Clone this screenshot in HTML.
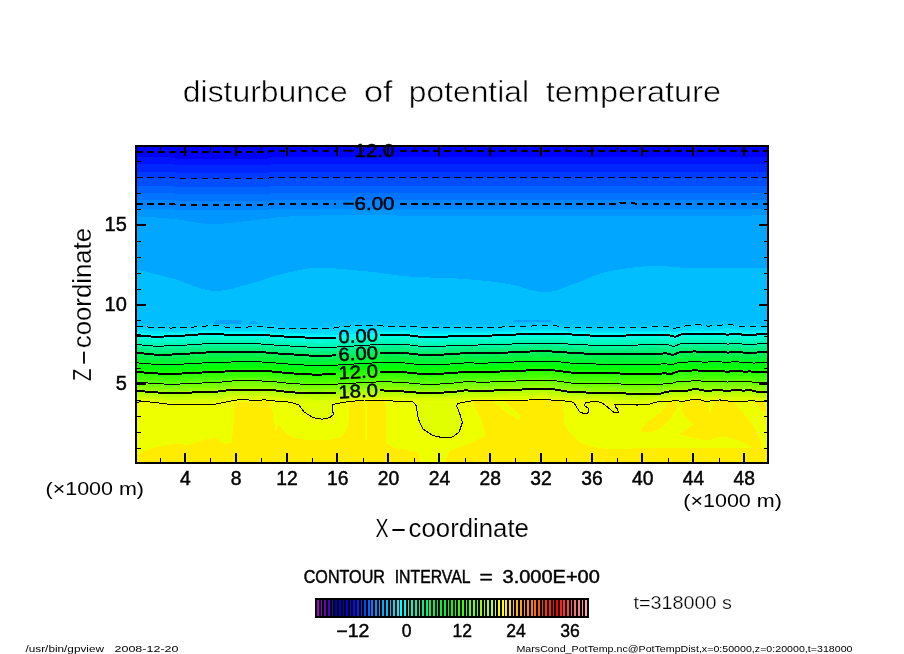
<!DOCTYPE html>
<html><head><meta charset="utf-8"><title>disturbunce of potential temperature</title>
<style>
html,body{margin:0;padding:0;background:#fff;}
body{width:904px;height:654px;overflow:hidden;}
svg{display:block;will-change:transform;}
svg text{font-family:"Liberation Sans",sans-serif;fill:#000;}
</style></head><body>
<svg width="904" height="654" viewBox="0 0 904 654">
<rect width="904" height="654" fill="#fff"/>
<defs><clipPath id="pc"><rect x="136" y="146" width="632" height="317"/></clipPath><clipPath id="b21"><path d="M136.0,402.3 L145.0,401.4 L168.0,404.1 L216.0,404.1 L233.0,400.5 L240.0,399.6 L260.0,400.5 L263.0,399.6 L278.0,401.4 L291.0,402.2 L298.8,405.0 L304.3,412.1 L313.2,417.7 L322.0,419.2 L329.8,417.7 L333.5,414.3 L332.0,408.8 L333.0,404.4 L344.2,402.2 L364.0,400.0 L386.2,400.6 L401.7,401.5 L412.7,401.5 L416.0,405.5 L418.3,418.8 L422.7,428.7 L432.7,435.4 L443.7,438.0 L452.6,436.9 L459.2,432.0 L462.5,422.1 L459.2,412.1 L456.5,405.9 L458.0,403.5 L463.6,402.2 L474.0,400.5 L509.0,400.5 L544.5,399.6 L560.0,400.6 L571.5,401.5 L574.2,403.3 L579.5,411.7 L585.2,414.1 L588.3,412.6 L588.3,408.1 L584.8,405.9 L585.2,402.8 L592.7,401.5 L598.0,401.5 L602.5,403.3 L607.8,407.3 L613.5,412.1 L618.4,412.1 L617.5,408.6 L615.3,407.3 L614.9,404.6 L622.0,404.2 L635.0,404.2 L637.0,405.2 L640.0,404.2 L648.0,404.5 L656.0,402.1 L674.6,400.8 L683.9,401.2 L694.5,399.2 L701.1,399.9 L705.1,401.6 L719.7,399.9 L733.0,401.6 L752.9,400.8 L762.2,401.9 L768.0,401.9 L768,464 L136,464 Z"/></clipPath></defs>
<g clip-path="url(#pc)" shape-rendering="crispEdges">
<path d="M136.0,146.0 L140.0,146.0 L144.0,146.0 L148.0,146.0 L152.0,146.0 L156.0,146.0 L160.0,146.0 L164.0,146.0 L168.0,146.0 L172.0,146.0 L176.0,146.0 L180.0,146.0 L184.0,146.0 L188.0,146.0 L192.0,146.0 L196.0,146.0 L200.0,146.0 L204.0,146.0 L208.0,146.0 L212.0,146.0 L216.0,146.0 L220.0,146.0 L224.0,146.0 L228.0,146.0 L232.0,146.0 L236.0,146.0 L240.0,146.0 L244.0,146.0 L248.0,146.0 L252.0,146.0 L256.0,146.0 L260.0,146.0 L264.0,146.0 L268.0,146.0 L272.0,146.0 L276.0,146.0 L280.0,146.0 L284.0,146.0 L288.0,146.0 L292.0,146.0 L296.0,146.0 L300.0,146.0 L304.0,146.0 L308.0,146.0 L312.0,146.0 L316.0,146.0 L320.0,146.0 L324.0,146.0 L328.0,146.0 L332.0,146.0 L336.0,146.0 L340.0,146.0 L344.0,146.0 L348.0,146.0 L352.0,146.0 L356.0,146.0 L360.0,146.0 L364.0,146.0 L368.0,146.0 L372.0,146.0 L376.0,146.0 L380.0,146.0 L384.0,146.0 L388.0,146.0 L392.0,146.0 L396.0,146.0 L400.0,146.0 L404.0,146.0 L408.0,146.0 L412.0,146.0 L416.0,146.0 L420.0,146.0 L424.0,146.0 L428.0,146.0 L432.0,146.0 L436.0,146.0 L440.0,146.0 L444.0,146.0 L448.0,146.0 L452.0,146.0 L456.0,146.0 L460.0,146.0 L464.0,146.0 L468.0,146.0 L472.0,146.0 L476.0,146.0 L480.0,146.0 L484.0,146.0 L488.0,146.0 L492.0,146.0 L496.0,146.0 L500.0,146.0 L504.0,146.0 L508.0,146.0 L512.0,146.0 L516.0,146.0 L520.0,146.0 L524.0,146.0 L528.0,146.0 L532.0,146.0 L536.0,146.0 L540.0,146.0 L544.0,146.0 L548.0,146.0 L552.0,146.0 L556.0,146.0 L560.0,146.0 L564.0,146.0 L568.0,146.0 L572.0,146.0 L576.0,146.0 L580.0,146.0 L584.0,146.0 L588.0,146.0 L592.0,146.0 L596.0,146.0 L600.0,146.0 L604.0,146.0 L608.0,146.0 L612.0,146.0 L616.0,146.0 L620.0,146.0 L624.0,146.0 L628.0,146.0 L632.0,146.0 L636.0,146.0 L640.0,146.0 L644.0,146.0 L648.0,146.0 L652.0,146.0 L656.0,146.0 L660.0,146.0 L664.0,146.0 L668.0,146.0 L672.0,146.0 L676.0,146.0 L680.0,146.0 L684.0,146.0 L688.0,146.0 L692.0,146.0 L696.0,146.0 L700.0,146.0 L704.0,146.0 L708.0,146.0 L712.0,146.0 L716.0,146.0 L720.0,146.0 L724.0,146.0 L728.0,146.0 L732.0,146.0 L736.0,146.0 L740.0,146.0 L744.0,146.0 L748.0,146.0 L752.0,146.0 L756.0,146.0 L760.0,146.0 L764.0,146.0 L768.0,146.0 L768.0,157.4 L764.0,157.4 L760.0,157.4 L756.0,157.4 L752.0,157.4 L748.0,157.4 L744.0,157.4 L740.0,157.4 L736.0,157.4 L732.0,157.4 L728.0,157.4 L724.0,157.4 L720.0,157.4 L716.0,157.4 L712.0,157.4 L708.0,157.4 L704.0,157.4 L700.0,157.4 L696.0,157.4 L692.0,157.4 L688.0,157.4 L684.0,157.4 L680.0,157.4 L676.0,157.4 L672.0,157.4 L668.0,157.4 L664.0,157.4 L660.0,157.4 L656.0,157.4 L652.0,157.4 L648.0,157.4 L644.0,157.4 L640.0,157.4 L636.0,157.4 L632.0,157.4 L628.0,157.4 L624.0,157.4 L620.0,157.4 L616.0,157.4 L612.0,157.4 L608.0,157.4 L604.0,157.4 L600.0,157.4 L596.0,157.4 L592.0,157.4 L588.0,157.4 L584.0,157.4 L580.0,157.4 L576.0,157.4 L572.0,157.4 L568.0,157.4 L564.0,157.4 L560.0,157.4 L556.0,157.4 L552.0,157.4 L548.0,157.4 L544.0,157.4 L540.0,157.4 L536.0,157.4 L532.0,157.4 L528.0,157.4 L524.0,157.4 L520.0,157.4 L516.0,157.4 L512.0,157.4 L508.0,157.4 L504.0,157.4 L500.0,157.4 L496.0,157.4 L492.0,157.4 L488.0,157.4 L484.0,157.4 L480.0,157.4 L476.0,157.4 L472.0,157.4 L468.0,157.4 L464.0,157.4 L460.0,157.4 L456.0,157.4 L452.0,157.4 L448.0,157.4 L444.0,157.4 L440.0,157.4 L436.0,157.4 L432.0,157.4 L428.0,157.4 L424.0,157.4 L420.0,157.4 L416.0,157.4 L412.0,157.4 L408.0,157.4 L404.0,157.4 L400.0,157.4 L396.0,157.4 L392.0,157.4 L388.0,157.4 L384.0,157.4 L380.0,157.4 L376.0,157.4 L372.0,157.4 L368.0,157.4 L364.0,157.4 L360.0,157.4 L356.0,157.4 L352.0,157.4 L348.0,157.4 L344.0,157.4 L340.0,157.4 L336.0,157.4 L332.0,157.4 L328.0,157.4 L324.0,157.4 L320.0,157.4 L316.0,157.4 L312.0,157.4 L308.0,157.4 L304.0,157.4 L300.0,157.4 L296.0,157.4 L292.0,157.4 L288.0,157.4 L284.0,157.4 L280.0,157.4 L276.0,157.4 L272.0,157.4 L268.0,158.5 L264.0,158.5 L260.0,158.5 L256.0,158.5 L252.0,158.5 L248.0,158.5 L244.0,158.5 L240.0,158.5 L236.0,158.5 L232.0,158.5 L228.0,158.5 L224.0,158.5 L220.0,158.5 L216.0,158.5 L212.0,158.5 L208.0,158.5 L204.0,158.5 L200.0,158.5 L196.0,158.5 L192.0,158.5 L188.0,158.5 L184.0,158.5 L180.0,158.5 L176.0,158.5 L172.0,157.4 L168.0,157.4 L164.0,157.4 L160.0,157.4 L156.0,157.4 L152.0,157.4 L148.0,157.4 L144.0,157.4 L140.0,157.4 L136.0,157.4Z" fill="#0000ff"/>
<path d="M136.0,157.4 L140.0,157.4 L144.0,157.4 L148.0,157.4 L152.0,157.4 L156.0,157.4 L160.0,157.4 L164.0,157.4 L168.0,157.4 L172.0,157.4 L176.0,158.5 L180.0,158.5 L184.0,158.5 L188.0,158.5 L192.0,158.5 L196.0,158.5 L200.0,158.5 L204.0,158.5 L208.0,158.5 L212.0,158.5 L216.0,158.5 L220.0,158.5 L224.0,158.5 L228.0,158.5 L232.0,158.5 L236.0,158.5 L240.0,158.5 L244.0,158.5 L248.0,158.5 L252.0,158.5 L256.0,158.5 L260.0,158.5 L264.0,158.5 L268.0,158.5 L272.0,157.4 L276.0,157.4 L280.0,157.4 L284.0,157.4 L288.0,157.4 L292.0,157.4 L296.0,157.4 L300.0,157.4 L304.0,157.4 L308.0,157.4 L312.0,157.4 L316.0,157.4 L320.0,157.4 L324.0,157.4 L328.0,157.4 L332.0,157.4 L336.0,157.4 L340.0,157.4 L344.0,157.4 L348.0,157.4 L352.0,157.4 L356.0,157.4 L360.0,157.4 L364.0,157.4 L368.0,157.4 L372.0,157.4 L376.0,157.4 L380.0,157.4 L384.0,157.4 L388.0,157.4 L392.0,157.4 L396.0,157.4 L400.0,157.4 L404.0,157.4 L408.0,157.4 L412.0,157.4 L416.0,157.4 L420.0,157.4 L424.0,157.4 L428.0,157.4 L432.0,157.4 L436.0,157.4 L440.0,157.4 L444.0,157.4 L448.0,157.4 L452.0,157.4 L456.0,157.4 L460.0,157.4 L464.0,157.4 L468.0,157.4 L472.0,157.4 L476.0,157.4 L480.0,157.4 L484.0,157.4 L488.0,157.4 L492.0,157.4 L496.0,157.4 L500.0,157.4 L504.0,157.4 L508.0,157.4 L512.0,157.4 L516.0,157.4 L520.0,157.4 L524.0,157.4 L528.0,157.4 L532.0,157.4 L536.0,157.4 L540.0,157.4 L544.0,157.4 L548.0,157.4 L552.0,157.4 L556.0,157.4 L560.0,157.4 L564.0,157.4 L568.0,157.4 L572.0,157.4 L576.0,157.4 L580.0,157.4 L584.0,157.4 L588.0,157.4 L592.0,157.4 L596.0,157.4 L600.0,157.4 L604.0,157.4 L608.0,157.4 L612.0,157.4 L616.0,157.4 L620.0,157.4 L624.0,157.4 L628.0,157.4 L632.0,157.4 L636.0,157.4 L640.0,157.4 L644.0,157.4 L648.0,157.4 L652.0,157.4 L656.0,157.4 L660.0,157.4 L664.0,157.4 L668.0,157.4 L672.0,157.4 L676.0,157.4 L680.0,157.4 L684.0,157.4 L688.0,157.4 L692.0,157.4 L696.0,157.4 L700.0,157.4 L704.0,157.4 L708.0,157.4 L712.0,157.4 L716.0,157.4 L720.0,157.4 L724.0,157.4 L728.0,157.4 L732.0,157.4 L736.0,157.4 L740.0,157.4 L744.0,157.4 L748.0,157.4 L752.0,157.4 L756.0,157.4 L760.0,157.4 L764.0,157.4 L768.0,157.4 L768.0,164.2 L764.0,164.2 L760.0,164.2 L756.0,164.2 L752.0,164.2 L748.0,164.2 L744.0,164.2 L740.0,164.2 L736.0,164.2 L732.0,164.2 L728.0,164.2 L724.0,164.2 L720.0,164.2 L716.0,164.2 L712.0,164.2 L708.0,164.2 L704.0,164.2 L700.0,164.2 L696.0,164.2 L692.0,164.2 L688.0,164.2 L684.0,164.2 L680.0,164.2 L676.0,164.2 L672.0,164.2 L668.0,164.2 L664.0,164.2 L660.0,164.2 L656.0,164.2 L652.0,164.2 L648.0,164.2 L644.0,164.2 L640.0,164.2 L636.0,164.2 L632.0,164.2 L628.0,164.2 L624.0,164.2 L620.0,164.2 L616.0,164.2 L612.0,164.2 L608.0,164.2 L604.0,164.2 L600.0,164.2 L596.0,164.2 L592.0,164.2 L588.0,164.2 L584.0,164.2 L580.0,164.2 L576.0,164.2 L572.0,164.2 L568.0,164.2 L564.0,164.2 L560.0,164.2 L556.0,164.2 L552.0,164.2 L548.0,164.2 L544.0,164.2 L540.0,164.2 L536.0,164.2 L532.0,164.2 L528.0,164.2 L524.0,164.2 L520.0,164.2 L516.0,164.2 L512.0,164.2 L508.0,164.2 L504.0,164.2 L500.0,164.2 L496.0,164.2 L492.0,164.2 L488.0,164.2 L484.0,164.2 L480.0,164.2 L476.0,164.2 L472.0,164.2 L468.0,164.2 L464.0,164.2 L460.0,164.2 L456.0,164.2 L452.0,164.2 L448.0,164.2 L444.0,164.2 L440.0,164.2 L436.0,164.2 L432.0,164.2 L428.0,164.2 L424.0,164.2 L420.0,164.2 L416.0,164.2 L412.0,164.2 L408.0,164.2 L404.0,164.2 L400.0,164.2 L396.0,164.2 L392.0,164.2 L388.0,164.2 L384.0,164.2 L380.0,164.2 L376.0,164.2 L372.0,164.2 L368.0,164.2 L364.0,164.2 L360.0,164.2 L356.0,164.2 L352.0,164.2 L348.0,164.2 L344.0,164.2 L340.0,164.2 L336.0,164.2 L332.0,164.2 L328.0,164.2 L324.0,164.2 L320.0,164.2 L316.0,164.2 L312.0,164.2 L308.0,164.2 L304.0,164.2 L300.0,164.2 L296.0,164.2 L292.0,164.2 L288.0,164.2 L284.0,164.2 L280.0,164.2 L276.0,164.2 L272.0,164.2 L268.0,165.3 L264.0,165.3 L260.0,165.3 L256.0,165.3 L252.0,165.3 L248.0,165.3 L244.0,165.3 L240.0,165.3 L236.0,165.3 L232.0,165.3 L228.0,165.3 L224.0,165.3 L220.0,165.3 L216.0,165.3 L212.0,165.3 L208.0,165.3 L204.0,165.3 L200.0,165.3 L196.0,165.3 L192.0,165.3 L188.0,165.3 L184.0,165.3 L180.0,165.3 L176.0,165.3 L172.0,164.2 L168.0,164.2 L164.0,164.2 L160.0,164.2 L156.0,164.2 L152.0,164.2 L148.0,164.2 L144.0,164.2 L140.0,164.2 L136.0,164.2Z" fill="#0012ff"/>
<path d="M136.0,164.2 L140.0,164.2 L144.0,164.2 L148.0,164.2 L152.0,164.2 L156.0,164.2 L160.0,164.2 L164.0,164.2 L168.0,164.2 L172.0,164.2 L176.0,165.3 L180.0,165.3 L184.0,165.3 L188.0,165.3 L192.0,165.3 L196.0,165.3 L200.0,165.3 L204.0,165.3 L208.0,165.3 L212.0,165.3 L216.0,165.3 L220.0,165.3 L224.0,165.3 L228.0,165.3 L232.0,165.3 L236.0,165.3 L240.0,165.3 L244.0,165.3 L248.0,165.3 L252.0,165.3 L256.0,165.3 L260.0,165.3 L264.0,165.3 L268.0,165.3 L272.0,164.2 L276.0,164.2 L280.0,164.2 L284.0,164.2 L288.0,164.2 L292.0,164.2 L296.0,164.2 L300.0,164.2 L304.0,164.2 L308.0,164.2 L312.0,164.2 L316.0,164.2 L320.0,164.2 L324.0,164.2 L328.0,164.2 L332.0,164.2 L336.0,164.2 L340.0,164.2 L344.0,164.2 L348.0,164.2 L352.0,164.2 L356.0,164.2 L360.0,164.2 L364.0,164.2 L368.0,164.2 L372.0,164.2 L376.0,164.2 L380.0,164.2 L384.0,164.2 L388.0,164.2 L392.0,164.2 L396.0,164.2 L400.0,164.2 L404.0,164.2 L408.0,164.2 L412.0,164.2 L416.0,164.2 L420.0,164.2 L424.0,164.2 L428.0,164.2 L432.0,164.2 L436.0,164.2 L440.0,164.2 L444.0,164.2 L448.0,164.2 L452.0,164.2 L456.0,164.2 L460.0,164.2 L464.0,164.2 L468.0,164.2 L472.0,164.2 L476.0,164.2 L480.0,164.2 L484.0,164.2 L488.0,164.2 L492.0,164.2 L496.0,164.2 L500.0,164.2 L504.0,164.2 L508.0,164.2 L512.0,164.2 L516.0,164.2 L520.0,164.2 L524.0,164.2 L528.0,164.2 L532.0,164.2 L536.0,164.2 L540.0,164.2 L544.0,164.2 L548.0,164.2 L552.0,164.2 L556.0,164.2 L560.0,164.2 L564.0,164.2 L568.0,164.2 L572.0,164.2 L576.0,164.2 L580.0,164.2 L584.0,164.2 L588.0,164.2 L592.0,164.2 L596.0,164.2 L600.0,164.2 L604.0,164.2 L608.0,164.2 L612.0,164.2 L616.0,164.2 L620.0,164.2 L624.0,164.2 L628.0,164.2 L632.0,164.2 L636.0,164.2 L640.0,164.2 L644.0,164.2 L648.0,164.2 L652.0,164.2 L656.0,164.2 L660.0,164.2 L664.0,164.2 L668.0,164.2 L672.0,164.2 L676.0,164.2 L680.0,164.2 L684.0,164.2 L688.0,164.2 L692.0,164.2 L696.0,164.2 L700.0,164.2 L704.0,164.2 L708.0,164.2 L712.0,164.2 L716.0,164.2 L720.0,164.2 L724.0,164.2 L728.0,164.2 L732.0,164.2 L736.0,164.2 L740.0,164.2 L744.0,164.2 L748.0,164.2 L752.0,164.2 L756.0,164.2 L760.0,164.2 L764.0,164.2 L768.0,164.2 L768.0,171.5 L764.0,171.5 L760.0,171.5 L756.0,171.5 L752.0,171.5 L748.0,171.5 L744.0,171.5 L740.0,171.5 L736.0,171.5 L732.0,171.5 L728.0,171.5 L724.0,171.5 L720.0,171.5 L716.0,171.5 L712.0,171.5 L708.0,171.5 L704.0,171.5 L700.0,171.5 L696.0,171.5 L692.0,171.5 L688.0,171.5 L684.0,171.5 L680.0,171.5 L676.0,171.5 L672.0,171.5 L668.0,171.5 L664.0,171.5 L660.0,171.5 L656.0,171.5 L652.0,171.5 L648.0,171.5 L644.0,171.5 L640.0,171.5 L636.0,171.5 L632.0,171.5 L628.0,171.5 L624.0,171.5 L620.0,171.5 L616.0,171.5 L612.0,171.5 L608.0,171.5 L604.0,171.5 L600.0,171.5 L596.0,171.5 L592.0,171.5 L588.0,171.5 L584.0,171.5 L580.0,171.5 L576.0,171.5 L572.0,171.5 L568.0,171.5 L564.0,171.5 L560.0,171.5 L556.0,171.5 L552.0,171.5 L548.0,171.5 L544.0,171.5 L540.0,171.5 L536.0,171.5 L532.0,171.5 L528.0,171.5 L524.0,171.5 L520.0,171.5 L516.0,171.5 L512.0,171.5 L508.0,171.5 L504.0,171.5 L500.0,171.5 L496.0,171.5 L492.0,171.5 L488.0,171.5 L484.0,171.5 L480.0,171.5 L476.0,171.5 L472.0,171.5 L468.0,171.5 L464.0,171.5 L460.0,171.5 L456.0,171.5 L452.0,171.5 L448.0,171.5 L444.0,171.5 L440.0,171.5 L436.0,171.5 L432.0,171.5 L428.0,171.5 L424.0,171.5 L420.0,171.5 L416.0,171.5 L412.0,171.5 L408.0,171.5 L404.0,171.5 L400.0,171.5 L396.0,171.5 L392.0,171.5 L388.0,171.5 L384.0,171.5 L380.0,171.5 L376.0,171.5 L372.0,171.5 L368.0,171.5 L364.0,171.5 L360.0,171.5 L356.0,171.5 L352.0,171.5 L348.0,171.5 L344.0,171.5 L340.0,171.5 L336.0,171.5 L332.0,171.5 L328.0,171.5 L324.0,171.5 L320.0,171.5 L316.0,171.5 L312.0,171.5 L308.0,171.5 L304.0,171.5 L300.0,171.5 L296.0,171.5 L292.0,171.5 L288.0,171.5 L284.0,171.5 L280.0,171.5 L276.0,171.5 L272.0,171.5 L268.0,172.6 L264.0,172.6 L260.0,172.6 L256.0,172.6 L252.0,172.6 L248.0,172.6 L244.0,172.6 L240.0,172.6 L236.0,172.6 L232.0,172.6 L228.0,172.6 L224.0,172.6 L220.0,172.6 L216.0,172.6 L212.0,172.6 L208.0,172.6 L204.0,172.6 L200.0,172.6 L196.0,172.6 L192.0,172.6 L188.0,172.6 L184.0,172.6 L180.0,172.6 L176.0,172.6 L172.0,171.5 L168.0,171.5 L164.0,171.5 L160.0,171.5 L156.0,171.5 L152.0,171.5 L148.0,171.5 L144.0,171.5 L140.0,171.5 L136.0,171.5Z" fill="#0026ff"/>
<path d="M136.0,171.5 L140.0,171.5 L144.0,171.5 L148.0,171.5 L152.0,171.5 L156.0,171.5 L160.0,171.5 L164.0,171.5 L168.0,171.5 L172.0,171.5 L176.0,172.6 L180.0,172.6 L184.0,172.6 L188.0,172.6 L192.0,172.6 L196.0,172.6 L200.0,172.6 L204.0,172.6 L208.0,172.6 L212.0,172.6 L216.0,172.6 L220.0,172.6 L224.0,172.6 L228.0,172.6 L232.0,172.6 L236.0,172.6 L240.0,172.6 L244.0,172.6 L248.0,172.6 L252.0,172.6 L256.0,172.6 L260.0,172.6 L264.0,172.6 L268.0,172.6 L272.0,171.5 L276.0,171.5 L280.0,171.5 L284.0,171.5 L288.0,171.5 L292.0,171.5 L296.0,171.5 L300.0,171.5 L304.0,171.5 L308.0,171.5 L312.0,171.5 L316.0,171.5 L320.0,171.5 L324.0,171.5 L328.0,171.5 L332.0,171.5 L336.0,171.5 L340.0,171.5 L344.0,171.5 L348.0,171.5 L352.0,171.5 L356.0,171.5 L360.0,171.5 L364.0,171.5 L368.0,171.5 L372.0,171.5 L376.0,171.5 L380.0,171.5 L384.0,171.5 L388.0,171.5 L392.0,171.5 L396.0,171.5 L400.0,171.5 L404.0,171.5 L408.0,171.5 L412.0,171.5 L416.0,171.5 L420.0,171.5 L424.0,171.5 L428.0,171.5 L432.0,171.5 L436.0,171.5 L440.0,171.5 L444.0,171.5 L448.0,171.5 L452.0,171.5 L456.0,171.5 L460.0,171.5 L464.0,171.5 L468.0,171.5 L472.0,171.5 L476.0,171.5 L480.0,171.5 L484.0,171.5 L488.0,171.5 L492.0,171.5 L496.0,171.5 L500.0,171.5 L504.0,171.5 L508.0,171.5 L512.0,171.5 L516.0,171.5 L520.0,171.5 L524.0,171.5 L528.0,171.5 L532.0,171.5 L536.0,171.5 L540.0,171.5 L544.0,171.5 L548.0,171.5 L552.0,171.5 L556.0,171.5 L560.0,171.5 L564.0,171.5 L568.0,171.5 L572.0,171.5 L576.0,171.5 L580.0,171.5 L584.0,171.5 L588.0,171.5 L592.0,171.5 L596.0,171.5 L600.0,171.5 L604.0,171.5 L608.0,171.5 L612.0,171.5 L616.0,171.5 L620.0,171.5 L624.0,171.5 L628.0,171.5 L632.0,171.5 L636.0,171.5 L640.0,171.5 L644.0,171.5 L648.0,171.5 L652.0,171.5 L656.0,171.5 L660.0,171.5 L664.0,171.5 L668.0,171.5 L672.0,171.5 L676.0,171.5 L680.0,171.5 L684.0,171.5 L688.0,171.5 L692.0,171.5 L696.0,171.5 L700.0,171.5 L704.0,171.5 L708.0,171.5 L712.0,171.5 L716.0,171.5 L720.0,171.5 L724.0,171.5 L728.0,171.5 L732.0,171.5 L736.0,171.5 L740.0,171.5 L744.0,171.5 L748.0,171.5 L752.0,171.5 L756.0,171.5 L760.0,171.5 L764.0,171.5 L768.0,171.5 L768.0,178.2 L764.0,178.2 L760.0,178.2 L756.0,178.2 L752.0,178.2 L748.0,178.2 L744.0,178.2 L740.0,178.2 L736.0,178.2 L732.0,178.2 L728.0,178.2 L724.0,178.2 L720.0,178.2 L716.0,178.2 L712.0,178.2 L708.0,178.2 L704.0,178.2 L700.0,178.2 L696.0,178.2 L692.0,178.2 L688.0,178.2 L684.0,178.2 L680.0,178.2 L676.0,178.2 L672.0,178.2 L668.0,178.2 L664.0,178.2 L660.0,178.2 L656.0,178.2 L652.0,178.2 L648.0,178.2 L644.0,178.2 L640.0,178.2 L636.0,178.2 L632.0,178.2 L628.0,178.2 L624.0,178.2 L620.0,178.2 L616.0,178.2 L612.0,178.2 L608.0,178.2 L604.0,178.2 L600.0,178.2 L596.0,178.2 L592.0,178.2 L588.0,178.2 L584.0,178.2 L580.0,178.2 L576.0,178.2 L572.0,178.2 L568.0,178.2 L564.0,178.2 L560.0,178.2 L556.0,178.2 L552.0,178.2 L548.0,178.2 L544.0,178.2 L540.0,178.2 L536.0,178.2 L532.0,178.2 L528.0,178.2 L524.0,178.2 L520.0,178.2 L516.0,178.2 L512.0,178.2 L508.0,178.2 L504.0,178.2 L500.0,178.2 L496.0,178.2 L492.0,178.2 L488.0,178.2 L484.0,178.2 L480.0,178.2 L476.0,178.2 L472.0,178.2 L468.0,178.2 L464.0,178.2 L460.0,178.2 L456.0,178.2 L452.0,178.2 L448.0,178.2 L444.0,178.2 L440.0,178.2 L436.0,178.2 L432.0,178.2 L428.0,178.2 L424.0,178.2 L420.0,178.2 L416.0,178.2 L412.0,178.2 L408.0,178.2 L404.0,178.2 L400.0,178.2 L396.0,178.2 L392.0,178.2 L388.0,178.2 L384.0,178.2 L380.0,178.2 L376.0,178.2 L372.0,178.2 L368.0,178.2 L364.0,178.2 L360.0,178.2 L356.0,178.2 L352.0,178.2 L348.0,178.2 L344.0,178.2 L340.0,178.2 L336.0,178.2 L332.0,178.2 L328.0,178.2 L324.0,178.2 L320.0,178.2 L316.0,178.2 L312.0,178.2 L308.0,178.2 L304.0,178.2 L300.0,178.2 L296.0,178.2 L292.0,178.2 L288.0,178.2 L284.0,178.2 L280.0,178.2 L276.0,178.2 L272.0,178.2 L268.0,179.3 L264.0,179.3 L260.0,179.3 L256.0,179.3 L252.0,179.3 L248.0,179.3 L244.0,179.3 L240.0,179.3 L236.0,179.3 L232.0,179.3 L228.0,179.3 L224.0,179.3 L220.0,179.3 L216.0,179.3 L212.0,179.3 L208.0,179.3 L204.0,179.3 L200.0,179.3 L196.0,179.3 L192.0,179.3 L188.0,179.3 L184.0,179.3 L180.0,179.3 L176.0,179.3 L172.0,178.2 L168.0,178.2 L164.0,178.2 L160.0,178.2 L156.0,178.2 L152.0,178.2 L148.0,178.2 L144.0,178.2 L140.0,178.2 L136.0,178.2Z" fill="#003aff"/>
<path d="M136.0,178.2 L140.0,178.2 L144.0,178.2 L148.0,178.2 L152.0,178.2 L156.0,178.2 L160.0,178.2 L164.0,178.2 L168.0,178.2 L172.0,178.2 L176.0,179.3 L180.0,179.3 L184.0,179.3 L188.0,179.3 L192.0,179.3 L196.0,179.3 L200.0,179.3 L204.0,179.3 L208.0,179.3 L212.0,179.3 L216.0,179.3 L220.0,179.3 L224.0,179.3 L228.0,179.3 L232.0,179.3 L236.0,179.3 L240.0,179.3 L244.0,179.3 L248.0,179.3 L252.0,179.3 L256.0,179.3 L260.0,179.3 L264.0,179.3 L268.0,179.3 L272.0,178.2 L276.0,178.2 L280.0,178.2 L284.0,178.2 L288.0,178.2 L292.0,178.2 L296.0,178.2 L300.0,178.2 L304.0,178.2 L308.0,178.2 L312.0,178.2 L316.0,178.2 L320.0,178.2 L324.0,178.2 L328.0,178.2 L332.0,178.2 L336.0,178.2 L340.0,178.2 L344.0,178.2 L348.0,178.2 L352.0,178.2 L356.0,178.2 L360.0,178.2 L364.0,178.2 L368.0,178.2 L372.0,178.2 L376.0,178.2 L380.0,178.2 L384.0,178.2 L388.0,178.2 L392.0,178.2 L396.0,178.2 L400.0,178.2 L404.0,178.2 L408.0,178.2 L412.0,178.2 L416.0,178.2 L420.0,178.2 L424.0,178.2 L428.0,178.2 L432.0,178.2 L436.0,178.2 L440.0,178.2 L444.0,178.2 L448.0,178.2 L452.0,178.2 L456.0,178.2 L460.0,178.2 L464.0,178.2 L468.0,178.2 L472.0,178.2 L476.0,178.2 L480.0,178.2 L484.0,178.2 L488.0,178.2 L492.0,178.2 L496.0,178.2 L500.0,178.2 L504.0,178.2 L508.0,178.2 L512.0,178.2 L516.0,178.2 L520.0,178.2 L524.0,178.2 L528.0,178.2 L532.0,178.2 L536.0,178.2 L540.0,178.2 L544.0,178.2 L548.0,178.2 L552.0,178.2 L556.0,178.2 L560.0,178.2 L564.0,178.2 L568.0,178.2 L572.0,178.2 L576.0,178.2 L580.0,178.2 L584.0,178.2 L588.0,178.2 L592.0,178.2 L596.0,178.2 L600.0,178.2 L604.0,178.2 L608.0,178.2 L612.0,178.2 L616.0,178.2 L620.0,178.2 L624.0,178.2 L628.0,178.2 L632.0,178.2 L636.0,178.2 L640.0,178.2 L644.0,178.2 L648.0,178.2 L652.0,178.2 L656.0,178.2 L660.0,178.2 L664.0,178.2 L668.0,178.2 L672.0,178.2 L676.0,178.2 L680.0,178.2 L684.0,178.2 L688.0,178.2 L692.0,178.2 L696.0,178.2 L700.0,178.2 L704.0,178.2 L708.0,178.2 L712.0,178.2 L716.0,178.2 L720.0,178.2 L724.0,178.2 L728.0,178.2 L732.0,178.2 L736.0,178.2 L740.0,178.2 L744.0,178.2 L748.0,178.2 L752.0,178.2 L756.0,178.2 L760.0,178.2 L764.0,178.2 L768.0,178.2 L768.0,185.6 L764.0,185.6 L760.0,185.6 L756.0,185.6 L752.0,185.6 L748.0,185.6 L744.0,185.6 L740.0,185.6 L736.0,185.6 L732.0,185.6 L728.0,185.6 L724.0,185.6 L720.0,185.6 L716.0,185.6 L712.0,185.6 L708.0,185.6 L704.0,185.6 L700.0,185.6 L696.0,185.6 L692.0,185.6 L688.0,185.6 L684.0,185.6 L680.0,185.6 L676.0,185.6 L672.0,185.6 L668.0,185.6 L664.0,185.6 L660.0,185.6 L656.0,185.6 L652.0,185.6 L648.0,185.6 L644.0,185.6 L640.0,185.6 L636.0,185.6 L632.0,185.6 L628.0,185.6 L624.0,185.6 L620.0,185.6 L616.0,185.6 L612.0,185.6 L608.0,185.6 L604.0,185.6 L600.0,185.6 L596.0,185.6 L592.0,185.6 L588.0,185.6 L584.0,185.6 L580.0,185.6 L576.0,185.6 L572.0,185.6 L568.0,185.6 L564.0,185.6 L560.0,185.6 L556.0,185.6 L552.0,185.6 L548.0,185.6 L544.0,185.6 L540.0,185.6 L536.0,185.6 L532.0,185.6 L528.0,185.6 L524.0,185.6 L520.0,185.6 L516.0,185.6 L512.0,185.6 L508.0,185.6 L504.0,185.6 L500.0,185.6 L496.0,185.6 L492.0,185.6 L488.0,185.6 L484.0,185.6 L480.0,185.6 L476.0,185.6 L472.0,185.6 L468.0,185.6 L464.0,185.6 L460.0,185.6 L456.0,185.6 L452.0,185.6 L448.0,185.6 L444.0,185.6 L440.0,185.6 L436.0,185.6 L432.0,185.6 L428.0,185.6 L424.0,185.6 L420.0,185.6 L416.0,185.6 L412.0,185.6 L408.0,185.6 L404.0,185.6 L400.0,185.6 L396.0,185.6 L392.0,185.6 L388.0,185.6 L384.0,185.6 L380.0,185.6 L376.0,185.6 L372.0,185.6 L368.0,185.6 L364.0,185.6 L360.0,185.6 L356.0,185.6 L352.0,185.6 L348.0,185.6 L344.0,185.6 L340.0,185.6 L336.0,185.6 L332.0,185.6 L328.0,185.6 L324.0,185.6 L320.0,185.6 L316.0,185.6 L312.0,185.6 L308.0,185.6 L304.0,185.6 L300.0,185.6 L296.0,185.6 L292.0,185.6 L288.0,185.6 L284.0,185.6 L280.0,185.6 L276.0,185.6 L272.0,185.6 L268.0,186.7 L264.0,186.7 L260.0,186.7 L256.0,186.7 L252.0,186.7 L248.0,186.7 L244.0,186.7 L240.0,186.7 L236.0,186.7 L232.0,186.7 L228.0,186.7 L224.0,186.7 L220.0,186.7 L216.0,186.7 L212.0,186.7 L208.0,186.7 L204.0,186.7 L200.0,186.7 L196.0,186.7 L192.0,186.7 L188.0,186.7 L184.0,186.7 L180.0,186.7 L176.0,186.7 L172.0,185.6 L168.0,185.6 L164.0,185.6 L160.0,185.6 L156.0,185.6 L152.0,185.6 L148.0,185.6 L144.0,185.6 L140.0,185.6 L136.0,185.6Z" fill="#004eff"/>
<path d="M136.0,185.6 L140.0,185.6 L144.0,185.6 L148.0,185.6 L152.0,185.6 L156.0,185.6 L160.0,185.6 L164.0,185.6 L168.0,185.6 L172.0,185.6 L176.0,186.7 L180.0,186.7 L184.0,186.7 L188.0,186.7 L192.0,186.7 L196.0,186.7 L200.0,186.7 L204.0,186.7 L208.0,186.7 L212.0,186.7 L216.0,186.7 L220.0,186.7 L224.0,186.7 L228.0,186.7 L232.0,186.7 L236.0,186.7 L240.0,186.7 L244.0,186.7 L248.0,186.7 L252.0,186.7 L256.0,186.7 L260.0,186.7 L264.0,186.7 L268.0,186.7 L272.0,185.6 L276.0,185.6 L280.0,185.6 L284.0,185.6 L288.0,185.6 L292.0,185.6 L296.0,185.6 L300.0,185.6 L304.0,185.6 L308.0,185.6 L312.0,185.6 L316.0,185.6 L320.0,185.6 L324.0,185.6 L328.0,185.6 L332.0,185.6 L336.0,185.6 L340.0,185.6 L344.0,185.6 L348.0,185.6 L352.0,185.6 L356.0,185.6 L360.0,185.6 L364.0,185.6 L368.0,185.6 L372.0,185.6 L376.0,185.6 L380.0,185.6 L384.0,185.6 L388.0,185.6 L392.0,185.6 L396.0,185.6 L400.0,185.6 L404.0,185.6 L408.0,185.6 L412.0,185.6 L416.0,185.6 L420.0,185.6 L424.0,185.6 L428.0,185.6 L432.0,185.6 L436.0,185.6 L440.0,185.6 L444.0,185.6 L448.0,185.6 L452.0,185.6 L456.0,185.6 L460.0,185.6 L464.0,185.6 L468.0,185.6 L472.0,185.6 L476.0,185.6 L480.0,185.6 L484.0,185.6 L488.0,185.6 L492.0,185.6 L496.0,185.6 L500.0,185.6 L504.0,185.6 L508.0,185.6 L512.0,185.6 L516.0,185.6 L520.0,185.6 L524.0,185.6 L528.0,185.6 L532.0,185.6 L536.0,185.6 L540.0,185.6 L544.0,185.6 L548.0,185.6 L552.0,185.6 L556.0,185.6 L560.0,185.6 L564.0,185.6 L568.0,185.6 L572.0,185.6 L576.0,185.6 L580.0,185.6 L584.0,185.6 L588.0,185.6 L592.0,185.6 L596.0,185.6 L600.0,185.6 L604.0,185.6 L608.0,185.6 L612.0,185.6 L616.0,185.6 L620.0,185.6 L624.0,185.6 L628.0,185.6 L632.0,185.6 L636.0,185.6 L640.0,185.6 L644.0,185.6 L648.0,185.6 L652.0,185.6 L656.0,185.6 L660.0,185.6 L664.0,185.6 L668.0,185.6 L672.0,185.6 L676.0,185.6 L680.0,185.6 L684.0,185.6 L688.0,185.6 L692.0,185.6 L696.0,185.6 L700.0,185.6 L704.0,185.6 L708.0,185.6 L712.0,185.6 L716.0,185.6 L720.0,185.6 L724.0,185.6 L728.0,185.6 L732.0,185.6 L736.0,185.6 L740.0,185.6 L744.0,185.6 L748.0,185.6 L752.0,185.6 L756.0,185.6 L760.0,185.6 L764.0,185.6 L768.0,185.6 L768.0,192.9 L764.0,192.9 L760.0,192.9 L756.0,192.9 L752.0,192.9 L748.0,192.9 L744.0,192.9 L740.0,192.9 L736.0,192.9 L732.0,192.9 L728.0,192.9 L724.0,192.9 L720.0,192.9 L716.0,192.9 L712.0,192.9 L708.0,192.9 L704.0,192.9 L700.0,192.9 L696.0,192.9 L692.0,192.9 L688.0,192.9 L684.0,192.9 L680.0,192.9 L676.0,192.9 L672.0,192.9 L668.0,192.9 L664.0,192.9 L660.0,192.9 L656.0,192.9 L652.0,192.9 L648.0,192.9 L644.0,192.9 L640.0,192.9 L636.0,192.9 L632.0,192.9 L628.0,192.9 L624.0,192.9 L620.0,192.9 L616.0,192.9 L612.0,192.9 L608.0,192.9 L604.0,192.9 L600.0,192.9 L596.0,192.9 L592.0,192.9 L588.0,192.9 L584.0,192.9 L580.0,192.9 L576.0,192.9 L572.0,192.9 L568.0,192.9 L564.0,192.9 L560.0,192.9 L556.0,192.9 L552.0,192.9 L548.0,192.9 L544.0,192.9 L540.0,192.9 L536.0,192.9 L532.0,192.9 L528.0,192.9 L524.0,192.9 L520.0,192.9 L516.0,192.9 L512.0,192.9 L508.0,192.9 L504.0,192.9 L500.0,192.9 L496.0,192.9 L492.0,192.9 L488.0,192.9 L484.0,192.9 L480.0,192.9 L476.0,192.9 L472.0,192.9 L468.0,192.9 L464.0,192.9 L460.0,192.9 L456.0,192.9 L452.0,192.9 L448.0,192.9 L444.0,192.9 L440.0,192.9 L436.0,192.9 L432.0,192.9 L428.0,192.9 L424.0,192.9 L420.0,192.9 L416.0,192.9 L412.0,192.9 L408.0,192.9 L404.0,192.9 L400.0,192.9 L396.0,192.9 L392.0,192.9 L388.0,192.9 L384.0,192.9 L380.0,192.9 L376.0,192.9 L372.0,192.9 L368.0,192.9 L364.0,192.9 L360.0,192.9 L356.0,192.9 L352.0,192.9 L348.0,192.9 L344.0,192.9 L340.0,192.9 L336.0,192.9 L332.0,192.9 L328.0,192.9 L324.0,192.9 L320.0,192.9 L316.0,192.9 L312.0,192.9 L308.0,192.9 L304.0,192.9 L300.0,192.9 L296.0,192.9 L292.0,192.9 L288.0,192.9 L284.0,192.9 L280.0,192.9 L276.0,192.9 L272.0,192.9 L268.0,194.0 L264.0,194.0 L260.0,194.0 L256.0,194.0 L252.0,194.0 L248.0,194.0 L244.0,194.0 L240.0,194.0 L236.0,194.0 L232.0,194.0 L228.0,194.0 L224.0,194.0 L220.0,194.0 L216.0,194.0 L212.0,194.0 L208.0,194.0 L204.0,194.0 L200.0,194.0 L196.0,194.0 L192.0,194.0 L188.0,194.0 L184.0,194.0 L180.0,194.0 L176.0,194.0 L172.0,192.9 L168.0,192.9 L164.0,192.9 L160.0,192.9 L156.0,192.9 L152.0,192.9 L148.0,192.9 L144.0,192.9 L140.0,192.9 L136.0,192.9Z" fill="#0062ff"/>
<path d="M136.0,192.9 L140.0,192.9 L144.0,192.9 L148.0,192.9 L152.0,192.9 L156.0,192.9 L160.0,192.9 L164.0,192.9 L168.0,192.9 L172.0,192.9 L176.0,194.0 L180.0,194.0 L184.0,194.0 L188.0,194.0 L192.0,194.0 L196.0,194.0 L200.0,194.0 L204.0,194.0 L208.0,194.0 L212.0,194.0 L216.0,194.0 L220.0,194.0 L224.0,194.0 L228.0,194.0 L232.0,194.0 L236.0,194.0 L240.0,194.0 L244.0,194.0 L248.0,194.0 L252.0,194.0 L256.0,194.0 L260.0,194.0 L264.0,194.0 L268.0,194.0 L272.0,192.9 L276.0,192.9 L280.0,192.9 L284.0,192.9 L288.0,192.9 L292.0,192.9 L296.0,192.9 L300.0,192.9 L304.0,192.9 L308.0,192.9 L312.0,192.9 L316.0,192.9 L320.0,192.9 L324.0,192.9 L328.0,192.9 L332.0,192.9 L336.0,192.9 L340.0,192.9 L344.0,192.9 L348.0,192.9 L352.0,192.9 L356.0,192.9 L360.0,192.9 L364.0,192.9 L368.0,192.9 L372.0,192.9 L376.0,192.9 L380.0,192.9 L384.0,192.9 L388.0,192.9 L392.0,192.9 L396.0,192.9 L400.0,192.9 L404.0,192.9 L408.0,192.9 L412.0,192.9 L416.0,192.9 L420.0,192.9 L424.0,192.9 L428.0,192.9 L432.0,192.9 L436.0,192.9 L440.0,192.9 L444.0,192.9 L448.0,192.9 L452.0,192.9 L456.0,192.9 L460.0,192.9 L464.0,192.9 L468.0,192.9 L472.0,192.9 L476.0,192.9 L480.0,192.9 L484.0,192.9 L488.0,192.9 L492.0,192.9 L496.0,192.9 L500.0,192.9 L504.0,192.9 L508.0,192.9 L512.0,192.9 L516.0,192.9 L520.0,192.9 L524.0,192.9 L528.0,192.9 L532.0,192.9 L536.0,192.9 L540.0,192.9 L544.0,192.9 L548.0,192.9 L552.0,192.9 L556.0,192.9 L560.0,192.9 L564.0,192.9 L568.0,192.9 L572.0,192.9 L576.0,192.9 L580.0,192.9 L584.0,192.9 L588.0,192.9 L592.0,192.9 L596.0,192.9 L600.0,192.9 L604.0,192.9 L608.0,192.9 L612.0,192.9 L616.0,192.9 L620.0,192.9 L624.0,192.9 L628.0,192.9 L632.0,192.9 L636.0,192.9 L640.0,192.9 L644.0,192.9 L648.0,192.9 L652.0,192.9 L656.0,192.9 L660.0,192.9 L664.0,192.9 L668.0,192.9 L672.0,192.9 L676.0,192.9 L680.0,192.9 L684.0,192.9 L688.0,192.9 L692.0,192.9 L696.0,192.9 L700.0,192.9 L704.0,192.9 L708.0,192.9 L712.0,192.9 L716.0,192.9 L720.0,192.9 L724.0,192.9 L728.0,192.9 L732.0,192.9 L736.0,192.9 L740.0,192.9 L744.0,192.9 L748.0,192.9 L752.0,192.9 L756.0,192.9 L760.0,192.9 L764.0,192.9 L768.0,192.9 L768.0,200.2 L764.0,200.2 L760.0,200.2 L756.0,200.2 L752.0,200.2 L748.0,200.2 L744.0,200.2 L740.0,200.2 L736.0,200.2 L732.0,200.2 L728.0,200.2 L724.0,200.2 L720.0,200.2 L716.0,200.2 L712.0,200.2 L708.0,200.2 L704.0,200.2 L700.0,200.2 L696.0,200.2 L692.0,200.2 L688.0,200.2 L684.0,200.2 L680.0,200.2 L676.0,200.2 L672.0,200.2 L668.0,200.2 L664.0,200.2 L660.0,200.2 L656.0,200.2 L652.0,200.2 L648.0,200.2 L644.0,200.2 L640.0,200.2 L636.0,200.2 L632.0,200.2 L628.0,200.2 L624.0,200.2 L620.0,200.2 L616.0,200.2 L612.0,200.2 L608.0,200.2 L604.0,200.2 L600.0,200.2 L596.0,200.2 L592.0,200.2 L588.0,200.2 L584.0,200.2 L580.0,200.2 L576.0,200.2 L572.0,200.2 L568.0,200.2 L564.0,200.2 L560.0,200.2 L556.0,200.2 L552.0,200.2 L548.0,200.2 L544.0,200.2 L540.0,200.2 L536.0,200.2 L532.0,200.2 L528.0,200.2 L524.0,200.2 L520.0,200.2 L516.0,200.2 L512.0,200.2 L508.0,200.2 L504.0,200.2 L500.0,200.2 L496.0,200.2 L492.0,200.2 L488.0,200.2 L484.0,200.2 L480.0,200.2 L476.0,200.2 L472.0,200.2 L468.0,200.2 L464.0,200.2 L460.0,200.2 L456.0,200.2 L452.0,200.2 L448.0,200.2 L444.0,200.2 L440.0,200.2 L436.0,200.2 L432.0,200.2 L428.0,200.2 L424.0,200.2 L420.0,200.2 L416.0,200.2 L412.0,200.2 L408.0,200.2 L404.0,200.2 L400.0,200.2 L396.0,200.2 L392.0,200.2 L388.0,200.2 L384.0,200.2 L380.0,200.2 L376.0,200.2 L372.0,200.2 L368.0,200.2 L364.0,200.2 L360.0,200.2 L356.0,200.2 L352.0,200.2 L348.0,200.2 L344.0,200.2 L340.0,200.2 L336.0,200.2 L332.0,200.2 L328.0,200.2 L324.0,200.2 L320.0,200.2 L316.0,200.2 L312.0,200.2 L308.0,200.2 L304.0,200.2 L300.0,200.2 L296.0,200.2 L292.0,200.2 L288.0,200.2 L284.0,200.2 L280.0,200.2 L276.0,200.2 L272.0,200.2 L268.0,201.3 L264.0,201.3 L260.0,201.3 L256.0,201.3 L252.0,201.3 L248.0,201.3 L244.0,201.3 L240.0,201.3 L236.0,201.3 L232.0,201.3 L228.0,201.3 L224.0,201.3 L220.0,201.3 L216.0,201.3 L212.0,201.3 L208.0,201.3 L204.0,201.3 L200.0,201.3 L196.0,201.3 L192.0,201.3 L188.0,201.3 L184.0,201.3 L180.0,201.3 L176.0,201.3 L172.0,200.2 L168.0,200.2 L164.0,200.2 L160.0,200.2 L156.0,200.2 L152.0,200.2 L148.0,200.2 L144.0,200.2 L140.0,200.2 L136.0,200.2Z" fill="#0074ff"/>
<path d="M136.0,200.2 L140.0,200.2 L144.0,200.2 L148.0,200.2 L152.0,200.2 L156.0,200.2 L160.0,200.2 L164.0,200.2 L168.0,200.2 L172.0,200.2 L176.0,201.3 L180.0,201.3 L184.0,201.3 L188.0,201.3 L192.0,201.3 L196.0,201.3 L200.0,201.3 L204.0,201.3 L208.0,201.3 L212.0,201.3 L216.0,201.3 L220.0,201.3 L224.0,201.3 L228.0,201.3 L232.0,201.3 L236.0,201.3 L240.0,201.3 L244.0,201.3 L248.0,201.3 L252.0,201.3 L256.0,201.3 L260.0,201.3 L264.0,201.3 L268.0,201.3 L272.0,200.2 L276.0,200.2 L280.0,200.2 L284.0,200.2 L288.0,200.2 L292.0,200.2 L296.0,200.2 L300.0,200.2 L304.0,200.2 L308.0,200.2 L312.0,200.2 L316.0,200.2 L320.0,200.2 L324.0,200.2 L328.0,200.2 L332.0,200.2 L336.0,200.2 L340.0,200.2 L344.0,200.2 L348.0,200.2 L352.0,200.2 L356.0,200.2 L360.0,200.2 L364.0,200.2 L368.0,200.2 L372.0,200.2 L376.0,200.2 L380.0,200.2 L384.0,200.2 L388.0,200.2 L392.0,200.2 L396.0,200.2 L400.0,200.2 L404.0,200.2 L408.0,200.2 L412.0,200.2 L416.0,200.2 L420.0,200.2 L424.0,200.2 L428.0,200.2 L432.0,200.2 L436.0,200.2 L440.0,200.2 L444.0,200.2 L448.0,200.2 L452.0,200.2 L456.0,200.2 L460.0,200.2 L464.0,200.2 L468.0,200.2 L472.0,200.2 L476.0,200.2 L480.0,200.2 L484.0,200.2 L488.0,200.2 L492.0,200.2 L496.0,200.2 L500.0,200.2 L504.0,200.2 L508.0,200.2 L512.0,200.2 L516.0,200.2 L520.0,200.2 L524.0,200.2 L528.0,200.2 L532.0,200.2 L536.0,200.2 L540.0,200.2 L544.0,200.2 L548.0,200.2 L552.0,200.2 L556.0,200.2 L560.0,200.2 L564.0,200.2 L568.0,200.2 L572.0,200.2 L576.0,200.2 L580.0,200.2 L584.0,200.2 L588.0,200.2 L592.0,200.2 L596.0,200.2 L600.0,200.2 L604.0,200.2 L608.0,200.2 L612.0,200.2 L616.0,200.2 L620.0,200.2 L624.0,200.2 L628.0,200.2 L632.0,200.2 L636.0,200.2 L640.0,200.2 L644.0,200.2 L648.0,200.2 L652.0,200.2 L656.0,200.2 L660.0,200.2 L664.0,200.2 L668.0,200.2 L672.0,200.2 L676.0,200.2 L680.0,200.2 L684.0,200.2 L688.0,200.2 L692.0,200.2 L696.0,200.2 L700.0,200.2 L704.0,200.2 L708.0,200.2 L712.0,200.2 L716.0,200.2 L720.0,200.2 L724.0,200.2 L728.0,200.2 L732.0,200.2 L736.0,200.2 L740.0,200.2 L744.0,200.2 L748.0,200.2 L752.0,200.2 L756.0,200.2 L760.0,200.2 L764.0,200.2 L768.0,200.2 L768.0,208.8 L764.0,208.8 L760.0,208.8 L756.0,208.8 L752.0,208.8 L748.0,208.8 L744.0,208.8 L740.0,208.8 L736.0,208.8 L732.0,208.8 L728.0,208.8 L724.0,208.8 L720.0,208.8 L716.0,208.8 L712.0,208.8 L708.0,208.8 L704.0,208.8 L700.0,208.8 L696.0,208.8 L692.0,208.8 L688.0,208.8 L684.0,208.8 L680.0,208.8 L676.0,208.8 L672.0,208.8 L668.0,208.8 L664.0,208.8 L660.0,208.8 L656.0,208.8 L652.0,208.8 L648.0,208.8 L644.0,208.8 L640.0,208.8 L636.0,208.8 L632.0,208.8 L628.0,208.8 L624.0,208.8 L620.0,208.8 L616.0,208.8 L612.0,208.8 L608.0,208.8 L604.0,208.8 L600.0,208.8 L596.0,208.8 L592.0,208.8 L588.0,208.8 L584.0,208.8 L580.0,208.8 L576.0,208.8 L572.0,208.8 L568.0,208.8 L564.0,208.8 L560.0,208.8 L556.0,208.8 L552.0,208.8 L548.0,208.8 L544.0,208.8 L540.0,208.8 L536.0,208.8 L532.0,208.8 L528.0,208.8 L524.0,208.8 L520.0,208.8 L516.0,208.8 L512.0,208.8 L508.0,208.8 L504.0,208.8 L500.0,208.8 L496.0,208.8 L492.0,208.8 L488.0,208.8 L484.0,208.8 L480.0,208.8 L476.0,208.8 L472.0,208.8 L468.0,208.8 L464.0,208.8 L460.0,208.8 L456.0,208.8 L452.0,208.8 L448.0,208.8 L444.0,208.8 L440.0,208.8 L436.0,208.8 L432.0,208.8 L428.0,208.8 L424.0,208.8 L420.0,208.8 L416.0,208.8 L412.0,208.8 L408.0,208.8 L404.0,208.8 L400.0,208.8 L396.0,208.8 L392.0,208.8 L388.0,208.8 L384.0,208.8 L380.0,208.8 L376.0,208.8 L372.0,208.8 L368.0,208.8 L364.0,208.8 L360.0,208.8 L356.0,208.8 L352.0,208.8 L348.0,208.8 L344.0,208.8 L340.0,208.8 L336.0,208.8 L332.0,208.8 L328.0,208.8 L324.0,208.8 L320.0,208.8 L316.0,208.8 L312.0,208.8 L308.0,208.8 L304.0,208.8 L300.0,208.8 L296.0,208.8 L292.0,208.8 L288.0,208.8 L284.0,208.8 L280.0,208.8 L276.0,208.8 L272.0,208.8 L268.0,209.9 L264.0,209.9 L260.0,209.9 L256.0,209.9 L252.0,209.9 L248.0,209.9 L244.0,209.9 L240.0,209.9 L236.0,209.9 L232.0,209.9 L228.0,209.9 L224.0,209.9 L220.0,209.9 L216.0,209.9 L212.0,209.9 L208.0,209.9 L204.0,209.9 L200.0,209.9 L196.0,209.9 L192.0,209.9 L188.0,209.9 L184.0,209.9 L180.0,209.9 L176.0,209.9 L172.0,208.8 L168.0,208.8 L164.0,208.8 L160.0,208.8 L156.0,208.8 L152.0,208.8 L148.0,208.8 L144.0,208.8 L140.0,208.8 L136.0,208.8Z" fill="#0084ff"/>
<path d="M136.0,208.8 L140.0,208.8 L144.0,208.8 L148.0,208.8 L152.0,208.8 L156.0,208.8 L160.0,208.8 L164.0,208.8 L168.0,208.8 L172.0,208.8 L176.0,209.9 L180.0,209.9 L184.0,209.9 L188.0,209.9 L192.0,209.9 L196.0,209.9 L200.0,209.9 L204.0,209.9 L208.0,209.9 L212.0,209.9 L216.0,209.9 L220.0,209.9 L224.0,209.9 L228.0,209.9 L232.0,209.9 L236.0,209.9 L240.0,209.9 L244.0,209.9 L248.0,209.9 L252.0,209.9 L256.0,209.9 L260.0,209.9 L264.0,209.9 L268.0,209.9 L272.0,208.8 L276.0,208.8 L280.0,208.8 L284.0,208.8 L288.0,208.8 L292.0,208.8 L296.0,208.8 L300.0,208.8 L304.0,208.8 L308.0,208.8 L312.0,208.8 L316.0,208.8 L320.0,208.8 L324.0,208.8 L328.0,208.8 L332.0,208.8 L336.0,208.8 L340.0,208.8 L344.0,208.8 L348.0,208.8 L352.0,208.8 L356.0,208.8 L360.0,208.8 L364.0,208.8 L368.0,208.8 L372.0,208.8 L376.0,208.8 L380.0,208.8 L384.0,208.8 L388.0,208.8 L392.0,208.8 L396.0,208.8 L400.0,208.8 L404.0,208.8 L408.0,208.8 L412.0,208.8 L416.0,208.8 L420.0,208.8 L424.0,208.8 L428.0,208.8 L432.0,208.8 L436.0,208.8 L440.0,208.8 L444.0,208.8 L448.0,208.8 L452.0,208.8 L456.0,208.8 L460.0,208.8 L464.0,208.8 L468.0,208.8 L472.0,208.8 L476.0,208.8 L480.0,208.8 L484.0,208.8 L488.0,208.8 L492.0,208.8 L496.0,208.8 L500.0,208.8 L504.0,208.8 L508.0,208.8 L512.0,208.8 L516.0,208.8 L520.0,208.8 L524.0,208.8 L528.0,208.8 L532.0,208.8 L536.0,208.8 L540.0,208.8 L544.0,208.8 L548.0,208.8 L552.0,208.8 L556.0,208.8 L560.0,208.8 L564.0,208.8 L568.0,208.8 L572.0,208.8 L576.0,208.8 L580.0,208.8 L584.0,208.8 L588.0,208.8 L592.0,208.8 L596.0,208.8 L600.0,208.8 L604.0,208.8 L608.0,208.8 L612.0,208.8 L616.0,208.8 L620.0,208.8 L624.0,208.8 L628.0,208.8 L632.0,208.8 L636.0,208.8 L640.0,208.8 L644.0,208.8 L648.0,208.8 L652.0,208.8 L656.0,208.8 L660.0,208.8 L664.0,208.8 L668.0,208.8 L672.0,208.8 L676.0,208.8 L680.0,208.8 L684.0,208.8 L688.0,208.8 L692.0,208.8 L696.0,208.8 L700.0,208.8 L704.0,208.8 L708.0,208.8 L712.0,208.8 L716.0,208.8 L720.0,208.8 L724.0,208.8 L728.0,208.8 L732.0,208.8 L736.0,208.8 L740.0,208.8 L744.0,208.8 L748.0,208.8 L752.0,208.8 L756.0,208.8 L760.0,208.8 L764.0,208.8 L768.0,208.8 L768.0,215.4 L764.0,215.4 L760.0,215.4 L756.0,215.4 L752.0,215.5 L748.0,215.5 L744.0,215.5 L740.0,215.5 L736.0,215.5 L732.0,215.5 L728.0,215.5 L724.0,215.5 L720.0,215.6 L716.0,215.6 L712.0,215.6 L708.0,215.6 L704.0,215.6 L700.0,215.6 L696.0,215.6 L692.0,215.6 L688.0,215.6 L684.0,215.6 L680.0,215.6 L676.0,215.7 L672.0,215.7 L668.0,215.7 L664.0,215.7 L660.0,215.7 L656.0,215.7 L652.0,215.7 L648.0,215.7 L644.0,215.7 L640.0,215.7 L636.0,215.7 L632.0,215.7 L628.0,215.7 L624.0,215.7 L620.0,215.7 L616.0,215.7 L612.0,215.7 L608.0,215.8 L604.0,215.8 L600.0,215.8 L596.0,215.8 L592.0,215.8 L588.0,215.8 L584.0,215.8 L580.0,215.8 L576.0,215.8 L572.0,215.8 L568.0,215.8 L564.0,215.8 L560.0,215.8 L556.0,215.8 L552.0,215.8 L548.0,215.8 L544.0,215.8 L540.0,215.8 L536.0,215.8 L532.0,215.8 L528.0,215.8 L524.0,215.8 L520.0,215.8 L516.0,215.8 L512.0,215.8 L508.0,215.8 L504.0,215.8 L500.0,215.8 L496.0,215.8 L492.0,215.8 L488.0,215.8 L484.0,215.8 L480.0,215.8 L476.0,215.8 L472.0,215.8 L468.0,215.8 L464.0,215.8 L460.0,215.8 L456.0,215.8 L452.0,215.8 L448.0,215.8 L444.0,215.8 L440.0,215.8 L436.0,215.8 L432.0,215.7 L428.0,215.7 L424.0,215.7 L420.0,215.7 L416.0,215.6 L412.0,215.6 L408.0,215.6 L404.0,215.5 L400.0,215.5 L396.0,215.5 L392.0,215.4 L388.0,215.4 L384.0,215.4 L380.0,215.3 L376.0,215.3 L372.0,215.3 L368.0,215.3 L364.0,215.2 L360.0,215.2 L356.0,215.2 L352.0,215.2 L348.0,215.2 L344.0,215.2 L340.0,215.2 L336.0,215.2 L332.0,215.3 L328.0,215.4 L324.0,215.4 L320.0,215.5 L316.0,215.6 L312.0,215.7 L308.0,215.8 L304.0,215.9 L300.0,216.1 L296.0,216.2 L292.0,216.3 L288.0,216.6 L284.0,216.8 L280.0,217.2 L276.0,217.6 L272.0,218.1 L268.0,218.6 L264.0,219.0 L260.0,219.5 L256.0,220.0 L252.0,220.4 L248.0,220.8 L244.0,221.3 L240.0,221.7 L236.0,222.2 L232.0,222.7 L228.0,223.1 L224.0,223.5 L220.0,223.8 L216.0,224.0 L212.0,224.0 L208.0,223.8 L204.0,223.5 L200.0,223.0 L196.0,222.5 L192.0,221.8 L188.0,221.1 L184.0,220.5 L180.0,219.8 L176.0,219.2 L172.0,218.8 L168.0,218.4 L164.0,218.1 L160.0,217.8 L156.0,217.5 L152.0,217.2 L148.0,216.9 L144.0,216.7 L140.0,216.5 L136.0,216.3Z" fill="#0096ff"/>
<path d="M136.0,216.3 L140.0,216.5 L144.0,216.7 L148.0,216.9 L152.0,217.2 L156.0,217.5 L160.0,217.8 L164.0,218.1 L168.0,218.4 L172.0,218.8 L176.0,219.2 L180.0,219.8 L184.0,220.5 L188.0,221.1 L192.0,221.8 L196.0,222.5 L200.0,223.0 L204.0,223.5 L208.0,223.8 L212.0,224.0 L216.0,224.0 L220.0,223.8 L224.0,223.5 L228.0,223.1 L232.0,222.7 L236.0,222.2 L240.0,221.7 L244.0,221.3 L248.0,220.8 L252.0,220.4 L256.0,220.0 L260.0,219.5 L264.0,219.0 L268.0,218.6 L272.0,218.1 L276.0,217.6 L280.0,217.2 L284.0,216.8 L288.0,216.6 L292.0,216.3 L296.0,216.2 L300.0,216.1 L304.0,215.9 L308.0,215.8 L312.0,215.7 L316.0,215.6 L320.0,215.5 L324.0,215.4 L328.0,215.4 L332.0,215.3 L336.0,215.2 L340.0,215.2 L344.0,215.2 L348.0,215.2 L352.0,215.2 L356.0,215.2 L360.0,215.2 L364.0,215.2 L368.0,215.3 L372.0,215.3 L376.0,215.3 L380.0,215.3 L384.0,215.4 L388.0,215.4 L392.0,215.4 L396.0,215.5 L400.0,215.5 L404.0,215.5 L408.0,215.6 L412.0,215.6 L416.0,215.6 L420.0,215.7 L424.0,215.7 L428.0,215.7 L432.0,215.7 L436.0,215.8 L440.0,215.8 L444.0,215.8 L448.0,215.8 L452.0,215.8 L456.0,215.8 L460.0,215.8 L464.0,215.8 L468.0,215.8 L472.0,215.8 L476.0,215.8 L480.0,215.8 L484.0,215.8 L488.0,215.8 L492.0,215.8 L496.0,215.8 L500.0,215.8 L504.0,215.8 L508.0,215.8 L512.0,215.8 L516.0,215.8 L520.0,215.8 L524.0,215.8 L528.0,215.8 L532.0,215.8 L536.0,215.8 L540.0,215.8 L544.0,215.8 L548.0,215.8 L552.0,215.8 L556.0,215.8 L560.0,215.8 L564.0,215.8 L568.0,215.8 L572.0,215.8 L576.0,215.8 L580.0,215.8 L584.0,215.8 L588.0,215.8 L592.0,215.8 L596.0,215.8 L600.0,215.8 L604.0,215.8 L608.0,215.8 L612.0,215.7 L616.0,215.7 L620.0,215.7 L624.0,215.7 L628.0,215.7 L632.0,215.7 L636.0,215.7 L640.0,215.7 L644.0,215.7 L648.0,215.7 L652.0,215.7 L656.0,215.7 L660.0,215.7 L664.0,215.7 L668.0,215.7 L672.0,215.7 L676.0,215.7 L680.0,215.6 L684.0,215.6 L688.0,215.6 L692.0,215.6 L696.0,215.6 L700.0,215.6 L704.0,215.6 L708.0,215.6 L712.0,215.6 L716.0,215.6 L720.0,215.6 L724.0,215.5 L728.0,215.5 L732.0,215.5 L736.0,215.5 L740.0,215.5 L744.0,215.5 L748.0,215.5 L752.0,215.5 L756.0,215.4 L760.0,215.4 L764.0,215.4 L768.0,215.4 L768.0,267.7 L764.0,267.8 L760.0,267.9 L756.0,268.0 L752.0,268.1 L748.0,268.1 L744.0,268.2 L740.0,268.2 L736.0,268.3 L732.0,268.3 L728.0,268.3 L724.0,268.4 L720.0,268.4 L716.0,268.4 L712.0,268.4 L708.0,268.4 L704.0,268.4 L700.0,268.4 L696.0,268.4 L692.0,268.3 L688.0,268.1 L684.0,267.9 L680.0,267.5 L676.0,267.2 L672.0,266.9 L668.0,266.5 L664.0,266.3 L660.0,266.1 L656.0,266.0 L652.0,266.0 L648.0,266.2 L644.0,266.4 L640.0,266.7 L636.0,267.1 L632.0,267.6 L628.0,268.1 L624.0,268.7 L620.0,269.3 L616.0,270.0 L612.0,270.7 L608.0,271.4 L604.0,272.4 L600.0,273.6 L596.0,275.1 L592.0,276.7 L588.0,278.3 L584.0,280.0 L580.0,281.6 L576.0,283.1 L572.0,284.5 L568.0,286.0 L564.0,287.6 L560.0,289.2 L556.0,290.5 L552.0,291.5 L548.0,292.1 L544.0,292.2 L540.0,291.8 L536.0,291.1 L532.0,290.3 L528.0,289.2 L524.0,288.1 L520.0,286.9 L516.0,285.8 L512.0,284.7 L508.0,283.9 L504.0,283.3 L500.0,282.7 L496.0,282.2 L492.0,281.7 L488.0,281.2 L484.0,280.8 L480.0,280.4 L476.0,280.0 L472.0,279.6 L468.0,279.3 L464.0,278.9 L460.0,278.7 L456.0,278.4 L452.0,278.2 L448.0,278.0 L444.0,277.9 L440.0,277.8 L436.0,277.7 L432.0,277.6 L428.0,277.4 L424.0,277.3 L420.0,277.2 L416.0,277.0 L412.0,276.8 L408.0,276.4 L404.0,276.0 L400.0,275.6 L396.0,275.1 L392.0,274.6 L388.0,274.1 L384.0,273.5 L380.0,273.0 L376.0,272.4 L372.0,271.9 L368.0,271.5 L364.0,271.1 L360.0,270.7 L356.0,270.3 L352.0,269.9 L348.0,269.6 L344.0,269.2 L340.0,268.8 L336.0,268.5 L332.0,268.2 L328.0,268.0 L324.0,267.8 L320.0,267.7 L316.0,267.7 L312.0,268.0 L308.0,268.5 L304.0,269.1 L300.0,269.9 L296.0,270.8 L292.0,271.7 L288.0,272.6 L284.0,273.4 L280.0,274.5 L276.0,275.6 L272.0,276.9 L268.0,278.2 L264.0,279.5 L260.0,280.8 L256.0,282.0 L252.0,283.1 L248.0,284.2 L244.0,285.3 L240.0,286.5 L236.0,287.6 L232.0,288.7 L228.0,289.6 L224.0,290.3 L220.0,290.8 L216.0,291.0 L212.0,290.8 L208.0,290.2 L204.0,289.3 L200.0,288.2 L196.0,286.9 L192.0,285.4 L188.0,283.9 L184.0,282.4 L180.0,280.9 L176.0,279.5 L172.0,278.3 L168.0,277.2 L164.0,276.2 L160.0,275.2 L156.0,274.2 L152.0,273.2 L148.0,272.2 L144.0,271.2 L140.0,270.3 L136.0,269.4Z" fill="#00a6ff"/>
<path d="M136.0,269.4 L140.0,270.3 L144.0,271.2 L148.0,272.2 L152.0,273.2 L156.0,274.2 L160.0,275.2 L164.0,276.2 L168.0,277.2 L172.0,278.3 L176.0,279.5 L180.0,280.9 L184.0,282.4 L188.0,283.9 L192.0,285.4 L196.0,286.9 L200.0,288.2 L204.0,289.3 L208.0,290.2 L212.0,290.8 L216.0,291.0 L220.0,290.8 L224.0,290.3 L228.0,289.6 L232.0,288.7 L236.0,287.6 L240.0,286.5 L244.0,285.3 L248.0,284.2 L252.0,283.1 L256.0,282.0 L260.0,280.8 L264.0,279.5 L268.0,278.2 L272.0,276.9 L276.0,275.6 L280.0,274.5 L284.0,273.4 L288.0,272.6 L292.0,271.7 L296.0,270.8 L300.0,269.9 L304.0,269.1 L308.0,268.5 L312.0,268.0 L316.0,267.7 L320.0,267.7 L324.0,267.8 L328.0,268.0 L332.0,268.2 L336.0,268.5 L340.0,268.8 L344.0,269.2 L348.0,269.6 L352.0,269.9 L356.0,270.3 L360.0,270.7 L364.0,271.1 L368.0,271.5 L372.0,271.9 L376.0,272.4 L380.0,273.0 L384.0,273.5 L388.0,274.1 L392.0,274.6 L396.0,275.1 L400.0,275.6 L404.0,276.0 L408.0,276.4 L412.0,276.8 L416.0,277.0 L420.0,277.2 L424.0,277.3 L428.0,277.4 L432.0,277.6 L436.0,277.7 L440.0,277.8 L444.0,277.9 L448.0,278.0 L452.0,278.2 L456.0,278.4 L460.0,278.7 L464.0,278.9 L468.0,279.3 L472.0,279.6 L476.0,280.0 L480.0,280.4 L484.0,280.8 L488.0,281.2 L492.0,281.7 L496.0,282.2 L500.0,282.7 L504.0,283.3 L508.0,283.9 L512.0,284.7 L516.0,285.8 L520.0,286.9 L524.0,288.1 L528.0,289.2 L532.0,290.3 L536.0,291.1 L540.0,291.8 L544.0,292.2 L548.0,292.1 L552.0,291.5 L556.0,290.5 L560.0,289.2 L564.0,287.6 L568.0,286.0 L572.0,284.5 L576.0,283.1 L580.0,281.6 L584.0,280.0 L588.0,278.3 L592.0,276.7 L596.0,275.1 L600.0,273.6 L604.0,272.4 L608.0,271.4 L612.0,270.7 L616.0,270.0 L620.0,269.3 L624.0,268.7 L628.0,268.1 L632.0,267.6 L636.0,267.1 L640.0,266.7 L644.0,266.4 L648.0,266.2 L652.0,266.0 L656.0,266.0 L660.0,266.1 L664.0,266.3 L668.0,266.5 L672.0,266.9 L676.0,267.2 L680.0,267.5 L684.0,267.9 L688.0,268.1 L692.0,268.3 L696.0,268.4 L700.0,268.4 L704.0,268.4 L708.0,268.4 L712.0,268.4 L716.0,268.4 L720.0,268.4 L724.0,268.4 L728.0,268.3 L732.0,268.3 L736.0,268.3 L740.0,268.2 L744.0,268.2 L748.0,268.1 L752.0,268.1 L756.0,268.0 L760.0,267.9 L764.0,267.8 L768.0,267.7 L768.0,323.7 L764.0,323.7 L760.0,323.7 L756.0,323.7 L752.0,323.7 L748.0,323.7 L744.0,323.7 L740.0,323.7 L736.0,323.0 L732.0,322.4 L728.0,322.0 L724.0,322.3 L720.0,322.7 L716.0,323.0 L712.0,323.4 L708.0,323.7 L704.0,323.0 L700.0,322.4 L696.0,322.0 L692.0,322.5 L688.0,323.1 L684.0,323.8 L680.0,324.7 L676.0,325.6 L672.0,325.3 L668.0,324.2 L664.0,324.3 L660.0,324.3 L656.0,324.4 L652.0,324.4 L648.0,324.5 L644.0,324.5 L640.0,324.6 L636.0,324.6 L632.0,324.7 L628.0,324.7 L624.0,324.8 L620.0,324.8 L616.0,324.9 L612.0,324.9 L608.0,324.9 L604.0,324.8 L600.0,324.8 L596.0,324.8 L592.0,324.8 L588.0,324.7 L584.0,324.7 L580.0,324.7 L576.0,324.7 L572.0,324.7 L568.0,324.6 L564.0,324.6 L560.0,324.2 L556.0,323.4 L552.0,323.0 L548.0,322.8 L544.0,323.0 L540.0,323.1 L536.0,323.3 L532.0,323.5 L528.0,323.6 L524.0,323.8 L520.0,324.0 L516.0,324.1 L512.0,324.1 L508.0,323.8 L504.0,324.1 L500.0,324.9 L496.0,324.9 L492.0,324.9 L488.0,324.9 L484.0,324.9 L480.0,324.9 L476.0,324.9 L472.0,324.9 L468.0,324.9 L464.0,324.9 L460.0,324.9 L456.0,324.9 L452.0,324.9 L448.0,324.8 L444.0,324.8 L440.0,324.8 L436.0,324.7 L432.0,324.7 L428.0,324.7 L424.0,324.6 L420.0,324.6 L416.0,324.3 L412.0,324.1 L408.0,323.8 L404.0,323.7 L400.0,323.7 L396.0,323.7 L392.0,323.7 L388.0,323.7 L384.0,323.7 L380.0,323.1 L376.0,322.5 L372.0,322.5 L368.0,322.5 L364.0,322.5 L360.0,322.7 L356.0,323.0 L352.0,323.3 L348.0,323.6 L344.0,323.9 L340.0,324.2 L336.0,325.1 L332.0,326.1 L328.0,326.3 L324.0,326.3 L320.0,326.3 L316.0,326.3 L312.0,326.3 L308.0,326.3 L304.0,326.3 L300.0,326.3 L296.0,326.3 L292.0,326.1 L288.0,325.9 L284.0,325.8 L280.0,325.6 L276.0,325.4 L272.0,325.1 L268.0,324.8 L264.0,324.5 L260.0,324.2 L256.0,324.3 L252.0,324.4 L248.0,324.5 L244.0,324.6 L240.0,324.6 L236.0,324.7 L232.0,324.8 L228.0,324.9 L224.0,324.3 L220.0,323.1 L216.0,322.9 L212.0,323.1 L208.0,323.4 L204.0,323.7 L200.0,324.0 L196.0,324.3 L192.0,324.7 L188.0,324.9 L184.0,325.1 L180.0,325.2 L176.0,325.3 L172.0,325.5 L168.0,325.4 L164.0,325.3 L160.0,325.1 L156.0,325.0 L152.0,324.8 L148.0,324.5 L144.0,324.2 L140.0,324.0 L136.0,323.7Z" fill="#00beff"/>
<path d="M136.0,323.7 L140.0,324.0 L144.0,324.2 L148.0,324.5 L152.0,324.8 L156.0,325.0 L160.0,325.1 L164.0,325.3 L168.0,325.4 L172.0,325.5 L176.0,325.3 L180.0,325.2 L184.0,325.1 L188.0,324.9 L192.0,324.7 L196.0,324.3 L200.0,324.0 L204.0,323.7 L208.0,323.4 L212.0,323.1 L216.0,322.9 L220.0,323.1 L224.0,324.3 L228.0,324.9 L232.0,324.8 L236.0,324.7 L240.0,324.6 L244.0,324.6 L248.0,324.5 L252.0,324.4 L256.0,324.3 L260.0,324.2 L264.0,324.5 L268.0,324.8 L272.0,325.1 L276.0,325.4 L280.0,325.6 L284.0,325.8 L288.0,325.9 L292.0,326.1 L296.0,326.3 L300.0,326.3 L304.0,326.3 L308.0,326.3 L312.0,326.3 L316.0,326.3 L320.0,326.3 L324.0,326.3 L328.0,326.3 L332.0,326.1 L336.0,325.1 L340.0,324.2 L344.0,323.9 L348.0,323.6 L352.0,323.3 L356.0,323.0 L360.0,322.7 L364.0,322.5 L368.0,322.5 L372.0,322.5 L376.0,322.5 L380.0,323.1 L384.0,323.7 L388.0,323.7 L392.0,323.7 L396.0,323.7 L400.0,323.7 L404.0,323.7 L408.0,323.8 L412.0,324.1 L416.0,324.3 L420.0,324.6 L424.0,324.6 L428.0,324.7 L432.0,324.7 L436.0,324.7 L440.0,324.8 L444.0,324.8 L448.0,324.8 L452.0,324.9 L456.0,324.9 L460.0,324.9 L464.0,324.9 L468.0,324.9 L472.0,324.9 L476.0,324.9 L480.0,324.9 L484.0,324.9 L488.0,324.9 L492.0,324.9 L496.0,324.9 L500.0,324.9 L504.0,324.1 L508.0,323.8 L512.0,324.1 L516.0,324.1 L520.0,324.0 L524.0,323.8 L528.0,323.6 L532.0,323.5 L536.0,323.3 L540.0,323.1 L544.0,323.0 L548.0,322.8 L552.0,323.0 L556.0,323.4 L560.0,324.2 L564.0,324.6 L568.0,324.6 L572.0,324.7 L576.0,324.7 L580.0,324.7 L584.0,324.7 L588.0,324.7 L592.0,324.8 L596.0,324.8 L600.0,324.8 L604.0,324.8 L608.0,324.9 L612.0,324.9 L616.0,324.9 L620.0,324.8 L624.0,324.8 L628.0,324.7 L632.0,324.7 L636.0,324.6 L640.0,324.6 L644.0,324.5 L648.0,324.5 L652.0,324.4 L656.0,324.4 L660.0,324.3 L664.0,324.3 L668.0,324.2 L672.0,325.3 L676.0,325.6 L680.0,324.7 L684.0,323.8 L688.0,323.1 L692.0,322.5 L696.0,322.0 L700.0,322.4 L704.0,323.0 L708.0,323.7 L712.0,323.4 L716.0,323.0 L720.0,322.7 L724.0,322.3 L728.0,322.0 L732.0,322.4 L736.0,323.0 L740.0,323.7 L744.0,323.7 L748.0,323.7 L752.0,323.7 L756.0,323.7 L760.0,323.7 L764.0,323.7 L768.0,323.7 L768.0,326.7 L764.0,326.7 L760.0,326.7 L756.0,326.7 L752.0,326.7 L748.0,326.7 L744.0,326.7 L740.0,326.7 L736.0,326.0 L732.0,325.4 L728.0,325.0 L724.0,325.3 L720.0,325.7 L716.0,326.0 L712.0,326.4 L708.0,326.7 L704.0,326.0 L700.0,325.4 L696.0,325.0 L692.0,325.5 L688.0,326.1 L684.0,326.8 L680.0,327.7 L676.0,328.6 L672.0,328.3 L668.0,327.2 L664.0,327.3 L660.0,327.3 L656.0,327.4 L652.0,327.4 L648.0,327.5 L644.0,327.5 L640.0,327.6 L636.0,327.6 L632.0,327.7 L628.0,327.7 L624.0,327.8 L620.0,327.8 L616.0,327.9 L612.0,327.9 L608.0,327.9 L604.0,327.8 L600.0,327.8 L596.0,327.8 L592.0,327.8 L588.0,327.7 L584.0,327.7 L580.0,327.7 L576.0,327.7 L572.0,327.7 L568.0,327.6 L564.0,327.6 L560.0,327.2 L556.0,326.4 L552.0,326.0 L548.0,325.8 L544.0,326.0 L540.0,326.1 L536.0,326.3 L532.0,326.5 L528.0,326.6 L524.0,326.8 L520.0,327.0 L516.0,327.1 L512.0,327.1 L508.0,326.8 L504.0,327.1 L500.0,327.9 L496.0,327.9 L492.0,327.9 L488.0,327.9 L484.0,327.9 L480.0,327.9 L476.0,327.9 L472.0,327.9 L468.0,327.9 L464.0,327.9 L460.0,327.9 L456.0,327.9 L452.0,327.9 L448.0,327.8 L444.0,327.8 L440.0,327.8 L436.0,327.7 L432.0,327.7 L428.0,327.7 L424.0,327.6 L420.0,327.6 L416.0,327.3 L412.0,327.1 L408.0,326.8 L404.0,326.7 L400.0,326.7 L396.0,326.7 L392.0,326.7 L388.0,326.7 L384.0,326.7 L380.0,326.1 L376.0,325.5 L372.0,325.5 L368.0,325.5 L364.0,325.5 L360.0,325.7 L356.0,326.0 L352.0,326.3 L348.0,326.6 L344.0,326.9 L340.0,327.2 L336.0,328.1 L332.0,329.1 L328.0,329.3 L324.0,329.3 L320.0,329.3 L316.0,329.3 L312.0,329.3 L308.0,329.3 L304.0,329.3 L300.0,329.3 L296.0,329.3 L292.0,329.1 L288.0,328.9 L284.0,328.8 L280.0,328.6 L276.0,328.4 L272.0,328.1 L268.0,327.8 L264.0,327.5 L260.0,327.2 L256.0,327.3 L252.0,327.4 L248.0,327.5 L244.0,327.6 L240.0,327.6 L236.0,327.7 L232.0,327.8 L228.0,327.9 L224.0,327.3 L220.0,326.1 L216.0,325.9 L212.0,326.1 L208.0,326.4 L204.0,326.7 L200.0,327.0 L196.0,327.3 L192.0,327.7 L188.0,327.9 L184.0,328.1 L180.0,328.2 L176.0,328.3 L172.0,328.5 L168.0,328.4 L164.0,328.3 L160.0,328.1 L156.0,328.0 L152.0,327.8 L148.0,327.5 L144.0,327.2 L140.0,327.0 L136.0,326.7Z" fill="#00c8ff"/>
<path d="M136.0,326.7 L140.0,327.0 L144.0,327.2 L148.0,327.5 L152.0,327.8 L156.0,328.0 L160.0,328.1 L164.0,328.3 L168.0,328.4 L172.0,328.5 L176.0,328.3 L180.0,328.2 L184.0,328.1 L188.0,327.9 L192.0,327.7 L196.0,327.3 L200.0,327.0 L204.0,326.7 L208.0,326.4 L212.0,326.1 L216.0,325.9 L220.0,326.1 L224.0,327.3 L228.0,327.9 L232.0,327.8 L236.0,327.7 L240.0,327.6 L244.0,327.6 L248.0,327.5 L252.0,327.4 L256.0,327.3 L260.0,327.2 L264.0,327.5 L268.0,327.8 L272.0,328.1 L276.0,328.4 L280.0,328.6 L284.0,328.8 L288.0,328.9 L292.0,329.1 L296.0,329.3 L300.0,329.3 L304.0,329.3 L308.0,329.3 L312.0,329.3 L316.0,329.3 L320.0,329.3 L324.0,329.3 L328.0,329.3 L332.0,329.1 L336.0,328.1 L340.0,327.2 L344.0,326.9 L348.0,326.6 L352.0,326.3 L356.0,326.0 L360.0,325.7 L364.0,325.5 L368.0,325.5 L372.0,325.5 L376.0,325.5 L380.0,326.1 L384.0,326.7 L388.0,326.7 L392.0,326.7 L396.0,326.7 L400.0,326.7 L404.0,326.7 L408.0,326.8 L412.0,327.1 L416.0,327.3 L420.0,327.6 L424.0,327.6 L428.0,327.7 L432.0,327.7 L436.0,327.7 L440.0,327.8 L444.0,327.8 L448.0,327.8 L452.0,327.9 L456.0,327.9 L460.0,327.9 L464.0,327.9 L468.0,327.9 L472.0,327.9 L476.0,327.9 L480.0,327.9 L484.0,327.9 L488.0,327.9 L492.0,327.9 L496.0,327.9 L500.0,327.9 L504.0,327.1 L508.0,326.8 L512.0,327.1 L516.0,327.1 L520.0,327.0 L524.0,326.8 L528.0,326.6 L532.0,326.5 L536.0,326.3 L540.0,326.1 L544.0,326.0 L548.0,325.8 L552.0,326.0 L556.0,326.4 L560.0,327.2 L564.0,327.6 L568.0,327.6 L572.0,327.7 L576.0,327.7 L580.0,327.7 L584.0,327.7 L588.0,327.7 L592.0,327.8 L596.0,327.8 L600.0,327.8 L604.0,327.8 L608.0,327.9 L612.0,327.9 L616.0,327.9 L620.0,327.8 L624.0,327.8 L628.0,327.7 L632.0,327.7 L636.0,327.6 L640.0,327.6 L644.0,327.5 L648.0,327.5 L652.0,327.4 L656.0,327.4 L660.0,327.3 L664.0,327.3 L668.0,327.2 L672.0,328.3 L676.0,328.6 L680.0,327.7 L684.0,326.8 L688.0,326.1 L692.0,325.5 L696.0,325.0 L700.0,325.4 L704.0,326.0 L708.0,326.7 L712.0,326.4 L716.0,326.0 L720.0,325.7 L724.0,325.3 L728.0,325.0 L732.0,325.4 L736.0,326.0 L740.0,326.7 L744.0,326.7 L748.0,326.7 L752.0,326.7 L756.0,326.7 L760.0,326.7 L764.0,326.7 L768.0,326.7 L768.0,330.0 L764.0,330.0 L760.0,330.0 L756.0,330.0 L752.0,330.0 L748.0,330.0 L744.0,330.0 L740.0,330.0 L736.0,329.3 L732.0,328.7 L728.0,328.3 L724.0,328.6 L720.0,329.0 L716.0,329.3 L712.0,329.7 L708.0,330.0 L704.0,329.3 L700.0,328.7 L696.0,328.3 L692.0,328.8 L688.0,329.4 L684.0,330.1 L680.0,331.0 L676.0,331.9 L672.0,331.6 L668.0,330.5 L664.0,330.6 L660.0,330.6 L656.0,330.7 L652.0,330.7 L648.0,330.8 L644.0,330.8 L640.0,330.9 L636.0,330.9 L632.0,331.0 L628.0,331.0 L624.0,331.1 L620.0,331.1 L616.0,331.2 L612.0,331.2 L608.0,331.2 L604.0,331.1 L600.0,331.1 L596.0,331.1 L592.0,331.1 L588.0,331.0 L584.0,331.0 L580.0,331.0 L576.0,331.0 L572.0,331.0 L568.0,330.9 L564.0,330.9 L560.0,330.5 L556.0,329.7 L552.0,329.3 L548.0,329.1 L544.0,329.3 L540.0,329.4 L536.0,329.6 L532.0,329.8 L528.0,329.9 L524.0,330.1 L520.0,330.3 L516.0,330.4 L512.0,330.4 L508.0,330.1 L504.0,330.4 L500.0,331.2 L496.0,331.2 L492.0,331.2 L488.0,331.2 L484.0,331.2 L480.0,331.2 L476.0,331.2 L472.0,331.2 L468.0,331.2 L464.0,331.2 L460.0,331.2 L456.0,331.2 L452.0,331.2 L448.0,331.1 L444.0,331.1 L440.0,331.1 L436.0,331.0 L432.0,331.0 L428.0,331.0 L424.0,330.9 L420.0,330.9 L416.0,330.6 L412.0,330.4 L408.0,330.1 L404.0,330.0 L400.0,330.0 L396.0,330.0 L392.0,330.0 L388.0,330.0 L384.0,330.0 L380.0,329.4 L376.0,328.8 L372.0,328.8 L368.0,328.8 L364.0,328.8 L360.0,329.0 L356.0,329.3 L352.0,329.6 L348.0,329.9 L344.0,330.2 L340.0,330.5 L336.0,331.4 L332.0,332.4 L328.0,332.6 L324.0,332.6 L320.0,332.6 L316.0,332.6 L312.0,332.6 L308.0,332.6 L304.0,332.6 L300.0,332.6 L296.0,332.6 L292.0,332.4 L288.0,332.2 L284.0,332.1 L280.0,331.9 L276.0,331.7 L272.0,331.4 L268.0,331.1 L264.0,330.8 L260.0,330.5 L256.0,330.6 L252.0,330.7 L248.0,330.8 L244.0,330.9 L240.0,330.9 L236.0,331.0 L232.0,331.1 L228.0,331.2 L224.0,330.6 L220.0,329.4 L216.0,329.2 L212.0,329.4 L208.0,329.7 L204.0,330.0 L200.0,330.3 L196.0,330.6 L192.0,331.0 L188.0,331.2 L184.0,331.4 L180.0,331.5 L176.0,331.6 L172.0,331.8 L168.0,331.7 L164.0,331.6 L160.0,331.4 L156.0,331.3 L152.0,331.1 L148.0,330.8 L144.0,330.5 L140.0,330.3 L136.0,330.0Z" fill="#00d6ff"/>
<path d="M136.0,330.0 L140.0,330.3 L144.0,330.5 L148.0,330.8 L152.0,331.1 L156.0,331.3 L160.0,331.4 L164.0,331.6 L168.0,331.7 L172.0,331.8 L176.0,331.6 L180.0,331.5 L184.0,331.4 L188.0,331.2 L192.0,331.0 L196.0,330.6 L200.0,330.3 L204.0,330.0 L208.0,329.7 L212.0,329.4 L216.0,329.2 L220.0,329.4 L224.0,330.6 L228.0,331.2 L232.0,331.1 L236.0,331.0 L240.0,330.9 L244.0,330.9 L248.0,330.8 L252.0,330.7 L256.0,330.6 L260.0,330.5 L264.0,330.8 L268.0,331.1 L272.0,331.4 L276.0,331.7 L280.0,331.9 L284.0,332.1 L288.0,332.2 L292.0,332.4 L296.0,332.6 L300.0,332.6 L304.0,332.6 L308.0,332.6 L312.0,332.6 L316.0,332.6 L320.0,332.6 L324.0,332.6 L328.0,332.6 L332.0,332.4 L336.0,331.4 L340.0,330.5 L344.0,330.2 L348.0,329.9 L352.0,329.6 L356.0,329.3 L360.0,329.0 L364.0,328.8 L368.0,328.8 L372.0,328.8 L376.0,328.8 L380.0,329.4 L384.0,330.0 L388.0,330.0 L392.0,330.0 L396.0,330.0 L400.0,330.0 L404.0,330.0 L408.0,330.1 L412.0,330.4 L416.0,330.6 L420.0,330.9 L424.0,330.9 L428.0,331.0 L432.0,331.0 L436.0,331.0 L440.0,331.1 L444.0,331.1 L448.0,331.1 L452.0,331.2 L456.0,331.2 L460.0,331.2 L464.0,331.2 L468.0,331.2 L472.0,331.2 L476.0,331.2 L480.0,331.2 L484.0,331.2 L488.0,331.2 L492.0,331.2 L496.0,331.2 L500.0,331.2 L504.0,330.4 L508.0,330.1 L512.0,330.4 L516.0,330.4 L520.0,330.3 L524.0,330.1 L528.0,329.9 L532.0,329.8 L536.0,329.6 L540.0,329.4 L544.0,329.3 L548.0,329.1 L552.0,329.3 L556.0,329.7 L560.0,330.5 L564.0,330.9 L568.0,330.9 L572.0,331.0 L576.0,331.0 L580.0,331.0 L584.0,331.0 L588.0,331.0 L592.0,331.1 L596.0,331.1 L600.0,331.1 L604.0,331.1 L608.0,331.2 L612.0,331.2 L616.0,331.2 L620.0,331.1 L624.0,331.1 L628.0,331.0 L632.0,331.0 L636.0,330.9 L640.0,330.9 L644.0,330.8 L648.0,330.8 L652.0,330.7 L656.0,330.7 L660.0,330.6 L664.0,330.6 L668.0,330.5 L672.0,331.6 L676.0,331.9 L680.0,331.0 L684.0,330.1 L688.0,329.4 L692.0,328.8 L696.0,328.3 L700.0,328.7 L704.0,329.3 L708.0,330.0 L712.0,329.7 L716.0,329.3 L720.0,329.0 L724.0,328.6 L728.0,328.3 L732.0,328.7 L736.0,329.3 L740.0,330.0 L744.0,330.0 L748.0,330.0 L752.0,330.0 L756.0,330.0 L760.0,330.0 L764.0,330.0 L768.0,330.0 L768.0,331.1 L764.0,331.1 L760.0,331.1 L756.0,331.9 L752.0,332.5 L748.0,332.5 L744.0,332.1 L740.0,331.4 L736.0,330.8 L732.0,331.2 L728.0,331.8 L724.0,331.5 L720.0,331.1 L716.0,331.0 L712.0,330.8 L708.0,330.7 L704.0,331.7 L700.0,331.3 L696.0,331.1 L692.0,331.1 L688.0,331.1 L684.0,331.2 L680.0,331.4 L676.0,331.6 L672.0,331.8 L668.0,332.0 L664.0,332.2 L660.0,332.1 L656.0,332.0 L652.0,331.9 L648.0,331.8 L644.0,332.0 L640.0,332.1 L636.0,332.3 L632.0,332.4 L628.0,332.6 L624.0,332.8 L620.0,332.9 L616.0,333.1 L612.0,333.1 L608.0,333.1 L604.0,333.1 L600.0,333.1 L596.0,333.0 L592.0,332.8 L588.0,332.6 L584.0,332.4 L580.0,332.2 L576.0,332.0 L572.0,331.7 L568.0,331.5 L564.0,331.3 L560.0,331.1 L556.0,331.0 L552.0,331.0 L548.0,331.0 L544.0,331.0 L540.0,331.0 L536.0,331.0 L532.0,331.0 L528.0,331.2 L524.0,331.4 L520.0,331.6 L516.0,331.7 L512.0,331.9 L508.0,332.1 L504.0,332.3 L500.0,332.4 L496.0,332.5 L492.0,332.7 L488.0,332.8 L484.0,332.8 L480.0,332.9 L476.0,332.9 L472.0,332.9 L468.0,333.0 L464.0,333.0 L460.0,333.1 L456.0,333.1 L452.0,333.4 L448.0,333.7 L444.0,334.0 L440.0,334.3 L436.0,334.4 L432.0,334.3 L428.0,334.2 L424.0,334.1 L420.0,334.0 L416.0,333.5 L412.0,333.0 L408.0,332.5 L404.0,332.0 L400.0,331.7 L396.0,331.8 L392.0,331.9 L388.0,332.0 L384.0,332.1 L380.0,332.3 L376.0,332.5 L372.0,332.8 L368.0,333.0 L364.0,333.3 L360.0,333.6 L356.0,333.8 L352.0,334.1 L348.0,334.3 L344.0,334.5 L340.0,334.8 L336.0,335.0 L332.0,335.2 L328.0,335.3 L324.0,335.3 L320.0,335.4 L316.0,335.4 L312.0,335.2 L308.0,334.9 L304.0,334.6 L300.0,334.3 L296.0,334.0 L292.0,333.9 L288.0,333.8 L284.0,333.7 L280.0,333.5 L276.0,333.2 L272.0,332.8 L268.0,332.5 L264.0,332.2 L260.0,331.9 L256.0,331.9 L252.0,331.9 L248.0,331.8 L244.0,331.8 L240.0,331.8 L236.0,331.8 L232.0,331.7 L228.0,331.7 L224.0,331.7 L220.0,331.3 L216.0,330.9 L212.0,330.8 L208.0,331.1 L204.0,331.3 L200.0,331.6 L196.0,331.9 L192.0,332.2 L188.0,332.5 L184.0,332.8 L180.0,333.1 L176.0,333.2 L172.0,333.4 L168.0,333.5 L164.0,333.7 L160.0,333.8 L156.0,333.9 L152.0,333.8 L148.0,333.4 L144.0,333.0 L140.0,332.6 L136.0,332.2Z" fill="#00e4ff"/>
<path d="M136.0,332.2 L140.0,332.6 L144.0,333.0 L148.0,333.4 L152.0,333.8 L156.0,333.9 L160.0,333.8 L164.0,333.7 L168.0,333.5 L172.0,333.4 L176.0,333.2 L180.0,333.1 L184.0,332.8 L188.0,332.5 L192.0,332.2 L196.0,331.9 L200.0,331.6 L204.0,331.3 L208.0,331.1 L212.0,330.8 L216.0,330.9 L220.0,331.3 L224.0,331.7 L228.0,331.7 L232.0,331.7 L236.0,331.8 L240.0,331.8 L244.0,331.8 L248.0,331.8 L252.0,331.9 L256.0,331.9 L260.0,331.9 L264.0,332.2 L268.0,332.5 L272.0,332.8 L276.0,333.2 L280.0,333.5 L284.0,333.7 L288.0,333.8 L292.0,333.9 L296.0,334.0 L300.0,334.3 L304.0,334.6 L308.0,334.9 L312.0,335.2 L316.0,335.4 L320.0,335.4 L324.0,335.3 L328.0,335.3 L332.0,335.2 L336.0,335.0 L340.0,334.8 L344.0,334.5 L348.0,334.3 L352.0,334.1 L356.0,333.8 L360.0,333.6 L364.0,333.3 L368.0,333.0 L372.0,332.8 L376.0,332.5 L380.0,332.3 L384.0,332.1 L388.0,332.0 L392.0,331.9 L396.0,331.8 L400.0,331.7 L404.0,332.0 L408.0,332.5 L412.0,333.0 L416.0,333.5 L420.0,334.0 L424.0,334.1 L428.0,334.2 L432.0,334.3 L436.0,334.4 L440.0,334.3 L444.0,334.0 L448.0,333.7 L452.0,333.4 L456.0,333.1 L460.0,333.1 L464.0,333.0 L468.0,333.0 L472.0,332.9 L476.0,332.9 L480.0,332.9 L484.0,332.8 L488.0,332.8 L492.0,332.7 L496.0,332.5 L500.0,332.4 L504.0,332.3 L508.0,332.1 L512.0,331.9 L516.0,331.7 L520.0,331.6 L524.0,331.4 L528.0,331.2 L532.0,331.0 L536.0,331.0 L540.0,331.0 L544.0,331.0 L548.0,331.0 L552.0,331.0 L556.0,331.0 L560.0,331.1 L564.0,331.3 L568.0,331.5 L572.0,331.7 L576.0,332.0 L580.0,332.2 L584.0,332.4 L588.0,332.6 L592.0,332.8 L596.0,333.0 L600.0,333.1 L604.0,333.1 L608.0,333.1 L612.0,333.1 L616.0,333.1 L620.0,332.9 L624.0,332.8 L628.0,332.6 L632.0,332.4 L636.0,332.3 L640.0,332.1 L644.0,332.0 L648.0,331.8 L652.0,331.9 L656.0,332.0 L660.0,332.1 L664.0,332.2 L668.0,332.0 L672.0,331.8 L676.0,331.6 L680.0,331.4 L684.0,331.2 L688.0,331.1 L692.0,331.1 L696.0,331.1 L700.0,331.3 L704.0,331.7 L708.0,330.7 L712.0,330.8 L716.0,331.0 L720.0,331.1 L724.0,331.5 L728.0,331.8 L732.0,331.2 L736.0,330.8 L740.0,331.4 L744.0,332.1 L748.0,332.5 L752.0,332.5 L756.0,331.9 L760.0,331.1 L764.0,331.1 L768.0,331.1 L768.0,333.6 L764.0,333.6 L760.0,333.6 L756.0,334.4 L752.0,335.0 L748.0,335.0 L744.0,334.6 L740.0,333.9 L736.0,333.3 L732.0,333.7 L728.0,334.3 L724.0,334.0 L720.0,333.6 L716.0,333.5 L712.0,333.3 L708.0,333.2 L704.0,334.2 L700.0,333.8 L696.0,333.6 L692.0,333.6 L688.0,333.6 L684.0,333.7 L680.0,333.9 L676.0,334.1 L672.0,334.3 L668.0,334.5 L664.0,334.7 L660.0,334.6 L656.0,334.5 L652.0,334.4 L648.0,334.3 L644.0,334.5 L640.0,334.6 L636.0,334.8 L632.0,334.9 L628.0,335.1 L624.0,335.3 L620.0,335.4 L616.0,335.6 L612.0,335.6 L608.0,335.6 L604.0,335.6 L600.0,335.6 L596.0,335.5 L592.0,335.3 L588.0,335.1 L584.0,334.9 L580.0,334.7 L576.0,334.5 L572.0,334.2 L568.0,334.0 L564.0,333.8 L560.0,333.6 L556.0,333.5 L552.0,333.5 L548.0,333.5 L544.0,333.5 L540.0,333.5 L536.0,333.5 L532.0,333.5 L528.0,333.7 L524.0,333.9 L520.0,334.1 L516.0,334.2 L512.0,334.4 L508.0,334.6 L504.0,334.8 L500.0,334.9 L496.0,335.0 L492.0,335.2 L488.0,335.3 L484.0,335.3 L480.0,335.4 L476.0,335.4 L472.0,335.4 L468.0,335.5 L464.0,335.5 L460.0,335.6 L456.0,335.6 L452.0,335.9 L448.0,336.2 L444.0,336.5 L440.0,336.8 L436.0,336.9 L432.0,336.8 L428.0,336.7 L424.0,336.6 L420.0,336.5 L416.0,336.0 L412.0,335.5 L408.0,335.0 L404.0,334.5 L400.0,334.2 L396.0,334.3 L392.0,334.4 L388.0,334.5 L384.0,334.6 L380.0,334.8 L376.0,335.0 L372.0,335.3 L368.0,335.5 L364.0,335.8 L360.0,336.1 L356.0,336.3 L352.0,336.6 L348.0,336.8 L344.0,337.0 L340.0,337.3 L336.0,337.5 L332.0,337.7 L328.0,337.8 L324.0,337.8 L320.0,337.9 L316.0,337.9 L312.0,337.7 L308.0,337.4 L304.0,337.1 L300.0,336.8 L296.0,336.5 L292.0,336.4 L288.0,336.3 L284.0,336.2 L280.0,336.0 L276.0,335.7 L272.0,335.3 L268.0,335.0 L264.0,334.7 L260.0,334.4 L256.0,334.4 L252.0,334.4 L248.0,334.3 L244.0,334.3 L240.0,334.3 L236.0,334.3 L232.0,334.2 L228.0,334.2 L224.0,334.2 L220.0,333.8 L216.0,333.4 L212.0,333.3 L208.0,333.6 L204.0,333.8 L200.0,334.1 L196.0,334.4 L192.0,334.7 L188.0,335.0 L184.0,335.3 L180.0,335.6 L176.0,335.7 L172.0,335.9 L168.0,336.0 L164.0,336.2 L160.0,336.3 L156.0,336.4 L152.0,336.3 L148.0,335.9 L144.0,335.5 L140.0,335.1 L136.0,334.7Z" fill="#00faff"/>
<path d="M136.0,334.7 L140.0,335.1 L144.0,335.5 L148.0,335.9 L152.0,336.3 L156.0,336.4 L160.0,336.3 L164.0,336.2 L168.0,336.0 L172.0,335.9 L176.0,335.7 L180.0,335.6 L184.0,335.3 L188.0,335.0 L192.0,334.7 L196.0,334.4 L200.0,334.1 L204.0,333.8 L208.0,333.6 L212.0,333.3 L216.0,333.4 L220.0,333.8 L224.0,334.2 L228.0,334.2 L232.0,334.2 L236.0,334.3 L240.0,334.3 L244.0,334.3 L248.0,334.3 L252.0,334.4 L256.0,334.4 L260.0,334.4 L264.0,334.7 L268.0,335.0 L272.0,335.3 L276.0,335.7 L280.0,336.0 L284.0,336.2 L288.0,336.3 L292.0,336.4 L296.0,336.5 L300.0,336.8 L304.0,337.1 L308.0,337.4 L312.0,337.7 L316.0,337.9 L320.0,337.9 L324.0,337.8 L328.0,337.8 L332.0,337.7 L336.0,337.5 L340.0,337.3 L344.0,337.0 L348.0,336.8 L352.0,336.6 L356.0,336.3 L360.0,336.1 L364.0,335.8 L368.0,335.5 L372.0,335.3 L376.0,335.0 L380.0,334.8 L384.0,334.6 L388.0,334.5 L392.0,334.4 L396.0,334.3 L400.0,334.2 L404.0,334.5 L408.0,335.0 L412.0,335.5 L416.0,336.0 L420.0,336.5 L424.0,336.6 L428.0,336.7 L432.0,336.8 L436.0,336.9 L440.0,336.8 L444.0,336.5 L448.0,336.2 L452.0,335.9 L456.0,335.6 L460.0,335.6 L464.0,335.5 L468.0,335.5 L472.0,335.4 L476.0,335.4 L480.0,335.4 L484.0,335.3 L488.0,335.3 L492.0,335.2 L496.0,335.0 L500.0,334.9 L504.0,334.8 L508.0,334.6 L512.0,334.4 L516.0,334.2 L520.0,334.1 L524.0,333.9 L528.0,333.7 L532.0,333.5 L536.0,333.5 L540.0,333.5 L544.0,333.5 L548.0,333.5 L552.0,333.5 L556.0,333.5 L560.0,333.6 L564.0,333.8 L568.0,334.0 L572.0,334.2 L576.0,334.5 L580.0,334.7 L584.0,334.9 L588.0,335.1 L592.0,335.3 L596.0,335.5 L600.0,335.6 L604.0,335.6 L608.0,335.6 L612.0,335.6 L616.0,335.6 L620.0,335.4 L624.0,335.3 L628.0,335.1 L632.0,334.9 L636.0,334.8 L640.0,334.6 L644.0,334.5 L648.0,334.3 L652.0,334.4 L656.0,334.5 L660.0,334.6 L664.0,334.7 L668.0,334.5 L672.0,334.3 L676.0,334.1 L680.0,333.9 L684.0,333.7 L688.0,333.6 L692.0,333.6 L696.0,333.6 L700.0,333.8 L704.0,334.2 L708.0,333.2 L712.0,333.3 L716.0,333.5 L720.0,333.6 L724.0,334.0 L728.0,334.3 L732.0,333.7 L736.0,333.3 L740.0,333.9 L744.0,334.6 L748.0,335.0 L752.0,335.0 L756.0,334.4 L760.0,333.6 L764.0,333.6 L768.0,333.6 L768.0,335.8 L764.0,335.8 L760.0,335.8 L756.0,336.6 L752.0,337.2 L748.0,337.1 L744.0,336.8 L740.0,336.1 L736.0,335.5 L732.0,335.9 L728.0,336.5 L724.0,336.2 L720.0,335.8 L716.0,335.7 L712.0,335.6 L708.0,335.4 L704.0,336.4 L700.0,336.0 L696.0,335.8 L692.0,335.8 L688.0,335.8 L684.0,335.9 L680.0,336.7 L676.0,338.3 L672.0,338.0 L668.0,336.8 L664.0,336.9 L660.0,336.9 L656.0,336.8 L652.0,336.7 L648.0,336.6 L644.0,336.8 L640.0,336.9 L636.0,337.1 L632.0,337.2 L628.0,337.4 L624.0,337.5 L620.0,337.7 L616.0,337.8 L612.0,337.8 L608.0,337.8 L604.0,337.8 L600.0,337.8 L596.0,337.7 L592.0,337.5 L588.0,337.3 L584.0,337.1 L580.0,336.9 L576.0,336.7 L572.0,336.5 L568.0,336.2 L564.0,336.0 L560.0,335.8 L556.0,335.7 L552.0,335.7 L548.0,335.7 L544.0,335.7 L540.0,335.7 L536.0,335.7 L532.0,335.7 L528.0,335.8 L524.0,336.0 L520.0,336.2 L516.0,336.4 L512.0,336.6 L508.0,336.8 L504.0,336.9 L500.0,337.1 L496.0,337.2 L492.0,337.3 L488.0,337.5 L484.0,337.5 L480.0,337.5 L476.0,337.6 L472.0,337.6 L468.0,337.6 L464.0,337.7 L460.0,337.7 L456.0,337.8 L452.0,338.1 L448.0,338.4 L444.0,338.6 L440.0,338.9 L436.0,339.0 L432.0,338.9 L428.0,338.9 L424.0,338.8 L420.0,338.7 L416.0,338.2 L412.0,337.7 L408.0,337.2 L404.0,336.7 L400.0,336.5 L396.0,336.5 L392.0,336.6 L388.0,336.7 L384.0,336.8 L380.0,336.9 L376.0,337.2 L372.0,337.4 L368.0,337.7 L364.0,338.0 L360.0,338.2 L356.0,338.5 L352.0,338.7 L348.0,338.9 L344.0,339.2 L340.0,339.4 L336.0,339.7 L332.0,339.9 L328.0,340.0 L324.0,340.0 L320.0,340.0 L316.0,340.0 L312.0,339.9 L308.0,339.6 L304.0,339.3 L300.0,339.0 L296.0,338.7 L292.0,338.6 L288.0,338.5 L284.0,338.4 L280.0,338.1 L276.0,337.8 L272.0,337.5 L268.0,337.2 L264.0,336.9 L260.0,336.5 L256.0,336.5 L252.0,336.5 L248.0,336.5 L244.0,336.5 L240.0,336.4 L236.0,336.4 L232.0,336.4 L228.0,336.4 L224.0,336.4 L220.0,336.0 L216.0,335.7 L212.0,335.6 L208.0,335.8 L204.0,336.1 L200.0,336.3 L196.0,336.6 L192.0,336.9 L188.0,337.2 L184.0,337.5 L180.0,337.8 L176.0,338.0 L172.0,338.1 L168.0,338.2 L164.0,338.4 L160.0,338.5 L156.0,338.6 L152.0,338.5 L148.0,338.1 L144.0,337.7 L140.0,337.3 L136.0,336.9Z" fill="#00ffeb"/>
<path d="M136.0,336.9 L140.0,337.3 L144.0,337.7 L148.0,338.1 L152.0,338.5 L156.0,338.6 L160.0,338.5 L164.0,338.4 L168.0,338.2 L172.0,338.1 L176.0,338.0 L180.0,337.8 L184.0,337.5 L188.0,337.2 L192.0,336.9 L196.0,336.6 L200.0,336.3 L204.0,336.1 L208.0,335.8 L212.0,335.6 L216.0,335.7 L220.0,336.0 L224.0,336.4 L228.0,336.4 L232.0,336.4 L236.0,336.4 L240.0,336.4 L244.0,336.5 L248.0,336.5 L252.0,336.5 L256.0,336.5 L260.0,336.5 L264.0,336.9 L268.0,337.2 L272.0,337.5 L276.0,337.8 L280.0,338.1 L284.0,338.4 L288.0,338.5 L292.0,338.6 L296.0,338.7 L300.0,339.0 L304.0,339.3 L308.0,339.6 L312.0,339.9 L316.0,340.0 L320.0,340.0 L324.0,340.0 L328.0,340.0 L332.0,339.9 L336.0,339.7 L340.0,339.4 L344.0,339.2 L348.0,338.9 L352.0,338.7 L356.0,338.5 L360.0,338.2 L364.0,338.0 L368.0,337.7 L372.0,337.4 L376.0,337.2 L380.0,336.9 L384.0,336.8 L388.0,336.7 L392.0,336.6 L396.0,336.5 L400.0,336.5 L404.0,336.7 L408.0,337.2 L412.0,337.7 L416.0,338.2 L420.0,338.7 L424.0,338.8 L428.0,338.9 L432.0,338.9 L436.0,339.0 L440.0,338.9 L444.0,338.6 L448.0,338.4 L452.0,338.1 L456.0,337.8 L460.0,337.7 L464.0,337.7 L468.0,337.6 L472.0,337.6 L476.0,337.6 L480.0,337.5 L484.0,337.5 L488.0,337.5 L492.0,337.3 L496.0,337.2 L500.0,337.1 L504.0,336.9 L508.0,336.8 L512.0,336.6 L516.0,336.4 L520.0,336.2 L524.0,336.0 L528.0,335.8 L532.0,335.7 L536.0,335.7 L540.0,335.7 L544.0,335.7 L548.0,335.7 L552.0,335.7 L556.0,335.7 L560.0,335.8 L564.0,336.0 L568.0,336.2 L572.0,336.5 L576.0,336.7 L580.0,336.9 L584.0,337.1 L588.0,337.3 L592.0,337.5 L596.0,337.7 L600.0,337.8 L604.0,337.8 L608.0,337.8 L612.0,337.8 L616.0,337.8 L620.0,337.7 L624.0,337.5 L628.0,337.4 L632.0,337.2 L636.0,337.1 L640.0,336.9 L644.0,336.8 L648.0,336.6 L652.0,336.7 L656.0,336.8 L660.0,336.9 L664.0,336.9 L668.0,336.8 L672.0,338.0 L676.0,338.3 L680.0,336.7 L684.0,335.9 L688.0,335.8 L692.0,335.8 L696.0,335.8 L700.0,336.0 L704.0,336.4 L708.0,335.4 L712.0,335.6 L716.0,335.7 L720.0,335.8 L724.0,336.2 L728.0,336.5 L732.0,335.9 L736.0,335.5 L740.0,336.1 L744.0,336.8 L748.0,337.1 L752.0,337.2 L756.0,336.6 L760.0,335.8 L764.0,335.8 L768.0,335.8 L768.0,338.4 L764.0,338.4 L760.0,338.4 L756.0,339.1 L752.0,339.6 L748.0,339.6 L744.0,339.3 L740.0,338.6 L736.0,338.0 L732.0,338.4 L728.0,339.0 L724.0,338.7 L720.0,338.3 L716.0,338.2 L712.0,338.1 L708.0,338.0 L704.0,338.9 L700.0,338.5 L696.0,338.2 L692.0,338.3 L688.0,338.4 L684.0,338.5 L680.0,339.1 L676.0,340.7 L672.0,340.6 L668.0,339.5 L664.0,339.5 L660.0,339.5 L656.0,339.4 L652.0,339.3 L648.0,339.3 L644.0,339.4 L640.0,339.6 L636.0,339.7 L632.0,339.9 L628.0,340.0 L624.0,340.1 L620.0,340.2 L616.0,340.4 L612.0,340.4 L608.0,340.4 L604.0,340.4 L600.0,340.4 L596.0,340.3 L592.0,340.1 L588.0,339.9 L584.0,339.7 L580.0,339.5 L576.0,339.3 L572.0,339.1 L568.0,338.8 L564.0,338.6 L560.0,338.3 L556.0,338.2 L552.0,338.2 L548.0,338.1 L544.0,338.1 L540.0,338.1 L536.0,338.1 L532.0,338.1 L528.0,338.3 L524.0,338.5 L520.0,338.7 L516.0,338.9 L512.0,339.1 L508.0,339.2 L504.0,339.4 L500.0,339.5 L496.0,339.7 L492.0,339.8 L488.0,339.9 L484.0,340.0 L480.0,340.0 L476.0,340.0 L472.0,340.1 L468.0,340.1 L464.0,340.1 L460.0,340.2 L456.0,340.3 L452.0,340.6 L448.0,340.9 L444.0,341.1 L440.0,341.4 L436.0,341.5 L432.0,341.5 L428.0,341.4 L424.0,341.3 L420.0,341.2 L416.0,340.7 L412.0,340.2 L408.0,339.7 L404.0,339.2 L400.0,339.0 L396.0,339.1 L392.0,339.1 L388.0,339.2 L384.0,339.3 L380.0,339.4 L376.0,339.7 L372.0,339.9 L368.0,340.2 L364.0,340.4 L360.0,340.7 L356.0,340.9 L352.0,341.2 L348.0,341.4 L344.0,341.7 L340.0,341.9 L336.0,342.1 L332.0,342.4 L328.0,342.4 L324.0,342.5 L320.0,342.5 L316.0,342.5 L312.0,342.4 L308.0,342.1 L304.0,341.8 L300.0,341.5 L296.0,341.2 L292.0,341.1 L288.0,341.0 L284.0,340.8 L280.0,340.6 L276.0,340.2 L272.0,339.9 L268.0,339.6 L264.0,339.3 L260.0,339.0 L256.0,339.0 L252.0,339.0 L248.0,339.0 L244.0,338.9 L240.0,338.9 L236.0,338.9 L232.0,338.9 L228.0,338.9 L224.0,338.9 L220.0,338.6 L216.0,338.3 L212.0,338.2 L208.0,338.4 L204.0,338.7 L200.0,338.9 L196.0,339.2 L192.0,339.5 L188.0,339.8 L184.0,340.1 L180.0,340.4 L176.0,340.5 L172.0,340.7 L168.0,340.8 L164.0,340.9 L160.0,341.0 L156.0,341.1 L152.0,341.0 L148.0,340.6 L144.0,340.2 L140.0,339.8 L136.0,339.4Z" fill="#00ffd7"/>
<path d="M136.0,339.4 L140.0,339.8 L144.0,340.2 L148.0,340.6 L152.0,341.0 L156.0,341.1 L160.0,341.0 L164.0,340.9 L168.0,340.8 L172.0,340.7 L176.0,340.5 L180.0,340.4 L184.0,340.1 L188.0,339.8 L192.0,339.5 L196.0,339.2 L200.0,338.9 L204.0,338.7 L208.0,338.4 L212.0,338.2 L216.0,338.3 L220.0,338.6 L224.0,338.9 L228.0,338.9 L232.0,338.9 L236.0,338.9 L240.0,338.9 L244.0,338.9 L248.0,339.0 L252.0,339.0 L256.0,339.0 L260.0,339.0 L264.0,339.3 L268.0,339.6 L272.0,339.9 L276.0,340.2 L280.0,340.6 L284.0,340.8 L288.0,341.0 L292.0,341.1 L296.0,341.2 L300.0,341.5 L304.0,341.8 L308.0,342.1 L312.0,342.4 L316.0,342.5 L320.0,342.5 L324.0,342.5 L328.0,342.4 L332.0,342.4 L336.0,342.1 L340.0,341.9 L344.0,341.7 L348.0,341.4 L352.0,341.2 L356.0,340.9 L360.0,340.7 L364.0,340.4 L368.0,340.2 L372.0,339.9 L376.0,339.7 L380.0,339.4 L384.0,339.3 L388.0,339.2 L392.0,339.1 L396.0,339.1 L400.0,339.0 L404.0,339.2 L408.0,339.7 L412.0,340.2 L416.0,340.7 L420.0,341.2 L424.0,341.3 L428.0,341.4 L432.0,341.5 L436.0,341.5 L440.0,341.4 L444.0,341.1 L448.0,340.9 L452.0,340.6 L456.0,340.3 L460.0,340.2 L464.0,340.1 L468.0,340.1 L472.0,340.1 L476.0,340.0 L480.0,340.0 L484.0,340.0 L488.0,339.9 L492.0,339.8 L496.0,339.7 L500.0,339.5 L504.0,339.4 L508.0,339.2 L512.0,339.1 L516.0,338.9 L520.0,338.7 L524.0,338.5 L528.0,338.3 L532.0,338.1 L536.0,338.1 L540.0,338.1 L544.0,338.1 L548.0,338.1 L552.0,338.2 L556.0,338.2 L560.0,338.3 L564.0,338.6 L568.0,338.8 L572.0,339.1 L576.0,339.3 L580.0,339.5 L584.0,339.7 L588.0,339.9 L592.0,340.1 L596.0,340.3 L600.0,340.4 L604.0,340.4 L608.0,340.4 L612.0,340.4 L616.0,340.4 L620.0,340.2 L624.0,340.1 L628.0,340.0 L632.0,339.9 L636.0,339.7 L640.0,339.6 L644.0,339.4 L648.0,339.3 L652.0,339.3 L656.0,339.4 L660.0,339.5 L664.0,339.5 L668.0,339.5 L672.0,340.6 L676.0,340.7 L680.0,339.1 L684.0,338.5 L688.0,338.4 L692.0,338.3 L696.0,338.2 L700.0,338.5 L704.0,338.9 L708.0,338.0 L712.0,338.1 L716.0,338.2 L720.0,338.3 L724.0,338.7 L728.0,339.0 L732.0,338.4 L736.0,338.0 L740.0,338.6 L744.0,339.3 L748.0,339.6 L752.0,339.6 L756.0,339.1 L760.0,338.4 L764.0,338.4 L768.0,338.4 L768.0,341.0 L764.0,341.0 L760.0,341.0 L756.0,341.7 L752.0,342.1 L748.0,342.1 L744.0,341.8 L740.0,341.2 L736.0,340.5 L732.0,341.0 L728.0,341.5 L724.0,341.2 L720.0,340.9 L716.0,340.7 L712.0,340.7 L708.0,340.6 L704.0,341.5 L700.0,341.0 L696.0,340.7 L692.0,340.8 L688.0,340.9 L684.0,341.0 L680.0,341.6 L676.0,343.1 L672.0,343.3 L668.0,342.1 L664.0,342.1 L660.0,342.2 L656.0,342.1 L652.0,342.0 L648.0,341.9 L644.0,342.1 L640.0,342.2 L636.0,342.4 L632.0,342.5 L628.0,342.6 L624.0,342.7 L620.0,342.8 L616.0,342.9 L612.0,342.9 L608.0,342.9 L604.0,342.9 L600.0,342.9 L596.0,342.8 L592.0,342.6 L588.0,342.5 L584.0,342.3 L580.0,342.1 L576.0,341.9 L572.0,341.7 L568.0,341.4 L564.0,341.1 L560.0,340.8 L556.0,340.7 L552.0,340.6 L548.0,340.6 L544.0,340.6 L540.0,340.6 L536.0,340.6 L532.0,340.6 L528.0,340.8 L524.0,341.0 L520.0,341.2 L516.0,341.3 L512.0,341.5 L508.0,341.7 L504.0,341.9 L500.0,342.0 L496.0,342.1 L492.0,342.3 L488.0,342.4 L484.0,342.4 L480.0,342.5 L476.0,342.5 L472.0,342.5 L468.0,342.5 L464.0,342.6 L460.0,342.7 L456.0,342.8 L452.0,343.1 L448.0,343.4 L444.0,343.7 L440.0,343.9 L436.0,344.0 L432.0,344.0 L428.0,343.9 L424.0,343.8 L420.0,343.7 L416.0,343.2 L412.0,342.7 L408.0,342.3 L404.0,341.8 L400.0,341.5 L396.0,341.6 L392.0,341.7 L388.0,341.7 L384.0,341.8 L380.0,341.9 L376.0,342.2 L372.0,342.4 L368.0,342.7 L364.0,342.9 L360.0,343.2 L356.0,343.4 L352.0,343.7 L348.0,343.9 L344.0,344.1 L340.0,344.4 L336.0,344.6 L332.0,344.8 L328.0,344.9 L324.0,344.9 L320.0,345.0 L316.0,345.0 L312.0,344.9 L308.0,344.6 L304.0,344.3 L300.0,344.0 L296.0,343.7 L292.0,343.6 L288.0,343.4 L284.0,343.3 L280.0,343.0 L276.0,342.7 L272.0,342.4 L268.0,342.0 L264.0,341.8 L260.0,341.5 L256.0,341.5 L252.0,341.4 L248.0,341.4 L244.0,341.4 L240.0,341.4 L236.0,341.4 L232.0,341.4 L228.0,341.4 L224.0,341.4 L220.0,341.2 L216.0,340.9 L212.0,340.8 L208.0,341.0 L204.0,341.3 L200.0,341.5 L196.0,341.8 L192.0,342.1 L188.0,342.4 L184.0,342.7 L180.0,343.0 L176.0,343.1 L172.0,343.3 L168.0,343.3 L164.0,343.4 L160.0,343.5 L156.0,343.6 L152.0,343.4 L148.0,343.1 L144.0,342.7 L140.0,342.3 L136.0,341.9Z" fill="#00fac3"/>
<path d="M136.0,341.9 L140.0,342.3 L144.0,342.7 L148.0,343.1 L152.0,343.4 L156.0,343.6 L160.0,343.5 L164.0,343.4 L168.0,343.3 L172.0,343.3 L176.0,343.1 L180.0,343.0 L184.0,342.7 L188.0,342.4 L192.0,342.1 L196.0,341.8 L200.0,341.5 L204.0,341.3 L208.0,341.0 L212.0,340.8 L216.0,340.9 L220.0,341.2 L224.0,341.4 L228.0,341.4 L232.0,341.4 L236.0,341.4 L240.0,341.4 L244.0,341.4 L248.0,341.4 L252.0,341.4 L256.0,341.5 L260.0,341.5 L264.0,341.8 L268.0,342.0 L272.0,342.4 L276.0,342.7 L280.0,343.0 L284.0,343.3 L288.0,343.4 L292.0,343.6 L296.0,343.7 L300.0,344.0 L304.0,344.3 L308.0,344.6 L312.0,344.9 L316.0,345.0 L320.0,345.0 L324.0,344.9 L328.0,344.9 L332.0,344.8 L336.0,344.6 L340.0,344.4 L344.0,344.1 L348.0,343.9 L352.0,343.7 L356.0,343.4 L360.0,343.2 L364.0,342.9 L368.0,342.7 L372.0,342.4 L376.0,342.2 L380.0,341.9 L384.0,341.8 L388.0,341.7 L392.0,341.7 L396.0,341.6 L400.0,341.5 L404.0,341.8 L408.0,342.3 L412.0,342.7 L416.0,343.2 L420.0,343.7 L424.0,343.8 L428.0,343.9 L432.0,344.0 L436.0,344.0 L440.0,343.9 L444.0,343.7 L448.0,343.4 L452.0,343.1 L456.0,342.8 L460.0,342.7 L464.0,342.6 L468.0,342.5 L472.0,342.5 L476.0,342.5 L480.0,342.5 L484.0,342.4 L488.0,342.4 L492.0,342.3 L496.0,342.1 L500.0,342.0 L504.0,341.9 L508.0,341.7 L512.0,341.5 L516.0,341.3 L520.0,341.2 L524.0,341.0 L528.0,340.8 L532.0,340.6 L536.0,340.6 L540.0,340.6 L544.0,340.6 L548.0,340.6 L552.0,340.6 L556.0,340.7 L560.0,340.8 L564.0,341.1 L568.0,341.4 L572.0,341.7 L576.0,341.9 L580.0,342.1 L584.0,342.3 L588.0,342.5 L592.0,342.6 L596.0,342.8 L600.0,342.9 L604.0,342.9 L608.0,342.9 L612.0,342.9 L616.0,342.9 L620.0,342.8 L624.0,342.7 L628.0,342.6 L632.0,342.5 L636.0,342.4 L640.0,342.2 L644.0,342.1 L648.0,341.9 L652.0,342.0 L656.0,342.1 L660.0,342.2 L664.0,342.1 L668.0,342.1 L672.0,343.3 L676.0,343.1 L680.0,341.6 L684.0,341.0 L688.0,340.9 L692.0,340.8 L696.0,340.7 L700.0,341.0 L704.0,341.5 L708.0,340.6 L712.0,340.7 L716.0,340.7 L720.0,340.9 L724.0,341.2 L728.0,341.5 L732.0,341.0 L736.0,340.5 L740.0,341.2 L744.0,341.8 L748.0,342.1 L752.0,342.1 L756.0,341.7 L760.0,341.0 L764.0,341.0 L768.0,341.0 L768.0,343.6 L764.0,343.6 L760.0,343.6 L756.0,344.2 L752.0,344.6 L748.0,344.5 L744.0,344.3 L740.0,343.7 L736.0,343.1 L732.0,343.5 L728.0,344.1 L724.0,343.8 L720.0,343.4 L716.0,343.3 L712.0,343.2 L708.0,343.2 L704.0,344.0 L700.0,343.5 L696.0,343.2 L692.0,343.3 L688.0,343.4 L684.0,343.6 L680.0,344.0 L676.0,345.6 L672.0,345.9 L668.0,344.8 L664.0,344.7 L660.0,344.8 L656.0,344.7 L652.0,344.7 L648.0,344.6 L644.0,344.7 L640.0,344.9 L636.0,345.0 L632.0,345.2 L628.0,345.2 L624.0,345.3 L620.0,345.4 L616.0,345.4 L612.0,345.4 L608.0,345.4 L604.0,345.4 L600.0,345.4 L596.0,345.4 L592.0,345.2 L588.0,345.0 L584.0,344.8 L580.0,344.7 L576.0,344.5 L572.0,344.3 L568.0,344.0 L564.0,343.7 L560.0,343.4 L556.0,343.2 L552.0,343.1 L548.0,343.1 L544.0,343.0 L540.0,343.1 L536.0,343.1 L532.0,343.1 L528.0,343.3 L524.0,343.5 L520.0,343.6 L516.0,343.8 L512.0,344.0 L508.0,344.2 L504.0,344.3 L500.0,344.5 L496.0,344.6 L492.0,344.7 L488.0,344.9 L484.0,344.9 L480.0,344.9 L476.0,345.0 L472.0,345.0 L468.0,345.0 L464.0,345.0 L460.0,345.2 L456.0,345.3 L452.0,345.6 L448.0,345.9 L444.0,346.2 L440.0,346.4 L436.0,346.5 L432.0,346.5 L428.0,346.4 L424.0,346.3 L420.0,346.2 L416.0,345.8 L412.0,345.3 L408.0,344.8 L404.0,344.3 L400.0,344.1 L396.0,344.1 L392.0,344.2 L388.0,344.2 L384.0,344.3 L380.0,344.4 L376.0,344.7 L372.0,344.9 L368.0,345.1 L364.0,345.4 L360.0,345.6 L356.0,345.9 L352.0,346.1 L348.0,346.4 L344.0,346.6 L340.0,346.8 L336.0,347.1 L332.0,347.3 L328.0,347.4 L324.0,347.4 L320.0,347.5 L316.0,347.5 L312.0,347.4 L308.0,347.1 L304.0,346.8 L300.0,346.5 L296.0,346.2 L292.0,346.1 L288.0,345.9 L284.0,345.8 L280.0,345.5 L276.0,345.1 L272.0,344.8 L268.0,344.5 L264.0,344.2 L260.0,343.9 L256.0,343.9 L252.0,343.9 L248.0,343.9 L244.0,343.9 L240.0,343.9 L236.0,343.8 L232.0,343.8 L228.0,343.9 L224.0,344.0 L220.0,343.7 L216.0,343.5 L212.0,343.4 L208.0,343.7 L204.0,343.9 L200.0,344.1 L196.0,344.4 L192.0,344.7 L188.0,344.9 L184.0,345.2 L180.0,345.5 L176.0,345.7 L172.0,345.8 L168.0,345.9 L164.0,346.0 L160.0,346.0 L156.0,346.1 L152.0,345.9 L148.0,345.6 L144.0,345.2 L140.0,344.8 L136.0,344.4Z" fill="#00f5b2"/>
<path d="M136.0,344.4 L140.0,344.8 L144.0,345.2 L148.0,345.6 L152.0,345.9 L156.0,346.1 L160.0,346.0 L164.0,346.0 L168.0,345.9 L172.0,345.8 L176.0,345.7 L180.0,345.5 L184.0,345.2 L188.0,344.9 L192.0,344.7 L196.0,344.4 L200.0,344.1 L204.0,343.9 L208.0,343.7 L212.0,343.4 L216.0,343.5 L220.0,343.7 L224.0,344.0 L228.0,343.9 L232.0,343.8 L236.0,343.8 L240.0,343.9 L244.0,343.9 L248.0,343.9 L252.0,343.9 L256.0,343.9 L260.0,343.9 L264.0,344.2 L268.0,344.5 L272.0,344.8 L276.0,345.1 L280.0,345.5 L284.0,345.8 L288.0,345.9 L292.0,346.1 L296.0,346.2 L300.0,346.5 L304.0,346.8 L308.0,347.1 L312.0,347.4 L316.0,347.5 L320.0,347.5 L324.0,347.4 L328.0,347.4 L332.0,347.3 L336.0,347.1 L340.0,346.8 L344.0,346.6 L348.0,346.4 L352.0,346.1 L356.0,345.9 L360.0,345.6 L364.0,345.4 L368.0,345.1 L372.0,344.9 L376.0,344.7 L380.0,344.4 L384.0,344.3 L388.0,344.2 L392.0,344.2 L396.0,344.1 L400.0,344.1 L404.0,344.3 L408.0,344.8 L412.0,345.3 L416.0,345.8 L420.0,346.2 L424.0,346.3 L428.0,346.4 L432.0,346.5 L436.0,346.5 L440.0,346.4 L444.0,346.2 L448.0,345.9 L452.0,345.6 L456.0,345.3 L460.0,345.2 L464.0,345.0 L468.0,345.0 L472.0,345.0 L476.0,345.0 L480.0,344.9 L484.0,344.9 L488.0,344.9 L492.0,344.7 L496.0,344.6 L500.0,344.5 L504.0,344.3 L508.0,344.2 L512.0,344.0 L516.0,343.8 L520.0,343.6 L524.0,343.5 L528.0,343.3 L532.0,343.1 L536.0,343.1 L540.0,343.1 L544.0,343.0 L548.0,343.1 L552.0,343.1 L556.0,343.2 L560.0,343.4 L564.0,343.7 L568.0,344.0 L572.0,344.3 L576.0,344.5 L580.0,344.7 L584.0,344.8 L588.0,345.0 L592.0,345.2 L596.0,345.4 L600.0,345.4 L604.0,345.4 L608.0,345.4 L612.0,345.4 L616.0,345.4 L620.0,345.4 L624.0,345.3 L628.0,345.2 L632.0,345.2 L636.0,345.0 L640.0,344.9 L644.0,344.7 L648.0,344.6 L652.0,344.7 L656.0,344.7 L660.0,344.8 L664.0,344.7 L668.0,344.8 L672.0,345.9 L676.0,345.6 L680.0,344.0 L684.0,343.6 L688.0,343.4 L692.0,343.3 L696.0,343.2 L700.0,343.5 L704.0,344.0 L708.0,343.2 L712.0,343.2 L716.0,343.3 L720.0,343.4 L724.0,343.8 L728.0,344.1 L732.0,343.5 L736.0,343.1 L740.0,343.7 L744.0,344.3 L748.0,344.5 L752.0,344.6 L756.0,344.2 L760.0,343.6 L764.0,343.6 L768.0,343.6 L768.0,345.9 L764.0,345.9 L760.0,345.9 L756.0,346.5 L752.0,346.8 L748.0,346.7 L744.0,346.5 L740.0,345.9 L736.0,345.3 L732.0,345.7 L728.0,346.3 L724.0,346.0 L720.0,345.6 L716.0,345.5 L712.0,345.5 L708.0,345.5 L704.0,346.2 L700.0,345.7 L696.0,345.4 L692.0,345.5 L688.0,345.7 L684.0,345.8 L680.0,346.1 L676.0,347.7 L672.0,348.3 L668.0,347.2 L664.0,347.0 L660.0,347.2 L656.0,347.1 L652.0,347.0 L648.0,347.0 L644.0,347.1 L640.0,347.3 L636.0,347.4 L632.0,347.5 L628.0,347.6 L624.0,347.6 L620.0,347.7 L616.0,347.7 L612.0,347.7 L608.0,347.7 L604.0,347.7 L600.0,347.7 L596.0,347.7 L592.0,347.5 L588.0,347.3 L584.0,347.1 L580.0,347.0 L576.0,346.8 L572.0,346.6 L568.0,346.3 L564.0,346.0 L560.0,345.6 L556.0,345.4 L552.0,345.4 L548.0,345.3 L544.0,345.2 L540.0,345.3 L536.0,345.3 L532.0,345.3 L528.0,345.5 L524.0,345.7 L520.0,345.9 L516.0,346.0 L512.0,346.2 L508.0,346.4 L504.0,346.5 L500.0,346.7 L496.0,346.8 L492.0,347.0 L488.0,347.1 L484.0,347.1 L480.0,347.1 L476.0,347.2 L472.0,347.2 L468.0,347.2 L464.0,347.2 L460.0,347.4 L456.0,347.5 L452.0,347.8 L448.0,348.1 L444.0,348.4 L440.0,348.7 L436.0,348.8 L432.0,348.7 L428.0,348.6 L424.0,348.6 L420.0,348.5 L416.0,348.0 L412.0,347.5 L408.0,347.1 L404.0,346.6 L400.0,346.4 L396.0,346.4 L392.0,346.4 L388.0,346.5 L384.0,346.5 L380.0,346.6 L376.0,346.9 L372.0,347.1 L368.0,347.4 L364.0,347.6 L360.0,347.8 L356.0,348.1 L352.0,348.3 L348.0,348.6 L344.0,348.8 L340.0,349.0 L336.0,349.3 L332.0,349.5 L328.0,349.6 L324.0,349.6 L320.0,349.7 L316.0,349.7 L312.0,349.6 L308.0,349.3 L304.0,349.0 L300.0,348.7 L296.0,348.4 L292.0,348.3 L288.0,348.1 L284.0,348.0 L280.0,347.7 L276.0,347.3 L272.0,347.0 L268.0,346.6 L264.0,346.4 L260.0,346.1 L256.0,346.1 L252.0,346.1 L248.0,346.1 L244.0,346.1 L240.0,346.1 L236.0,346.0 L232.0,346.1 L228.0,346.1 L224.0,346.2 L220.0,346.0 L216.0,345.8 L212.0,345.8 L208.0,346.0 L204.0,346.2 L200.0,346.4 L196.0,346.7 L192.0,347.0 L188.0,347.2 L184.0,347.5 L180.0,347.8 L176.0,348.0 L172.0,348.1 L168.0,348.2 L164.0,348.2 L160.0,348.3 L156.0,348.3 L152.0,348.2 L148.0,347.8 L144.0,347.4 L140.0,347.0 L136.0,346.6Z" fill="#00f5a0"/>
<path d="M136.0,346.6 L140.0,347.0 L144.0,347.4 L148.0,347.8 L152.0,348.2 L156.0,348.3 L160.0,348.3 L164.0,348.2 L168.0,348.2 L172.0,348.1 L176.0,348.0 L180.0,347.8 L184.0,347.5 L188.0,347.2 L192.0,347.0 L196.0,346.7 L200.0,346.4 L204.0,346.2 L208.0,346.0 L212.0,345.8 L216.0,345.8 L220.0,346.0 L224.0,346.2 L228.0,346.1 L232.0,346.1 L236.0,346.0 L240.0,346.1 L244.0,346.1 L248.0,346.1 L252.0,346.1 L256.0,346.1 L260.0,346.1 L264.0,346.4 L268.0,346.6 L272.0,347.0 L276.0,347.3 L280.0,347.7 L284.0,348.0 L288.0,348.1 L292.0,348.3 L296.0,348.4 L300.0,348.7 L304.0,349.0 L308.0,349.3 L312.0,349.6 L316.0,349.7 L320.0,349.7 L324.0,349.6 L328.0,349.6 L332.0,349.5 L336.0,349.3 L340.0,349.0 L344.0,348.8 L348.0,348.6 L352.0,348.3 L356.0,348.1 L360.0,347.8 L364.0,347.6 L368.0,347.4 L372.0,347.1 L376.0,346.9 L380.0,346.6 L384.0,346.5 L388.0,346.5 L392.0,346.4 L396.0,346.4 L400.0,346.4 L404.0,346.6 L408.0,347.1 L412.0,347.5 L416.0,348.0 L420.0,348.5 L424.0,348.6 L428.0,348.6 L432.0,348.7 L436.0,348.8 L440.0,348.7 L444.0,348.4 L448.0,348.1 L452.0,347.8 L456.0,347.5 L460.0,347.4 L464.0,347.2 L468.0,347.2 L472.0,347.2 L476.0,347.2 L480.0,347.1 L484.0,347.1 L488.0,347.1 L492.0,347.0 L496.0,346.8 L500.0,346.7 L504.0,346.5 L508.0,346.4 L512.0,346.2 L516.0,346.0 L520.0,345.9 L524.0,345.7 L528.0,345.5 L532.0,345.3 L536.0,345.3 L540.0,345.3 L544.0,345.2 L548.0,345.3 L552.0,345.4 L556.0,345.4 L560.0,345.6 L564.0,346.0 L568.0,346.3 L572.0,346.6 L576.0,346.8 L580.0,347.0 L584.0,347.1 L588.0,347.3 L592.0,347.5 L596.0,347.7 L600.0,347.7 L604.0,347.7 L608.0,347.7 L612.0,347.7 L616.0,347.7 L620.0,347.7 L624.0,347.6 L628.0,347.6 L632.0,347.5 L636.0,347.4 L640.0,347.3 L644.0,347.1 L648.0,347.0 L652.0,347.0 L656.0,347.1 L660.0,347.2 L664.0,347.0 L668.0,347.2 L672.0,348.3 L676.0,347.7 L680.0,346.1 L684.0,345.8 L688.0,345.7 L692.0,345.5 L696.0,345.4 L700.0,345.7 L704.0,346.2 L708.0,345.5 L712.0,345.5 L716.0,345.5 L720.0,345.6 L724.0,346.0 L728.0,346.3 L732.0,345.7 L736.0,345.3 L740.0,345.9 L744.0,346.5 L748.0,346.7 L752.0,346.8 L756.0,346.5 L760.0,345.9 L764.0,345.9 L768.0,345.9 L768.0,348.2 L764.0,348.2 L760.0,348.2 L756.0,348.8 L752.0,349.1 L748.0,348.9 L744.0,348.8 L740.0,348.2 L736.0,347.6 L732.0,348.0 L728.0,348.6 L724.0,348.3 L720.0,347.9 L716.0,347.8 L712.0,347.8 L708.0,347.8 L704.0,348.5 L700.0,347.9 L696.0,347.6 L692.0,347.7 L688.0,348.0 L684.0,348.1 L680.0,348.3 L676.0,349.9 L672.0,350.7 L668.0,349.6 L664.0,349.3 L660.0,349.5 L656.0,349.5 L652.0,349.4 L648.0,349.4 L644.0,349.5 L640.0,349.7 L636.0,349.8 L632.0,349.9 L628.0,349.9 L624.0,350.0 L620.0,350.0 L616.0,350.0 L612.0,350.0 L608.0,350.0 L604.0,350.0 L600.0,350.0 L596.0,349.9 L592.0,349.8 L588.0,349.6 L584.0,349.4 L580.0,349.3 L576.0,349.1 L572.0,348.9 L568.0,348.6 L564.0,348.2 L560.0,347.9 L556.0,347.7 L552.0,347.6 L548.0,347.5 L544.0,347.4 L540.0,347.5 L536.0,347.5 L532.0,347.6 L528.0,347.7 L524.0,347.9 L520.0,348.1 L516.0,348.2 L512.0,348.4 L508.0,348.6 L504.0,348.7 L500.0,348.9 L496.0,349.0 L492.0,349.2 L488.0,349.3 L484.0,349.3 L480.0,349.4 L476.0,349.4 L472.0,349.4 L468.0,349.4 L464.0,349.4 L460.0,349.6 L456.0,349.8 L452.0,350.1 L448.0,350.3 L444.0,350.6 L440.0,350.9 L436.0,351.0 L432.0,351.0 L428.0,350.9 L424.0,350.8 L420.0,350.8 L416.0,350.3 L412.0,349.8 L408.0,349.3 L404.0,348.9 L400.0,348.6 L396.0,348.7 L392.0,348.7 L388.0,348.7 L384.0,348.7 L380.0,348.8 L376.0,349.1 L372.0,349.3 L368.0,349.6 L364.0,349.8 L360.0,350.1 L356.0,350.3 L352.0,350.5 L348.0,350.8 L344.0,351.0 L340.0,351.2 L336.0,351.5 L332.0,351.7 L328.0,351.8 L324.0,351.8 L320.0,351.9 L316.0,351.9 L312.0,351.8 L308.0,351.5 L304.0,351.2 L300.0,351.0 L296.0,350.7 L292.0,350.5 L288.0,350.4 L284.0,350.2 L280.0,349.9 L276.0,349.5 L272.0,349.1 L268.0,348.8 L264.0,348.6 L260.0,348.3 L256.0,348.3 L252.0,348.3 L248.0,348.3 L244.0,348.3 L240.0,348.3 L236.0,348.3 L232.0,348.3 L228.0,348.4 L224.0,348.5 L220.0,348.3 L216.0,348.1 L212.0,348.1 L208.0,348.3 L204.0,348.6 L200.0,348.8 L196.0,349.0 L192.0,349.3 L188.0,349.6 L184.0,349.8 L180.0,350.1 L176.0,350.3 L172.0,350.4 L168.0,350.5 L164.0,350.5 L160.0,350.5 L156.0,350.6 L152.0,350.4 L148.0,350.0 L144.0,349.6 L140.0,349.3 L136.0,348.9Z" fill="#00f08c"/>
<path d="M136.0,348.9 L140.0,349.3 L144.0,349.6 L148.0,350.0 L152.0,350.4 L156.0,350.6 L160.0,350.5 L164.0,350.5 L168.0,350.5 L172.0,350.4 L176.0,350.3 L180.0,350.1 L184.0,349.8 L188.0,349.6 L192.0,349.3 L196.0,349.0 L200.0,348.8 L204.0,348.6 L208.0,348.3 L212.0,348.1 L216.0,348.1 L220.0,348.3 L224.0,348.5 L228.0,348.4 L232.0,348.3 L236.0,348.3 L240.0,348.3 L244.0,348.3 L248.0,348.3 L252.0,348.3 L256.0,348.3 L260.0,348.3 L264.0,348.6 L268.0,348.8 L272.0,349.1 L276.0,349.5 L280.0,349.9 L284.0,350.2 L288.0,350.4 L292.0,350.5 L296.0,350.7 L300.0,351.0 L304.0,351.2 L308.0,351.5 L312.0,351.8 L316.0,351.9 L320.0,351.9 L324.0,351.8 L328.0,351.8 L332.0,351.7 L336.0,351.5 L340.0,351.2 L344.0,351.0 L348.0,350.8 L352.0,350.5 L356.0,350.3 L360.0,350.1 L364.0,349.8 L368.0,349.6 L372.0,349.3 L376.0,349.1 L380.0,348.8 L384.0,348.7 L388.0,348.7 L392.0,348.7 L396.0,348.7 L400.0,348.6 L404.0,348.9 L408.0,349.3 L412.0,349.8 L416.0,350.3 L420.0,350.8 L424.0,350.8 L428.0,350.9 L432.0,351.0 L436.0,351.0 L440.0,350.9 L444.0,350.6 L448.0,350.3 L452.0,350.1 L456.0,349.8 L460.0,349.6 L464.0,349.4 L468.0,349.4 L472.0,349.4 L476.0,349.4 L480.0,349.4 L484.0,349.3 L488.0,349.3 L492.0,349.2 L496.0,349.0 L500.0,348.9 L504.0,348.7 L508.0,348.6 L512.0,348.4 L516.0,348.2 L520.0,348.1 L524.0,347.9 L528.0,347.7 L532.0,347.6 L536.0,347.5 L540.0,347.5 L544.0,347.4 L548.0,347.5 L552.0,347.6 L556.0,347.7 L560.0,347.9 L564.0,348.2 L568.0,348.6 L572.0,348.9 L576.0,349.1 L580.0,349.3 L584.0,349.4 L588.0,349.6 L592.0,349.8 L596.0,349.9 L600.0,350.0 L604.0,350.0 L608.0,350.0 L612.0,350.0 L616.0,350.0 L620.0,350.0 L624.0,350.0 L628.0,349.9 L632.0,349.9 L636.0,349.8 L640.0,349.7 L644.0,349.5 L648.0,349.4 L652.0,349.4 L656.0,349.5 L660.0,349.5 L664.0,349.3 L668.0,349.6 L672.0,350.7 L676.0,349.9 L680.0,348.3 L684.0,348.1 L688.0,348.0 L692.0,347.7 L696.0,347.6 L700.0,347.9 L704.0,348.5 L708.0,347.8 L712.0,347.8 L716.0,347.8 L720.0,347.9 L724.0,348.3 L728.0,348.6 L732.0,348.0 L736.0,347.6 L740.0,348.2 L744.0,348.8 L748.0,348.9 L752.0,349.1 L756.0,348.8 L760.0,348.2 L764.0,348.2 L768.0,348.2 L768.0,350.6 L764.0,350.6 L760.0,350.6 L756.0,351.1 L752.0,351.3 L748.0,351.1 L744.0,351.0 L740.0,350.4 L736.0,349.9 L732.0,350.3 L728.0,350.9 L724.0,350.5 L720.0,350.2 L716.0,350.1 L712.0,350.1 L708.0,350.1 L704.0,350.7 L700.0,350.2 L696.0,349.8 L692.0,350.0 L688.0,350.3 L684.0,350.4 L680.0,350.5 L676.0,352.0 L672.0,353.1 L668.0,352.0 L664.0,351.6 L660.0,351.9 L656.0,351.9 L652.0,351.8 L648.0,351.8 L644.0,351.9 L640.0,352.1 L636.0,352.2 L632.0,352.3 L628.0,352.3 L624.0,352.3 L620.0,352.3 L616.0,352.3 L612.0,352.3 L608.0,352.3 L604.0,352.3 L600.0,352.3 L596.0,352.2 L592.0,352.1 L588.0,351.9 L584.0,351.7 L580.0,351.6 L576.0,351.4 L572.0,351.2 L568.0,350.9 L564.0,350.5 L560.0,350.2 L556.0,349.9 L552.0,349.8 L548.0,349.7 L544.0,349.7 L540.0,349.7 L536.0,349.7 L532.0,349.8 L528.0,349.9 L524.0,350.1 L520.0,350.3 L516.0,350.5 L512.0,350.6 L508.0,350.8 L504.0,351.0 L500.0,351.1 L496.0,351.2 L492.0,351.4 L488.0,351.5 L484.0,351.6 L480.0,351.6 L476.0,351.6 L472.0,351.6 L468.0,351.6 L464.0,351.6 L460.0,351.8 L456.0,352.0 L452.0,352.3 L448.0,352.6 L444.0,352.9 L440.0,353.1 L436.0,353.3 L432.0,353.2 L428.0,353.1 L424.0,353.1 L420.0,353.0 L416.0,352.5 L412.0,352.1 L408.0,351.6 L404.0,351.2 L400.0,350.9 L396.0,350.9 L392.0,351.0 L388.0,351.0 L384.0,351.0 L380.0,351.1 L376.0,351.3 L372.0,351.5 L368.0,351.8 L364.0,352.0 L360.0,352.3 L356.0,352.5 L352.0,352.7 L348.0,353.0 L344.0,353.2 L340.0,353.4 L336.0,353.7 L332.0,353.9 L328.0,354.0 L324.0,354.0 L320.0,354.1 L316.0,354.1 L312.0,354.0 L308.0,353.8 L304.0,353.5 L300.0,353.2 L296.0,352.9 L292.0,352.7 L288.0,352.6 L284.0,352.4 L280.0,352.1 L276.0,351.7 L272.0,351.3 L268.0,351.0 L264.0,350.8 L260.0,350.5 L256.0,350.5 L252.0,350.5 L248.0,350.5 L244.0,350.5 L240.0,350.5 L236.0,350.5 L232.0,350.5 L228.0,350.6 L224.0,350.7 L220.0,350.6 L216.0,350.5 L212.0,350.5 L208.0,350.7 L204.0,350.9 L200.0,351.1 L196.0,351.3 L192.0,351.6 L188.0,351.9 L184.0,352.1 L180.0,352.4 L176.0,352.6 L172.0,352.7 L168.0,352.8 L164.0,352.8 L160.0,352.8 L156.0,352.8 L152.0,352.6 L148.0,352.2 L144.0,351.9 L140.0,351.5 L136.0,351.1Z" fill="#00f078"/>
<path d="M136.0,351.1 L140.0,351.5 L144.0,351.9 L148.0,352.2 L152.0,352.6 L156.0,352.8 L160.0,352.8 L164.0,352.8 L168.0,352.8 L172.0,352.7 L176.0,352.6 L180.0,352.4 L184.0,352.1 L188.0,351.9 L192.0,351.6 L196.0,351.3 L200.0,351.1 L204.0,350.9 L208.0,350.7 L212.0,350.5 L216.0,350.5 L220.0,350.6 L224.0,350.7 L228.0,350.6 L232.0,350.5 L236.0,350.5 L240.0,350.5 L244.0,350.5 L248.0,350.5 L252.0,350.5 L256.0,350.5 L260.0,350.5 L264.0,350.8 L268.0,351.0 L272.0,351.3 L276.0,351.7 L280.0,352.1 L284.0,352.4 L288.0,352.6 L292.0,352.7 L296.0,352.9 L300.0,353.2 L304.0,353.5 L308.0,353.8 L312.0,354.0 L316.0,354.1 L320.0,354.1 L324.0,354.0 L328.0,354.0 L332.0,353.9 L336.0,353.7 L340.0,353.4 L344.0,353.2 L348.0,353.0 L352.0,352.7 L356.0,352.5 L360.0,352.3 L364.0,352.0 L368.0,351.8 L372.0,351.5 L376.0,351.3 L380.0,351.1 L384.0,351.0 L388.0,351.0 L392.0,351.0 L396.0,350.9 L400.0,350.9 L404.0,351.2 L408.0,351.6 L412.0,352.1 L416.0,352.5 L420.0,353.0 L424.0,353.1 L428.0,353.1 L432.0,353.2 L436.0,353.3 L440.0,353.1 L444.0,352.9 L448.0,352.6 L452.0,352.3 L456.0,352.0 L460.0,351.8 L464.0,351.6 L468.0,351.6 L472.0,351.6 L476.0,351.6 L480.0,351.6 L484.0,351.6 L488.0,351.5 L492.0,351.4 L496.0,351.2 L500.0,351.1 L504.0,351.0 L508.0,350.8 L512.0,350.6 L516.0,350.5 L520.0,350.3 L524.0,350.1 L528.0,349.9 L532.0,349.8 L536.0,349.7 L540.0,349.7 L544.0,349.7 L548.0,349.7 L552.0,349.8 L556.0,349.9 L560.0,350.2 L564.0,350.5 L568.0,350.9 L572.0,351.2 L576.0,351.4 L580.0,351.6 L584.0,351.7 L588.0,351.9 L592.0,352.1 L596.0,352.2 L600.0,352.3 L604.0,352.3 L608.0,352.3 L612.0,352.3 L616.0,352.3 L620.0,352.3 L624.0,352.3 L628.0,352.3 L632.0,352.3 L636.0,352.2 L640.0,352.1 L644.0,351.9 L648.0,351.8 L652.0,351.8 L656.0,351.9 L660.0,351.9 L664.0,351.6 L668.0,352.0 L672.0,353.1 L676.0,352.0 L680.0,350.5 L684.0,350.4 L688.0,350.3 L692.0,350.0 L696.0,349.8 L700.0,350.2 L704.0,350.7 L708.0,350.1 L712.0,350.1 L716.0,350.1 L720.0,350.2 L724.0,350.5 L728.0,350.9 L732.0,350.3 L736.0,349.9 L740.0,350.4 L744.0,351.0 L748.0,351.1 L752.0,351.3 L756.0,351.1 L760.0,350.6 L764.0,350.6 L768.0,350.6 L768.0,353.0 L764.0,353.0 L760.0,353.0 L756.0,353.5 L752.0,353.6 L748.0,353.4 L744.0,353.3 L740.0,352.8 L736.0,352.3 L732.0,352.6 L728.0,353.2 L724.0,352.9 L720.0,352.5 L716.0,352.4 L712.0,352.5 L708.0,352.5 L704.0,353.1 L700.0,352.5 L696.0,352.1 L692.0,352.3 L688.0,352.7 L684.0,352.7 L680.0,352.9 L676.0,354.3 L672.0,355.6 L668.0,354.5 L664.0,354.0 L660.0,354.4 L656.0,354.3 L652.0,354.3 L648.0,354.3 L644.0,354.4 L640.0,354.6 L636.0,354.7 L632.0,354.8 L628.0,354.7 L624.0,354.7 L620.0,354.7 L616.0,354.7 L612.0,354.7 L608.0,354.7 L604.0,354.7 L600.0,354.7 L596.0,354.6 L592.0,354.5 L588.0,354.3 L584.0,354.2 L580.0,354.0 L576.0,353.8 L572.0,353.6 L568.0,353.3 L564.0,352.9 L560.0,352.5 L556.0,352.3 L552.0,352.1 L548.0,352.0 L544.0,352.0 L540.0,352.0 L536.0,352.0 L532.0,352.1 L528.0,352.3 L524.0,352.4 L520.0,352.6 L516.0,352.8 L512.0,352.9 L508.0,353.1 L504.0,353.3 L500.0,353.4 L496.0,353.5 L492.0,353.7 L488.0,353.8 L484.0,353.9 L480.0,353.9 L476.0,353.9 L472.0,353.9 L468.0,353.9 L464.0,353.9 L460.0,354.1 L456.0,354.4 L452.0,354.6 L448.0,354.9 L444.0,355.2 L440.0,355.5 L436.0,355.6 L432.0,355.5 L428.0,355.5 L424.0,355.4 L420.0,355.4 L416.0,354.9 L412.0,354.4 L408.0,354.0 L404.0,353.5 L400.0,353.3 L396.0,353.3 L392.0,353.3 L388.0,353.3 L384.0,353.3 L380.0,353.4 L376.0,353.6 L372.0,353.9 L368.0,354.1 L364.0,354.3 L360.0,354.6 L356.0,354.8 L352.0,355.0 L348.0,355.3 L344.0,355.5 L340.0,355.7 L336.0,356.0 L332.0,356.2 L328.0,356.3 L324.0,356.3 L320.0,356.4 L316.0,356.5 L312.0,356.4 L308.0,356.1 L304.0,355.8 L300.0,355.5 L296.0,355.3 L292.0,355.1 L288.0,354.9 L284.0,354.7 L280.0,354.3 L276.0,354.0 L272.0,353.6 L268.0,353.3 L264.0,353.1 L260.0,352.9 L256.0,352.8 L252.0,352.8 L248.0,352.8 L244.0,352.8 L240.0,352.8 L236.0,352.8 L232.0,352.8 L228.0,352.9 L224.0,353.1 L220.0,353.0 L216.0,352.9 L212.0,352.9 L208.0,353.1 L204.0,353.3 L200.0,353.5 L196.0,353.8 L192.0,354.0 L188.0,354.3 L184.0,354.6 L180.0,354.8 L176.0,355.0 L172.0,355.1 L168.0,355.2 L164.0,355.2 L160.0,355.1 L156.0,355.1 L152.0,354.9 L148.0,354.6 L144.0,354.2 L140.0,353.8 L136.0,353.5Z" fill="#00f064"/>
<path d="M136.0,353.5 L140.0,353.8 L144.0,354.2 L148.0,354.6 L152.0,354.9 L156.0,355.1 L160.0,355.1 L164.0,355.2 L168.0,355.2 L172.0,355.1 L176.0,355.0 L180.0,354.8 L184.0,354.6 L188.0,354.3 L192.0,354.0 L196.0,353.8 L200.0,353.5 L204.0,353.3 L208.0,353.1 L212.0,352.9 L216.0,352.9 L220.0,353.0 L224.0,353.1 L228.0,352.9 L232.0,352.8 L236.0,352.8 L240.0,352.8 L244.0,352.8 L248.0,352.8 L252.0,352.8 L256.0,352.8 L260.0,352.9 L264.0,353.1 L268.0,353.3 L272.0,353.6 L276.0,354.0 L280.0,354.3 L284.0,354.7 L288.0,354.9 L292.0,355.1 L296.0,355.3 L300.0,355.5 L304.0,355.8 L308.0,356.1 L312.0,356.4 L316.0,356.5 L320.0,356.4 L324.0,356.3 L328.0,356.3 L332.0,356.2 L336.0,356.0 L340.0,355.7 L344.0,355.5 L348.0,355.3 L352.0,355.0 L356.0,354.8 L360.0,354.6 L364.0,354.3 L368.0,354.1 L372.0,353.9 L376.0,353.6 L380.0,353.4 L384.0,353.3 L388.0,353.3 L392.0,353.3 L396.0,353.3 L400.0,353.3 L404.0,353.5 L408.0,354.0 L412.0,354.4 L416.0,354.9 L420.0,355.4 L424.0,355.4 L428.0,355.5 L432.0,355.5 L436.0,355.6 L440.0,355.5 L444.0,355.2 L448.0,354.9 L452.0,354.6 L456.0,354.4 L460.0,354.1 L464.0,353.9 L468.0,353.9 L472.0,353.9 L476.0,353.9 L480.0,353.9 L484.0,353.9 L488.0,353.8 L492.0,353.7 L496.0,353.5 L500.0,353.4 L504.0,353.3 L508.0,353.1 L512.0,352.9 L516.0,352.8 L520.0,352.6 L524.0,352.4 L528.0,352.3 L532.0,352.1 L536.0,352.0 L540.0,352.0 L544.0,352.0 L548.0,352.0 L552.0,352.1 L556.0,352.3 L560.0,352.5 L564.0,352.9 L568.0,353.3 L572.0,353.6 L576.0,353.8 L580.0,354.0 L584.0,354.2 L588.0,354.3 L592.0,354.5 L596.0,354.6 L600.0,354.7 L604.0,354.7 L608.0,354.7 L612.0,354.7 L616.0,354.7 L620.0,354.7 L624.0,354.7 L628.0,354.7 L632.0,354.8 L636.0,354.7 L640.0,354.6 L644.0,354.4 L648.0,354.3 L652.0,354.3 L656.0,354.3 L660.0,354.4 L664.0,354.0 L668.0,354.5 L672.0,355.6 L676.0,354.3 L680.0,352.9 L684.0,352.7 L688.0,352.7 L692.0,352.3 L696.0,352.1 L700.0,352.5 L704.0,353.1 L708.0,352.5 L712.0,352.5 L716.0,352.4 L720.0,352.5 L724.0,352.9 L728.0,353.2 L732.0,352.6 L736.0,352.3 L740.0,352.8 L744.0,353.3 L748.0,353.4 L752.0,353.6 L756.0,353.5 L760.0,353.0 L764.0,353.0 L768.0,353.0 L768.0,355.7 L764.0,355.7 L760.0,355.7 L756.0,356.2 L752.0,356.2 L748.0,356.0 L744.0,356.0 L740.0,355.5 L736.0,354.9 L732.0,355.3 L728.0,355.9 L724.0,355.6 L720.0,355.2 L716.0,355.1 L712.0,355.1 L708.0,355.2 L704.0,355.7 L700.0,355.1 L696.0,354.7 L692.0,354.9 L688.0,355.3 L684.0,355.4 L680.0,355.5 L676.0,356.9 L672.0,358.4 L668.0,357.3 L664.0,356.7 L660.0,357.1 L656.0,357.1 L652.0,357.1 L648.0,357.1 L644.0,357.2 L640.0,357.3 L636.0,357.5 L632.0,357.5 L628.0,357.5 L624.0,357.4 L620.0,357.4 L616.0,357.4 L612.0,357.4 L608.0,357.4 L604.0,357.4 L600.0,357.4 L596.0,357.3 L592.0,357.2 L588.0,357.0 L584.0,356.9 L580.0,356.7 L576.0,356.5 L572.0,356.4 L568.0,356.0 L564.0,355.6 L560.0,355.2 L556.0,354.9 L552.0,354.7 L548.0,354.6 L544.0,354.6 L540.0,354.6 L536.0,354.7 L532.0,354.7 L528.0,354.9 L524.0,355.0 L520.0,355.2 L516.0,355.4 L512.0,355.5 L508.0,355.7 L504.0,355.9 L500.0,356.0 L496.0,356.2 L492.0,356.3 L488.0,356.4 L484.0,356.5 L480.0,356.5 L476.0,356.5 L472.0,356.5 L468.0,356.4 L464.0,356.5 L460.0,356.8 L456.0,357.0 L452.0,357.3 L448.0,357.6 L444.0,357.8 L440.0,358.1 L436.0,358.2 L432.0,358.2 L428.0,358.1 L424.0,358.1 L420.0,358.0 L416.0,357.6 L412.0,357.1 L408.0,356.7 L404.0,356.2 L400.0,356.0 L396.0,356.0 L392.0,356.0 L388.0,355.9 L384.0,355.9 L380.0,356.0 L376.0,356.3 L372.0,356.5 L368.0,356.7 L364.0,356.9 L360.0,357.2 L356.0,357.4 L352.0,357.6 L348.0,357.9 L344.0,358.1 L340.0,358.3 L336.0,358.6 L332.0,358.8 L328.0,358.9 L324.0,359.0 L320.0,359.0 L316.0,359.1 L312.0,359.0 L308.0,358.7 L304.0,358.4 L300.0,358.2 L296.0,357.9 L292.0,357.7 L288.0,357.5 L284.0,357.3 L280.0,356.9 L276.0,356.6 L272.0,356.2 L268.0,355.8 L264.0,355.6 L260.0,355.5 L256.0,355.4 L252.0,355.4 L248.0,355.4 L244.0,355.4 L240.0,355.4 L236.0,355.4 L232.0,355.4 L228.0,355.6 L224.0,355.8 L220.0,355.7 L216.0,355.7 L212.0,355.7 L208.0,355.9 L204.0,356.1 L200.0,356.3 L196.0,356.5 L192.0,356.7 L188.0,357.0 L184.0,357.3 L180.0,357.5 L176.0,357.7 L172.0,357.8 L168.0,357.9 L164.0,357.8 L160.0,357.8 L156.0,357.8 L152.0,357.6 L148.0,357.2 L144.0,356.8 L140.0,356.5 L136.0,356.1Z" fill="#00f055"/>
<path d="M136.0,356.1 L140.0,356.5 L144.0,356.8 L148.0,357.2 L152.0,357.6 L156.0,357.8 L160.0,357.8 L164.0,357.8 L168.0,357.9 L172.0,357.8 L176.0,357.7 L180.0,357.5 L184.0,357.3 L188.0,357.0 L192.0,356.7 L196.0,356.5 L200.0,356.3 L204.0,356.1 L208.0,355.9 L212.0,355.7 L216.0,355.7 L220.0,355.7 L224.0,355.8 L228.0,355.6 L232.0,355.4 L236.0,355.4 L240.0,355.4 L244.0,355.4 L248.0,355.4 L252.0,355.4 L256.0,355.4 L260.0,355.5 L264.0,355.6 L268.0,355.8 L272.0,356.2 L276.0,356.6 L280.0,356.9 L284.0,357.3 L288.0,357.5 L292.0,357.7 L296.0,357.9 L300.0,358.2 L304.0,358.4 L308.0,358.7 L312.0,359.0 L316.0,359.1 L320.0,359.0 L324.0,359.0 L328.0,358.9 L332.0,358.8 L336.0,358.6 L340.0,358.3 L344.0,358.1 L348.0,357.9 L352.0,357.6 L356.0,357.4 L360.0,357.2 L364.0,356.9 L368.0,356.7 L372.0,356.5 L376.0,356.3 L380.0,356.0 L384.0,355.9 L388.0,355.9 L392.0,356.0 L396.0,356.0 L400.0,356.0 L404.0,356.2 L408.0,356.7 L412.0,357.1 L416.0,357.6 L420.0,358.0 L424.0,358.1 L428.0,358.1 L432.0,358.2 L436.0,358.2 L440.0,358.1 L444.0,357.8 L448.0,357.6 L452.0,357.3 L456.0,357.0 L460.0,356.8 L464.0,356.5 L468.0,356.4 L472.0,356.5 L476.0,356.5 L480.0,356.5 L484.0,356.5 L488.0,356.4 L492.0,356.3 L496.0,356.2 L500.0,356.0 L504.0,355.9 L508.0,355.7 L512.0,355.5 L516.0,355.4 L520.0,355.2 L524.0,355.0 L528.0,354.9 L532.0,354.7 L536.0,354.7 L540.0,354.6 L544.0,354.6 L548.0,354.6 L552.0,354.7 L556.0,354.9 L560.0,355.2 L564.0,355.6 L568.0,356.0 L572.0,356.4 L576.0,356.5 L580.0,356.7 L584.0,356.9 L588.0,357.0 L592.0,357.2 L596.0,357.3 L600.0,357.4 L604.0,357.4 L608.0,357.4 L612.0,357.4 L616.0,357.4 L620.0,357.4 L624.0,357.4 L628.0,357.5 L632.0,357.5 L636.0,357.5 L640.0,357.3 L644.0,357.2 L648.0,357.1 L652.0,357.1 L656.0,357.1 L660.0,357.1 L664.0,356.7 L668.0,357.3 L672.0,358.4 L676.0,356.9 L680.0,355.5 L684.0,355.4 L688.0,355.3 L692.0,354.9 L696.0,354.7 L700.0,355.1 L704.0,355.7 L708.0,355.2 L712.0,355.1 L716.0,355.1 L720.0,355.2 L724.0,355.6 L728.0,355.9 L732.0,355.3 L736.0,354.9 L740.0,355.5 L744.0,356.0 L748.0,356.0 L752.0,356.2 L756.0,356.2 L760.0,355.7 L764.0,355.7 L768.0,355.7 L768.0,358.4 L764.0,358.4 L760.0,358.4 L756.0,358.9 L752.0,358.8 L748.0,358.6 L744.0,358.6 L740.0,358.1 L736.0,357.6 L732.0,358.0 L728.0,358.6 L724.0,358.2 L720.0,357.8 L716.0,357.8 L712.0,357.8 L708.0,357.9 L704.0,358.4 L700.0,357.8 L696.0,357.4 L692.0,357.5 L688.0,358.0 L684.0,358.1 L680.0,358.2 L676.0,359.4 L672.0,361.1 L668.0,360.1 L664.0,359.5 L660.0,359.9 L656.0,359.9 L652.0,359.9 L648.0,359.9 L644.0,360.0 L640.0,360.1 L636.0,360.3 L632.0,360.3 L628.0,360.2 L624.0,360.2 L620.0,360.1 L616.0,360.0 L612.0,360.0 L608.0,360.0 L604.0,360.0 L600.0,360.0 L596.0,360.0 L592.0,359.8 L588.0,359.7 L584.0,359.6 L580.0,359.4 L576.0,359.3 L572.0,359.1 L568.0,358.7 L564.0,358.3 L560.0,357.9 L556.0,357.5 L552.0,357.4 L548.0,357.3 L544.0,357.1 L540.0,357.2 L536.0,357.3 L532.0,357.3 L528.0,357.5 L524.0,357.7 L520.0,357.8 L516.0,358.0 L512.0,358.1 L508.0,358.3 L504.0,358.5 L500.0,358.6 L496.0,358.8 L492.0,358.9 L488.0,359.0 L484.0,359.1 L480.0,359.1 L476.0,359.1 L472.0,359.0 L468.0,359.0 L464.0,359.1 L460.0,359.4 L456.0,359.6 L452.0,359.9 L448.0,360.2 L444.0,360.5 L440.0,360.8 L436.0,360.9 L432.0,360.8 L428.0,360.8 L424.0,360.7 L420.0,360.7 L416.0,360.2 L412.0,359.8 L408.0,359.3 L404.0,358.9 L400.0,358.7 L396.0,358.6 L392.0,358.6 L388.0,358.6 L384.0,358.6 L380.0,358.6 L376.0,358.9 L372.0,359.1 L368.0,359.3 L364.0,359.6 L360.0,359.8 L356.0,360.0 L352.0,360.2 L348.0,360.5 L344.0,360.7 L340.0,361.0 L336.0,361.2 L332.0,361.4 L328.0,361.5 L324.0,361.6 L320.0,361.6 L316.0,361.7 L312.0,361.6 L308.0,361.3 L304.0,361.1 L300.0,360.8 L296.0,360.5 L292.0,360.3 L288.0,360.1 L284.0,359.9 L280.0,359.5 L276.0,359.1 L272.0,358.7 L268.0,358.4 L264.0,358.2 L260.0,358.1 L256.0,358.0 L252.0,358.0 L248.0,358.0 L244.0,358.0 L240.0,358.0 L236.0,358.0 L232.0,358.0 L228.0,358.2 L224.0,358.4 L220.0,358.4 L216.0,358.4 L212.0,358.4 L208.0,358.6 L204.0,358.8 L200.0,359.0 L196.0,359.2 L192.0,359.5 L188.0,359.7 L184.0,360.0 L180.0,360.2 L176.0,360.4 L172.0,360.6 L168.0,360.6 L164.0,360.5 L160.0,360.4 L156.0,360.4 L152.0,360.2 L148.0,359.8 L144.0,359.5 L140.0,359.1 L136.0,358.7Z" fill="#00f046"/>
<path d="M136.0,358.7 L140.0,359.1 L144.0,359.5 L148.0,359.8 L152.0,360.2 L156.0,360.4 L160.0,360.4 L164.0,360.5 L168.0,360.6 L172.0,360.6 L176.0,360.4 L180.0,360.2 L184.0,360.0 L188.0,359.7 L192.0,359.5 L196.0,359.2 L200.0,359.0 L204.0,358.8 L208.0,358.6 L212.0,358.4 L216.0,358.4 L220.0,358.4 L224.0,358.4 L228.0,358.2 L232.0,358.0 L236.0,358.0 L240.0,358.0 L244.0,358.0 L248.0,358.0 L252.0,358.0 L256.0,358.0 L260.0,358.1 L264.0,358.2 L268.0,358.4 L272.0,358.7 L276.0,359.1 L280.0,359.5 L284.0,359.9 L288.0,360.1 L292.0,360.3 L296.0,360.5 L300.0,360.8 L304.0,361.1 L308.0,361.3 L312.0,361.6 L316.0,361.7 L320.0,361.6 L324.0,361.6 L328.0,361.5 L332.0,361.4 L336.0,361.2 L340.0,361.0 L344.0,360.7 L348.0,360.5 L352.0,360.2 L356.0,360.0 L360.0,359.8 L364.0,359.6 L368.0,359.3 L372.0,359.1 L376.0,358.9 L380.0,358.6 L384.0,358.6 L388.0,358.6 L392.0,358.6 L396.0,358.6 L400.0,358.7 L404.0,358.9 L408.0,359.3 L412.0,359.8 L416.0,360.2 L420.0,360.7 L424.0,360.7 L428.0,360.8 L432.0,360.8 L436.0,360.9 L440.0,360.8 L444.0,360.5 L448.0,360.2 L452.0,359.9 L456.0,359.6 L460.0,359.4 L464.0,359.1 L468.0,359.0 L472.0,359.0 L476.0,359.1 L480.0,359.1 L484.0,359.1 L488.0,359.0 L492.0,358.9 L496.0,358.8 L500.0,358.6 L504.0,358.5 L508.0,358.3 L512.0,358.1 L516.0,358.0 L520.0,357.8 L524.0,357.7 L528.0,357.5 L532.0,357.3 L536.0,357.3 L540.0,357.2 L544.0,357.1 L548.0,357.3 L552.0,357.4 L556.0,357.5 L560.0,357.9 L564.0,358.3 L568.0,358.7 L572.0,359.1 L576.0,359.3 L580.0,359.4 L584.0,359.6 L588.0,359.7 L592.0,359.8 L596.0,360.0 L600.0,360.0 L604.0,360.0 L608.0,360.0 L612.0,360.0 L616.0,360.0 L620.0,360.1 L624.0,360.2 L628.0,360.2 L632.0,360.3 L636.0,360.3 L640.0,360.1 L644.0,360.0 L648.0,359.9 L652.0,359.9 L656.0,359.9 L660.0,359.9 L664.0,359.5 L668.0,360.1 L672.0,361.1 L676.0,359.4 L680.0,358.2 L684.0,358.1 L688.0,358.0 L692.0,357.5 L696.0,357.4 L700.0,357.8 L704.0,358.4 L708.0,357.9 L712.0,357.8 L716.0,357.8 L720.0,357.8 L724.0,358.2 L728.0,358.6 L732.0,358.0 L736.0,357.6 L740.0,358.1 L744.0,358.6 L748.0,358.6 L752.0,358.8 L756.0,358.9 L760.0,358.4 L764.0,358.4 L768.0,358.4 L768.0,361.1 L764.0,361.1 L760.0,361.1 L756.0,361.5 L752.0,361.4 L748.0,361.2 L744.0,361.2 L740.0,360.8 L736.0,360.3 L732.0,360.6 L728.0,361.2 L724.0,360.9 L720.0,360.5 L716.0,360.4 L712.0,360.5 L708.0,360.6 L704.0,361.0 L700.0,360.4 L696.0,360.0 L692.0,360.2 L688.0,360.7 L684.0,360.8 L680.0,360.9 L676.0,362.0 L672.0,363.6 L668.0,362.9 L664.0,362.2 L660.0,362.7 L656.0,362.7 L652.0,362.7 L648.0,362.7 L644.0,362.8 L640.0,362.9 L636.0,363.1 L632.0,363.1 L628.0,363.0 L624.0,362.9 L620.0,362.8 L616.0,362.7 L612.0,362.7 L608.0,362.7 L604.0,362.7 L600.0,362.7 L596.0,362.7 L592.0,362.5 L588.0,362.4 L584.0,362.3 L580.0,362.1 L576.0,362.0 L572.0,361.8 L568.0,361.4 L564.0,361.0 L560.0,360.5 L556.0,360.2 L552.0,360.0 L548.0,359.9 L544.0,359.8 L540.0,359.8 L536.0,359.9 L532.0,359.9 L528.0,360.1 L524.0,360.3 L520.0,360.4 L516.0,360.6 L512.0,360.8 L508.0,360.9 L504.0,361.1 L500.0,361.2 L496.0,361.4 L492.0,361.5 L488.0,361.7 L484.0,361.7 L480.0,361.7 L476.0,361.7 L472.0,361.6 L468.0,361.6 L464.0,361.7 L460.0,362.0 L456.0,362.3 L452.0,362.6 L448.0,362.8 L444.0,363.1 L440.0,363.4 L436.0,363.5 L432.0,363.5 L428.0,363.4 L424.0,363.4 L420.0,363.3 L416.0,362.9 L412.0,362.4 L408.0,362.0 L404.0,361.6 L400.0,361.3 L396.0,361.3 L392.0,361.3 L388.0,361.2 L384.0,361.2 L380.0,361.3 L376.0,361.5 L372.0,361.7 L368.0,361.9 L364.0,362.2 L360.0,362.4 L356.0,362.6 L352.0,362.9 L348.0,363.1 L344.0,363.3 L340.0,363.6 L336.0,363.8 L332.0,364.0 L328.0,364.1 L324.0,364.2 L320.0,364.2 L316.0,364.3 L312.0,364.2 L308.0,364.0 L304.0,363.7 L300.0,363.4 L296.0,363.2 L292.0,363.0 L288.0,362.7 L284.0,362.5 L280.0,362.1 L276.0,361.7 L272.0,361.3 L268.0,361.0 L264.0,360.8 L260.0,360.6 L256.0,360.6 L252.0,360.6 L248.0,360.6 L244.0,360.6 L240.0,360.6 L236.0,360.6 L232.0,360.6 L228.0,360.9 L224.0,361.1 L220.0,361.1 L216.0,361.1 L212.0,361.2 L208.0,361.3 L204.0,361.5 L200.0,361.7 L196.0,361.9 L192.0,362.2 L188.0,362.4 L184.0,362.7 L180.0,362.9 L176.0,363.1 L172.0,363.3 L168.0,363.2 L164.0,363.2 L160.0,363.1 L156.0,363.0 L152.0,362.8 L148.0,362.5 L144.0,362.1 L140.0,361.7 L136.0,361.4Z" fill="#00f532"/>
<path d="M136.0,361.4 L140.0,361.7 L144.0,362.1 L148.0,362.5 L152.0,362.8 L156.0,363.0 L160.0,363.1 L164.0,363.2 L168.0,363.2 L172.0,363.3 L176.0,363.1 L180.0,362.9 L184.0,362.7 L188.0,362.4 L192.0,362.2 L196.0,361.9 L200.0,361.7 L204.0,361.5 L208.0,361.3 L212.0,361.2 L216.0,361.1 L220.0,361.1 L224.0,361.1 L228.0,360.9 L232.0,360.6 L236.0,360.6 L240.0,360.6 L244.0,360.6 L248.0,360.6 L252.0,360.6 L256.0,360.6 L260.0,360.6 L264.0,360.8 L268.0,361.0 L272.0,361.3 L276.0,361.7 L280.0,362.1 L284.0,362.5 L288.0,362.7 L292.0,363.0 L296.0,363.2 L300.0,363.4 L304.0,363.7 L308.0,364.0 L312.0,364.2 L316.0,364.3 L320.0,364.2 L324.0,364.2 L328.0,364.1 L332.0,364.0 L336.0,363.8 L340.0,363.6 L344.0,363.3 L348.0,363.1 L352.0,362.9 L356.0,362.6 L360.0,362.4 L364.0,362.2 L368.0,361.9 L372.0,361.7 L376.0,361.5 L380.0,361.3 L384.0,361.2 L388.0,361.2 L392.0,361.3 L396.0,361.3 L400.0,361.3 L404.0,361.6 L408.0,362.0 L412.0,362.4 L416.0,362.9 L420.0,363.3 L424.0,363.4 L428.0,363.4 L432.0,363.5 L436.0,363.5 L440.0,363.4 L444.0,363.1 L448.0,362.8 L452.0,362.6 L456.0,362.3 L460.0,362.0 L464.0,361.7 L468.0,361.6 L472.0,361.6 L476.0,361.7 L480.0,361.7 L484.0,361.7 L488.0,361.7 L492.0,361.5 L496.0,361.4 L500.0,361.2 L504.0,361.1 L508.0,360.9 L512.0,360.8 L516.0,360.6 L520.0,360.4 L524.0,360.3 L528.0,360.1 L532.0,359.9 L536.0,359.9 L540.0,359.8 L544.0,359.8 L548.0,359.9 L552.0,360.0 L556.0,360.2 L560.0,360.5 L564.0,361.0 L568.0,361.4 L572.0,361.8 L576.0,362.0 L580.0,362.1 L584.0,362.3 L588.0,362.4 L592.0,362.5 L596.0,362.7 L600.0,362.7 L604.0,362.7 L608.0,362.7 L612.0,362.7 L616.0,362.7 L620.0,362.8 L624.0,362.9 L628.0,363.0 L632.0,363.1 L636.0,363.1 L640.0,362.9 L644.0,362.8 L648.0,362.7 L652.0,362.7 L656.0,362.7 L660.0,362.7 L664.0,362.2 L668.0,362.9 L672.0,363.6 L676.0,362.0 L680.0,360.9 L684.0,360.8 L688.0,360.7 L692.0,360.2 L696.0,360.0 L700.0,360.4 L704.0,361.0 L708.0,360.6 L712.0,360.5 L716.0,360.4 L720.0,360.5 L724.0,360.9 L728.0,361.2 L732.0,360.6 L736.0,360.3 L740.0,360.8 L744.0,361.2 L748.0,361.2 L752.0,361.4 L756.0,361.5 L760.0,361.1 L764.0,361.1 L768.0,361.1 L768.0,363.8 L764.0,363.8 L760.0,363.8 L756.0,364.1 L752.0,364.0 L748.0,363.7 L744.0,363.7 L740.0,363.3 L736.0,362.8 L732.0,363.2 L728.0,363.8 L724.0,363.4 L720.0,363.0 L716.0,363.0 L712.0,363.1 L708.0,363.2 L704.0,363.5 L700.0,362.9 L696.0,362.5 L692.0,362.7 L688.0,363.3 L684.0,363.3 L680.0,363.4 L676.0,364.4 L672.0,366.1 L668.0,365.5 L664.0,364.8 L660.0,365.3 L656.0,365.3 L652.0,365.3 L648.0,365.3 L644.0,365.5 L640.0,365.6 L636.0,365.8 L632.0,365.8 L628.0,365.6 L624.0,365.5 L620.0,365.4 L616.0,365.3 L612.0,365.3 L608.0,365.3 L604.0,365.3 L600.0,365.3 L596.0,365.2 L592.0,365.1 L588.0,365.0 L584.0,364.9 L580.0,364.7 L576.0,364.6 L572.0,364.4 L568.0,364.0 L564.0,363.6 L560.0,363.1 L556.0,362.7 L552.0,362.5 L548.0,362.4 L544.0,362.2 L540.0,362.3 L536.0,362.4 L532.0,362.5 L528.0,362.6 L524.0,362.8 L520.0,362.9 L516.0,363.1 L512.0,363.3 L508.0,363.4 L504.0,363.6 L500.0,363.7 L496.0,363.9 L492.0,364.0 L488.0,364.2 L484.0,364.2 L480.0,364.2 L476.0,364.2 L472.0,364.1 L468.0,364.1 L464.0,364.2 L460.0,364.5 L456.0,364.8 L452.0,365.1 L448.0,365.4 L444.0,365.6 L440.0,365.9 L436.0,366.0 L432.0,366.0 L428.0,366.0 L424.0,365.9 L420.0,365.9 L416.0,365.4 L412.0,365.0 L408.0,364.6 L404.0,364.2 L400.0,363.9 L396.0,363.9 L392.0,363.8 L388.0,363.8 L384.0,363.7 L380.0,363.8 L376.0,364.0 L372.0,364.2 L368.0,364.4 L364.0,364.7 L360.0,364.9 L356.0,365.1 L352.0,365.3 L348.0,365.6 L344.0,365.8 L340.0,366.1 L336.0,366.3 L332.0,366.5 L328.0,366.6 L324.0,366.7 L320.0,366.7 L316.0,366.8 L312.0,366.7 L308.0,366.5 L304.0,366.2 L300.0,366.0 L296.0,365.7 L292.0,365.5 L288.0,365.2 L284.0,365.0 L280.0,364.6 L276.0,364.2 L272.0,363.8 L268.0,363.4 L264.0,363.3 L260.0,363.1 L256.0,363.1 L252.0,363.1 L248.0,363.1 L244.0,363.1 L240.0,363.1 L236.0,363.1 L232.0,363.1 L228.0,363.4 L224.0,363.6 L220.0,363.7 L216.0,363.8 L212.0,363.8 L208.0,364.0 L204.0,364.2 L200.0,364.4 L196.0,364.6 L192.0,364.8 L188.0,365.0 L184.0,365.3 L180.0,365.5 L176.0,365.7 L172.0,365.9 L168.0,365.8 L164.0,365.7 L160.0,365.6 L156.0,365.6 L152.0,365.3 L148.0,365.0 L144.0,364.6 L140.0,364.3 L136.0,363.9Z" fill="#00f523"/>
<path d="M136.0,363.9 L140.0,364.3 L144.0,364.6 L148.0,365.0 L152.0,365.3 L156.0,365.6 L160.0,365.6 L164.0,365.7 L168.0,365.8 L172.0,365.9 L176.0,365.7 L180.0,365.5 L184.0,365.3 L188.0,365.0 L192.0,364.8 L196.0,364.6 L200.0,364.4 L204.0,364.2 L208.0,364.0 L212.0,363.8 L216.0,363.8 L220.0,363.7 L224.0,363.6 L228.0,363.4 L232.0,363.1 L236.0,363.1 L240.0,363.1 L244.0,363.1 L248.0,363.1 L252.0,363.1 L256.0,363.1 L260.0,363.1 L264.0,363.3 L268.0,363.4 L272.0,363.8 L276.0,364.2 L280.0,364.6 L284.0,365.0 L288.0,365.2 L292.0,365.5 L296.0,365.7 L300.0,366.0 L304.0,366.2 L308.0,366.5 L312.0,366.7 L316.0,366.8 L320.0,366.7 L324.0,366.7 L328.0,366.6 L332.0,366.5 L336.0,366.3 L340.0,366.1 L344.0,365.8 L348.0,365.6 L352.0,365.3 L356.0,365.1 L360.0,364.9 L364.0,364.7 L368.0,364.4 L372.0,364.2 L376.0,364.0 L380.0,363.8 L384.0,363.7 L388.0,363.8 L392.0,363.8 L396.0,363.9 L400.0,363.9 L404.0,364.2 L408.0,364.6 L412.0,365.0 L416.0,365.4 L420.0,365.9 L424.0,365.9 L428.0,366.0 L432.0,366.0 L436.0,366.0 L440.0,365.9 L444.0,365.6 L448.0,365.4 L452.0,365.1 L456.0,364.8 L460.0,364.5 L464.0,364.2 L468.0,364.1 L472.0,364.1 L476.0,364.2 L480.0,364.2 L484.0,364.2 L488.0,364.2 L492.0,364.0 L496.0,363.9 L500.0,363.7 L504.0,363.6 L508.0,363.4 L512.0,363.3 L516.0,363.1 L520.0,362.9 L524.0,362.8 L528.0,362.6 L532.0,362.5 L536.0,362.4 L540.0,362.3 L544.0,362.2 L548.0,362.4 L552.0,362.5 L556.0,362.7 L560.0,363.1 L564.0,363.6 L568.0,364.0 L572.0,364.4 L576.0,364.6 L580.0,364.7 L584.0,364.9 L588.0,365.0 L592.0,365.1 L596.0,365.2 L600.0,365.3 L604.0,365.3 L608.0,365.3 L612.0,365.3 L616.0,365.3 L620.0,365.4 L624.0,365.5 L628.0,365.6 L632.0,365.8 L636.0,365.8 L640.0,365.6 L644.0,365.5 L648.0,365.3 L652.0,365.3 L656.0,365.3 L660.0,365.3 L664.0,364.8 L668.0,365.5 L672.0,366.1 L676.0,364.4 L680.0,363.4 L684.0,363.3 L688.0,363.3 L692.0,362.7 L696.0,362.5 L700.0,362.9 L704.0,363.5 L708.0,363.2 L712.0,363.1 L716.0,363.0 L720.0,363.0 L724.0,363.4 L728.0,363.8 L732.0,363.2 L736.0,362.8 L740.0,363.3 L744.0,363.7 L748.0,363.7 L752.0,364.0 L756.0,364.1 L760.0,363.8 L764.0,363.8 L768.0,363.8 L768.0,366.3 L764.0,366.3 L760.0,366.3 L756.0,366.6 L752.0,366.4 L748.0,366.1 L744.0,366.2 L740.0,365.7 L736.0,365.3 L732.0,365.6 L728.0,366.2 L724.0,365.9 L720.0,365.5 L716.0,365.4 L712.0,365.6 L708.0,365.7 L704.0,366.0 L700.0,365.3 L696.0,364.9 L692.0,365.1 L688.0,365.7 L684.0,365.8 L680.0,365.9 L676.0,366.8 L672.0,368.4 L668.0,368.1 L664.0,367.3 L660.0,367.9 L656.0,367.9 L652.0,367.9 L648.0,367.9 L644.0,368.1 L640.0,368.2 L636.0,368.3 L632.0,368.3 L628.0,368.2 L624.0,368.0 L620.0,367.9 L616.0,367.7 L612.0,367.7 L608.0,367.7 L604.0,367.7 L600.0,367.7 L596.0,367.7 L592.0,367.6 L588.0,367.5 L584.0,367.3 L580.0,367.2 L576.0,367.1 L572.0,366.9 L568.0,366.5 L564.0,366.0 L560.0,365.5 L556.0,365.1 L552.0,364.9 L548.0,364.8 L544.0,364.6 L540.0,364.7 L536.0,364.8 L532.0,364.9 L528.0,365.0 L524.0,365.2 L520.0,365.3 L516.0,365.5 L512.0,365.7 L508.0,365.8 L504.0,366.0 L500.0,366.1 L496.0,366.3 L492.0,366.4 L488.0,366.6 L484.0,366.6 L480.0,366.6 L476.0,366.5 L472.0,366.5 L468.0,366.5 L464.0,366.6 L460.0,366.9 L456.0,367.2 L452.0,367.5 L448.0,367.8 L444.0,368.1 L440.0,368.3 L436.0,368.5 L432.0,368.4 L428.0,368.4 L424.0,368.3 L420.0,368.3 L416.0,367.9 L412.0,367.5 L408.0,367.0 L404.0,366.6 L400.0,366.4 L396.0,366.3 L392.0,366.3 L388.0,366.2 L384.0,366.1 L380.0,366.2 L376.0,366.4 L372.0,366.6 L368.0,366.8 L364.0,367.1 L360.0,367.3 L356.0,367.5 L352.0,367.7 L348.0,368.0 L344.0,368.2 L340.0,368.4 L336.0,368.7 L332.0,368.9 L328.0,369.0 L324.0,369.1 L320.0,369.1 L316.0,369.2 L312.0,369.1 L308.0,368.9 L304.0,368.6 L300.0,368.4 L296.0,368.1 L292.0,367.9 L288.0,367.7 L284.0,367.4 L280.0,367.0 L276.0,366.6 L272.0,366.1 L268.0,365.8 L264.0,365.7 L260.0,365.5 L256.0,365.5 L252.0,365.5 L248.0,365.5 L244.0,365.5 L240.0,365.5 L236.0,365.5 L232.0,365.5 L228.0,365.8 L224.0,366.1 L220.0,366.2 L216.0,366.3 L212.0,366.3 L208.0,366.5 L204.0,366.7 L200.0,366.9 L196.0,367.1 L192.0,367.3 L188.0,367.5 L184.0,367.8 L180.0,368.0 L176.0,368.2 L172.0,368.4 L168.0,368.3 L164.0,368.2 L160.0,368.1 L156.0,368.0 L152.0,367.7 L148.0,367.4 L144.0,367.0 L140.0,366.7 L136.0,366.3Z" fill="#00fa14"/>
<path d="M136.0,366.3 L140.0,366.7 L144.0,367.0 L148.0,367.4 L152.0,367.7 L156.0,368.0 L160.0,368.1 L164.0,368.2 L168.0,368.3 L172.0,368.4 L176.0,368.2 L180.0,368.0 L184.0,367.8 L188.0,367.5 L192.0,367.3 L196.0,367.1 L200.0,366.9 L204.0,366.7 L208.0,366.5 L212.0,366.3 L216.0,366.3 L220.0,366.2 L224.0,366.1 L228.0,365.8 L232.0,365.5 L236.0,365.5 L240.0,365.5 L244.0,365.5 L248.0,365.5 L252.0,365.5 L256.0,365.5 L260.0,365.5 L264.0,365.7 L268.0,365.8 L272.0,366.1 L276.0,366.6 L280.0,367.0 L284.0,367.4 L288.0,367.7 L292.0,367.9 L296.0,368.1 L300.0,368.4 L304.0,368.6 L308.0,368.9 L312.0,369.1 L316.0,369.2 L320.0,369.1 L324.0,369.1 L328.0,369.0 L332.0,368.9 L336.0,368.7 L340.0,368.4 L344.0,368.2 L348.0,368.0 L352.0,367.7 L356.0,367.5 L360.0,367.3 L364.0,367.1 L368.0,366.8 L372.0,366.6 L376.0,366.4 L380.0,366.2 L384.0,366.1 L388.0,366.2 L392.0,366.3 L396.0,366.3 L400.0,366.4 L404.0,366.6 L408.0,367.0 L412.0,367.5 L416.0,367.9 L420.0,368.3 L424.0,368.3 L428.0,368.4 L432.0,368.4 L436.0,368.5 L440.0,368.3 L444.0,368.1 L448.0,367.8 L452.0,367.5 L456.0,367.2 L460.0,366.9 L464.0,366.6 L468.0,366.5 L472.0,366.5 L476.0,366.5 L480.0,366.6 L484.0,366.6 L488.0,366.6 L492.0,366.4 L496.0,366.3 L500.0,366.1 L504.0,366.0 L508.0,365.8 L512.0,365.7 L516.0,365.5 L520.0,365.3 L524.0,365.2 L528.0,365.0 L532.0,364.9 L536.0,364.8 L540.0,364.7 L544.0,364.6 L548.0,364.8 L552.0,364.9 L556.0,365.1 L560.0,365.5 L564.0,366.0 L568.0,366.5 L572.0,366.9 L576.0,367.1 L580.0,367.2 L584.0,367.3 L588.0,367.5 L592.0,367.6 L596.0,367.7 L600.0,367.7 L604.0,367.7 L608.0,367.7 L612.0,367.7 L616.0,367.7 L620.0,367.9 L624.0,368.0 L628.0,368.2 L632.0,368.3 L636.0,368.3 L640.0,368.2 L644.0,368.1 L648.0,367.9 L652.0,367.9 L656.0,367.9 L660.0,367.9 L664.0,367.3 L668.0,368.1 L672.0,368.4 L676.0,366.8 L680.0,365.9 L684.0,365.8 L688.0,365.7 L692.0,365.1 L696.0,364.9 L700.0,365.3 L704.0,366.0 L708.0,365.7 L712.0,365.6 L716.0,365.4 L720.0,365.5 L724.0,365.9 L728.0,366.2 L732.0,365.6 L736.0,365.3 L740.0,365.7 L744.0,366.2 L748.0,366.1 L752.0,366.4 L756.0,366.6 L760.0,366.3 L764.0,366.3 L768.0,366.3 L768.0,368.8 L764.0,368.8 L760.0,368.8 L756.0,369.1 L752.0,368.8 L748.0,368.5 L744.0,368.6 L740.0,368.2 L736.0,367.7 L732.0,368.1 L728.0,368.7 L724.0,368.3 L720.0,367.9 L716.0,367.9 L712.0,368.0 L708.0,368.2 L704.0,368.4 L700.0,367.8 L696.0,367.3 L692.0,367.5 L688.0,368.2 L684.0,368.3 L680.0,368.3 L676.0,369.1 L672.0,370.8 L668.0,370.7 L664.0,369.9 L660.0,370.5 L656.0,370.5 L652.0,370.5 L648.0,370.5 L644.0,370.6 L640.0,370.8 L636.0,370.9 L632.0,370.9 L628.0,370.7 L624.0,370.6 L620.0,370.4 L616.0,370.2 L612.0,370.2 L608.0,370.2 L604.0,370.2 L600.0,370.2 L596.0,370.2 L592.0,370.1 L588.0,370.0 L584.0,369.8 L580.0,369.7 L576.0,369.6 L572.0,369.5 L568.0,369.0 L564.0,368.5 L560.0,368.0 L556.0,367.6 L552.0,367.3 L548.0,367.2 L544.0,367.0 L540.0,367.1 L536.0,367.2 L532.0,367.3 L528.0,367.4 L524.0,367.6 L520.0,367.7 L516.0,367.9 L512.0,368.0 L508.0,368.2 L504.0,368.4 L500.0,368.5 L496.0,368.7 L492.0,368.8 L488.0,369.0 L484.0,369.0 L480.0,369.0 L476.0,368.9 L472.0,368.9 L468.0,368.9 L464.0,368.9 L460.0,369.3 L456.0,369.7 L452.0,369.9 L448.0,370.2 L444.0,370.5 L440.0,370.8 L436.0,370.9 L432.0,370.9 L428.0,370.8 L424.0,370.8 L420.0,370.7 L416.0,370.3 L412.0,369.9 L408.0,369.5 L404.0,369.1 L400.0,368.8 L396.0,368.8 L392.0,368.7 L388.0,368.6 L384.0,368.5 L380.0,368.6 L376.0,368.8 L372.0,369.0 L368.0,369.2 L364.0,369.5 L360.0,369.7 L356.0,369.9 L352.0,370.1 L348.0,370.4 L344.0,370.6 L340.0,370.8 L336.0,371.1 L332.0,371.3 L328.0,371.4 L324.0,371.5 L320.0,371.5 L316.0,371.6 L312.0,371.5 L308.0,371.3 L304.0,371.1 L300.0,370.8 L296.0,370.6 L292.0,370.3 L288.0,370.1 L284.0,369.8 L280.0,369.4 L276.0,368.9 L272.0,368.5 L268.0,368.2 L264.0,368.0 L260.0,367.9 L256.0,367.9 L252.0,367.9 L248.0,367.9 L244.0,367.9 L240.0,367.9 L236.0,367.9 L232.0,367.9 L228.0,368.2 L224.0,368.5 L220.0,368.7 L216.0,368.8 L212.0,368.9 L208.0,369.0 L204.0,369.2 L200.0,369.4 L196.0,369.6 L192.0,369.8 L188.0,370.0 L184.0,370.2 L180.0,370.5 L176.0,370.7 L172.0,370.8 L168.0,370.8 L164.0,370.7 L160.0,370.5 L156.0,370.4 L152.0,370.1 L148.0,369.8 L144.0,369.5 L140.0,369.1 L136.0,368.8Z" fill="#00ff00"/>
<path d="M136.0,368.8 L140.0,369.1 L144.0,369.5 L148.0,369.8 L152.0,370.1 L156.0,370.4 L160.0,370.5 L164.0,370.7 L168.0,370.8 L172.0,370.8 L176.0,370.7 L180.0,370.5 L184.0,370.2 L188.0,370.0 L192.0,369.8 L196.0,369.6 L200.0,369.4 L204.0,369.2 L208.0,369.0 L212.0,368.9 L216.0,368.8 L220.0,368.7 L224.0,368.5 L228.0,368.2 L232.0,367.9 L236.0,367.9 L240.0,367.9 L244.0,367.9 L248.0,367.9 L252.0,367.9 L256.0,367.9 L260.0,367.9 L264.0,368.0 L268.0,368.2 L272.0,368.5 L276.0,368.9 L280.0,369.4 L284.0,369.8 L288.0,370.1 L292.0,370.3 L296.0,370.6 L300.0,370.8 L304.0,371.1 L308.0,371.3 L312.0,371.5 L316.0,371.6 L320.0,371.5 L324.0,371.5 L328.0,371.4 L332.0,371.3 L336.0,371.1 L340.0,370.8 L344.0,370.6 L348.0,370.4 L352.0,370.1 L356.0,369.9 L360.0,369.7 L364.0,369.5 L368.0,369.2 L372.0,369.0 L376.0,368.8 L380.0,368.6 L384.0,368.5 L388.0,368.6 L392.0,368.7 L396.0,368.8 L400.0,368.8 L404.0,369.1 L408.0,369.5 L412.0,369.9 L416.0,370.3 L420.0,370.7 L424.0,370.8 L428.0,370.8 L432.0,370.9 L436.0,370.9 L440.0,370.8 L444.0,370.5 L448.0,370.2 L452.0,369.9 L456.0,369.7 L460.0,369.3 L464.0,368.9 L468.0,368.9 L472.0,368.9 L476.0,368.9 L480.0,369.0 L484.0,369.0 L488.0,369.0 L492.0,368.8 L496.0,368.7 L500.0,368.5 L504.0,368.4 L508.0,368.2 L512.0,368.0 L516.0,367.9 L520.0,367.7 L524.0,367.6 L528.0,367.4 L532.0,367.3 L536.0,367.2 L540.0,367.1 L544.0,367.0 L548.0,367.2 L552.0,367.3 L556.0,367.6 L560.0,368.0 L564.0,368.5 L568.0,369.0 L572.0,369.5 L576.0,369.6 L580.0,369.7 L584.0,369.8 L588.0,370.0 L592.0,370.1 L596.0,370.2 L600.0,370.2 L604.0,370.2 L608.0,370.2 L612.0,370.2 L616.0,370.2 L620.0,370.4 L624.0,370.6 L628.0,370.7 L632.0,370.9 L636.0,370.9 L640.0,370.8 L644.0,370.6 L648.0,370.5 L652.0,370.5 L656.0,370.5 L660.0,370.5 L664.0,369.9 L668.0,370.7 L672.0,370.8 L676.0,369.1 L680.0,368.3 L684.0,368.3 L688.0,368.2 L692.0,367.5 L696.0,367.3 L700.0,367.8 L704.0,368.4 L708.0,368.2 L712.0,368.0 L716.0,367.9 L720.0,367.9 L724.0,368.3 L728.0,368.7 L732.0,368.1 L736.0,367.7 L740.0,368.2 L744.0,368.6 L748.0,368.5 L752.0,368.8 L756.0,369.1 L760.0,368.8 L764.0,368.8 L768.0,368.8 L768.0,371.3 L764.0,371.3 L760.0,371.3 L756.0,371.5 L752.0,371.2 L748.0,370.9 L744.0,371.0 L740.0,370.6 L736.0,370.2 L732.0,370.5 L728.0,371.1 L724.0,370.8 L720.0,370.4 L716.0,370.3 L712.0,370.5 L708.0,370.7 L704.0,370.8 L700.0,370.2 L696.0,369.7 L692.0,369.9 L688.0,370.6 L684.0,370.7 L680.0,370.8 L676.0,371.5 L672.0,373.2 L668.0,373.3 L664.0,372.5 L660.0,373.0 L656.0,373.0 L652.0,373.1 L648.0,373.1 L644.0,373.2 L640.0,373.3 L636.0,373.5 L632.0,373.5 L628.0,373.3 L624.0,373.1 L620.0,372.9 L616.0,372.7 L612.0,372.7 L608.0,372.7 L604.0,372.7 L600.0,372.7 L596.0,372.6 L592.0,372.6 L588.0,372.4 L584.0,372.3 L580.0,372.2 L576.0,372.1 L572.0,372.0 L568.0,371.5 L564.0,371.0 L560.0,370.5 L556.0,370.0 L552.0,369.7 L548.0,369.6 L544.0,369.4 L540.0,369.5 L536.0,369.6 L532.0,369.7 L528.0,369.8 L524.0,370.0 L520.0,370.1 L516.0,370.3 L512.0,370.4 L508.0,370.6 L504.0,370.8 L500.0,370.9 L496.0,371.1 L492.0,371.2 L488.0,371.3 L484.0,371.4 L480.0,371.4 L476.0,371.3 L472.0,371.3 L468.0,371.2 L464.0,371.3 L460.0,371.7 L456.0,372.1 L452.0,372.4 L448.0,372.6 L444.0,372.9 L440.0,373.2 L436.0,373.3 L432.0,373.3 L428.0,373.3 L424.0,373.2 L420.0,373.2 L416.0,372.8 L412.0,372.4 L408.0,372.0 L404.0,371.6 L400.0,371.3 L396.0,371.2 L392.0,371.1 L388.0,371.1 L384.0,371.0 L380.0,371.0 L376.0,371.2 L372.0,371.4 L368.0,371.6 L364.0,371.9 L360.0,372.1 L356.0,372.3 L352.0,372.5 L348.0,372.8 L344.0,373.0 L340.0,373.2 L336.0,373.5 L332.0,373.7 L328.0,373.8 L324.0,373.8 L320.0,373.9 L316.0,374.0 L312.0,373.9 L308.0,373.7 L304.0,373.5 L300.0,373.2 L296.0,373.0 L292.0,372.7 L288.0,372.5 L284.0,372.1 L280.0,371.7 L276.0,371.3 L272.0,370.9 L268.0,370.5 L264.0,370.4 L260.0,370.3 L256.0,370.3 L252.0,370.3 L248.0,370.3 L244.0,370.3 L240.0,370.3 L236.0,370.3 L232.0,370.3 L228.0,370.6 L224.0,371.0 L220.0,371.1 L216.0,371.3 L212.0,371.4 L208.0,371.6 L204.0,371.7 L200.0,371.9 L196.0,372.1 L192.0,372.3 L188.0,372.5 L184.0,372.7 L180.0,373.0 L176.0,373.2 L172.0,373.3 L168.0,373.3 L164.0,373.1 L160.0,373.0 L156.0,372.8 L152.0,372.6 L148.0,372.2 L144.0,371.9 L140.0,371.5 L136.0,371.2Z" fill="#14ff00"/>
<path d="M136.0,371.2 L140.0,371.5 L144.0,371.9 L148.0,372.2 L152.0,372.6 L156.0,372.8 L160.0,373.0 L164.0,373.1 L168.0,373.3 L172.0,373.3 L176.0,373.2 L180.0,373.0 L184.0,372.7 L188.0,372.5 L192.0,372.3 L196.0,372.1 L200.0,371.9 L204.0,371.7 L208.0,371.6 L212.0,371.4 L216.0,371.3 L220.0,371.1 L224.0,371.0 L228.0,370.6 L232.0,370.3 L236.0,370.3 L240.0,370.3 L244.0,370.3 L248.0,370.3 L252.0,370.3 L256.0,370.3 L260.0,370.3 L264.0,370.4 L268.0,370.5 L272.0,370.9 L276.0,371.3 L280.0,371.7 L284.0,372.1 L288.0,372.5 L292.0,372.7 L296.0,373.0 L300.0,373.2 L304.0,373.5 L308.0,373.7 L312.0,373.9 L316.0,374.0 L320.0,373.9 L324.0,373.8 L328.0,373.8 L332.0,373.7 L336.0,373.5 L340.0,373.2 L344.0,373.0 L348.0,372.8 L352.0,372.5 L356.0,372.3 L360.0,372.1 L364.0,371.9 L368.0,371.6 L372.0,371.4 L376.0,371.2 L380.0,371.0 L384.0,371.0 L388.0,371.1 L392.0,371.1 L396.0,371.2 L400.0,371.3 L404.0,371.6 L408.0,372.0 L412.0,372.4 L416.0,372.8 L420.0,373.2 L424.0,373.2 L428.0,373.3 L432.0,373.3 L436.0,373.3 L440.0,373.2 L444.0,372.9 L448.0,372.6 L452.0,372.4 L456.0,372.1 L460.0,371.7 L464.0,371.3 L468.0,371.2 L472.0,371.3 L476.0,371.3 L480.0,371.4 L484.0,371.4 L488.0,371.3 L492.0,371.2 L496.0,371.1 L500.0,370.9 L504.0,370.8 L508.0,370.6 L512.0,370.4 L516.0,370.3 L520.0,370.1 L524.0,370.0 L528.0,369.8 L532.0,369.7 L536.0,369.6 L540.0,369.5 L544.0,369.4 L548.0,369.6 L552.0,369.7 L556.0,370.0 L560.0,370.5 L564.0,371.0 L568.0,371.5 L572.0,372.0 L576.0,372.1 L580.0,372.2 L584.0,372.3 L588.0,372.4 L592.0,372.6 L596.0,372.6 L600.0,372.7 L604.0,372.7 L608.0,372.7 L612.0,372.7 L616.0,372.7 L620.0,372.9 L624.0,373.1 L628.0,373.3 L632.0,373.5 L636.0,373.5 L640.0,373.3 L644.0,373.2 L648.0,373.1 L652.0,373.1 L656.0,373.0 L660.0,373.0 L664.0,372.5 L668.0,373.3 L672.0,373.2 L676.0,371.5 L680.0,370.8 L684.0,370.7 L688.0,370.6 L692.0,369.9 L696.0,369.7 L700.0,370.2 L704.0,370.8 L708.0,370.7 L712.0,370.5 L716.0,370.3 L720.0,370.4 L724.0,370.8 L728.0,371.1 L732.0,370.5 L736.0,370.2 L740.0,370.6 L744.0,371.0 L748.0,370.9 L752.0,371.2 L756.0,371.5 L760.0,371.3 L764.0,371.3 L768.0,371.3 L768.0,374.0 L764.0,374.0 L760.0,374.0 L756.0,374.2 L752.0,373.8 L748.0,373.5 L744.0,373.6 L740.0,373.3 L736.0,372.9 L732.0,373.2 L728.0,373.8 L724.0,373.5 L720.0,373.0 L716.0,373.0 L712.0,373.2 L708.0,373.4 L704.0,373.5 L700.0,372.8 L696.0,372.3 L692.0,372.6 L688.0,373.3 L684.0,373.4 L680.0,373.5 L676.0,374.0 L672.0,375.7 L668.0,376.1 L664.0,375.4 L660.0,375.8 L656.0,375.8 L652.0,375.9 L648.0,375.9 L644.0,376.0 L640.0,376.1 L636.0,376.3 L632.0,376.2 L628.0,376.0 L624.0,375.8 L620.0,375.6 L616.0,375.4 L612.0,375.4 L608.0,375.4 L604.0,375.4 L600.0,375.4 L596.0,375.3 L592.0,375.3 L588.0,375.1 L584.0,375.0 L580.0,374.9 L576.0,374.8 L572.0,374.7 L568.0,374.2 L564.0,373.7 L560.0,373.1 L556.0,372.6 L552.0,372.4 L548.0,372.2 L544.0,372.0 L540.0,372.1 L536.0,372.2 L532.0,372.3 L528.0,372.4 L524.0,372.6 L520.0,372.8 L516.0,372.9 L512.0,373.1 L508.0,373.2 L504.0,373.4 L500.0,373.5 L496.0,373.7 L492.0,373.8 L488.0,374.0 L484.0,374.0 L480.0,374.0 L476.0,373.9 L472.0,373.9 L468.0,373.8 L464.0,373.9 L460.0,374.3 L456.0,374.7 L452.0,375.0 L448.0,375.3 L444.0,375.6 L440.0,375.8 L436.0,376.0 L432.0,375.9 L428.0,375.9 L424.0,375.9 L420.0,375.9 L416.0,375.4 L412.0,375.0 L408.0,374.6 L404.0,374.2 L400.0,374.0 L396.0,373.9 L392.0,373.8 L388.0,373.7 L384.0,373.6 L380.0,373.6 L376.0,373.9 L372.0,374.1 L368.0,374.3 L364.0,374.5 L360.0,374.7 L356.0,374.9 L352.0,375.1 L348.0,375.4 L344.0,375.6 L340.0,375.8 L336.0,376.1 L332.0,376.3 L328.0,376.4 L324.0,376.5 L320.0,376.6 L316.0,376.6 L312.0,376.6 L308.0,376.3 L304.0,376.1 L300.0,375.9 L296.0,375.6 L292.0,375.4 L288.0,375.1 L284.0,374.8 L280.0,374.3 L276.0,373.9 L272.0,373.5 L268.0,373.1 L264.0,373.0 L260.0,372.9 L256.0,372.9 L252.0,372.9 L248.0,372.9 L244.0,372.9 L240.0,372.9 L236.0,372.9 L232.0,372.9 L228.0,373.3 L224.0,373.6 L220.0,373.9 L216.0,374.1 L212.0,374.2 L208.0,374.3 L204.0,374.5 L200.0,374.7 L196.0,374.8 L192.0,375.0 L188.0,375.2 L184.0,375.5 L180.0,375.7 L176.0,375.9 L172.0,376.0 L168.0,376.0 L164.0,375.8 L160.0,375.6 L156.0,375.4 L152.0,375.2 L148.0,374.9 L144.0,374.5 L140.0,374.2 L136.0,373.8Z" fill="#28ff00"/>
<path d="M136.0,373.8 L140.0,374.2 L144.0,374.5 L148.0,374.9 L152.0,375.2 L156.0,375.4 L160.0,375.6 L164.0,375.8 L168.0,376.0 L172.0,376.0 L176.0,375.9 L180.0,375.7 L184.0,375.5 L188.0,375.2 L192.0,375.0 L196.0,374.8 L200.0,374.7 L204.0,374.5 L208.0,374.3 L212.0,374.2 L216.0,374.1 L220.0,373.9 L224.0,373.6 L228.0,373.3 L232.0,372.9 L236.0,372.9 L240.0,372.9 L244.0,372.9 L248.0,372.9 L252.0,372.9 L256.0,372.9 L260.0,372.9 L264.0,373.0 L268.0,373.1 L272.0,373.5 L276.0,373.9 L280.0,374.3 L284.0,374.8 L288.0,375.1 L292.0,375.4 L296.0,375.6 L300.0,375.9 L304.0,376.1 L308.0,376.3 L312.0,376.6 L316.0,376.6 L320.0,376.6 L324.0,376.5 L328.0,376.4 L332.0,376.3 L336.0,376.1 L340.0,375.8 L344.0,375.6 L348.0,375.4 L352.0,375.1 L356.0,374.9 L360.0,374.7 L364.0,374.5 L368.0,374.3 L372.0,374.1 L376.0,373.9 L380.0,373.6 L384.0,373.6 L388.0,373.7 L392.0,373.8 L396.0,373.9 L400.0,374.0 L404.0,374.2 L408.0,374.6 L412.0,375.0 L416.0,375.4 L420.0,375.9 L424.0,375.9 L428.0,375.9 L432.0,375.9 L436.0,376.0 L440.0,375.8 L444.0,375.6 L448.0,375.3 L452.0,375.0 L456.0,374.7 L460.0,374.3 L464.0,373.9 L468.0,373.8 L472.0,373.9 L476.0,373.9 L480.0,374.0 L484.0,374.0 L488.0,374.0 L492.0,373.8 L496.0,373.7 L500.0,373.5 L504.0,373.4 L508.0,373.2 L512.0,373.1 L516.0,372.9 L520.0,372.8 L524.0,372.6 L528.0,372.4 L532.0,372.3 L536.0,372.2 L540.0,372.1 L544.0,372.0 L548.0,372.2 L552.0,372.4 L556.0,372.6 L560.0,373.1 L564.0,373.7 L568.0,374.2 L572.0,374.7 L576.0,374.8 L580.0,374.9 L584.0,375.0 L588.0,375.1 L592.0,375.3 L596.0,375.3 L600.0,375.4 L604.0,375.4 L608.0,375.4 L612.0,375.4 L616.0,375.4 L620.0,375.6 L624.0,375.8 L628.0,376.0 L632.0,376.2 L636.0,376.3 L640.0,376.1 L644.0,376.0 L648.0,375.9 L652.0,375.9 L656.0,375.8 L660.0,375.8 L664.0,375.4 L668.0,376.1 L672.0,375.7 L676.0,374.0 L680.0,373.5 L684.0,373.4 L688.0,373.3 L692.0,372.6 L696.0,372.3 L700.0,372.8 L704.0,373.5 L708.0,373.4 L712.0,373.2 L716.0,373.0 L720.0,373.0 L724.0,373.5 L728.0,373.8 L732.0,373.2 L736.0,372.9 L740.0,373.3 L744.0,373.6 L748.0,373.5 L752.0,373.8 L756.0,374.2 L760.0,374.0 L764.0,374.0 L768.0,374.0 L768.0,376.8 L764.0,376.8 L760.0,376.8 L756.0,377.0 L752.0,376.5 L748.0,376.1 L744.0,376.4 L740.0,376.0 L736.0,375.6 L732.0,375.9 L728.0,376.6 L724.0,376.2 L720.0,375.8 L716.0,375.7 L712.0,376.0 L708.0,376.2 L704.0,376.2 L700.0,375.5 L696.0,375.0 L692.0,375.3 L688.0,376.1 L684.0,376.2 L680.0,376.2 L676.0,376.7 L672.0,378.4 L668.0,379.0 L664.0,378.3 L660.0,378.6 L656.0,378.7 L652.0,378.7 L648.0,378.8 L644.0,378.9 L640.0,379.0 L636.0,379.1 L632.0,379.1 L628.0,378.8 L624.0,378.6 L620.0,378.4 L616.0,378.1 L612.0,378.1 L608.0,378.1 L604.0,378.1 L600.0,378.1 L596.0,378.1 L592.0,378.0 L588.0,377.9 L584.0,377.8 L580.0,377.7 L576.0,377.6 L572.0,377.5 L568.0,377.0 L564.0,376.5 L560.0,375.9 L556.0,375.3 L552.0,375.1 L548.0,374.9 L544.0,374.7 L540.0,374.8 L536.0,374.9 L532.0,375.0 L528.0,375.1 L524.0,375.3 L520.0,375.4 L516.0,375.6 L512.0,375.7 L508.0,375.9 L504.0,376.1 L500.0,376.2 L496.0,376.4 L492.0,376.5 L488.0,376.7 L484.0,376.7 L480.0,376.6 L476.0,376.6 L472.0,376.6 L468.0,376.5 L464.0,376.6 L460.0,377.0 L456.0,377.5 L452.0,377.7 L448.0,378.0 L444.0,378.3 L440.0,378.5 L436.0,378.7 L432.0,378.7 L428.0,378.6 L424.0,378.6 L420.0,378.6 L416.0,378.2 L412.0,377.8 L408.0,377.4 L404.0,377.0 L400.0,376.7 L396.0,376.6 L392.0,376.5 L388.0,376.4 L384.0,376.3 L380.0,376.3 L376.0,376.6 L372.0,376.8 L368.0,377.0 L364.0,377.2 L360.0,377.4 L356.0,377.6 L352.0,377.8 L348.0,378.1 L344.0,378.3 L340.0,378.5 L336.0,378.8 L332.0,378.9 L328.0,379.1 L324.0,379.1 L320.0,379.2 L316.0,379.3 L312.0,379.3 L308.0,379.0 L304.0,378.8 L300.0,378.6 L296.0,378.4 L292.0,378.1 L288.0,377.8 L284.0,377.4 L280.0,377.0 L276.0,376.6 L272.0,376.1 L268.0,375.8 L264.0,375.7 L260.0,375.6 L256.0,375.6 L252.0,375.6 L248.0,375.6 L244.0,375.6 L240.0,375.6 L236.0,375.6 L232.0,375.6 L228.0,376.0 L224.0,376.4 L220.0,376.6 L216.0,376.9 L212.0,377.0 L208.0,377.1 L204.0,377.3 L200.0,377.5 L196.0,377.6 L192.0,377.8 L188.0,378.0 L184.0,378.2 L180.0,378.5 L176.0,378.6 L172.0,378.8 L168.0,378.7 L164.0,378.5 L160.0,378.4 L156.0,378.2 L152.0,377.9 L148.0,377.6 L144.0,377.2 L140.0,376.9 L136.0,376.6Z" fill="#37ff00"/>
<path d="M136.0,376.6 L140.0,376.9 L144.0,377.2 L148.0,377.6 L152.0,377.9 L156.0,378.2 L160.0,378.4 L164.0,378.5 L168.0,378.7 L172.0,378.8 L176.0,378.6 L180.0,378.5 L184.0,378.2 L188.0,378.0 L192.0,377.8 L196.0,377.6 L200.0,377.5 L204.0,377.3 L208.0,377.1 L212.0,377.0 L216.0,376.9 L220.0,376.6 L224.0,376.4 L228.0,376.0 L232.0,375.6 L236.0,375.6 L240.0,375.6 L244.0,375.6 L248.0,375.6 L252.0,375.6 L256.0,375.6 L260.0,375.6 L264.0,375.7 L268.0,375.8 L272.0,376.1 L276.0,376.6 L280.0,377.0 L284.0,377.4 L288.0,377.8 L292.0,378.1 L296.0,378.4 L300.0,378.6 L304.0,378.8 L308.0,379.0 L312.0,379.3 L316.0,379.3 L320.0,379.2 L324.0,379.1 L328.0,379.1 L332.0,378.9 L336.0,378.8 L340.0,378.5 L344.0,378.3 L348.0,378.1 L352.0,377.8 L356.0,377.6 L360.0,377.4 L364.0,377.2 L368.0,377.0 L372.0,376.8 L376.0,376.6 L380.0,376.3 L384.0,376.3 L388.0,376.4 L392.0,376.5 L396.0,376.6 L400.0,376.7 L404.0,377.0 L408.0,377.4 L412.0,377.8 L416.0,378.2 L420.0,378.6 L424.0,378.6 L428.0,378.6 L432.0,378.7 L436.0,378.7 L440.0,378.5 L444.0,378.3 L448.0,378.0 L452.0,377.7 L456.0,377.5 L460.0,377.0 L464.0,376.6 L468.0,376.5 L472.0,376.6 L476.0,376.6 L480.0,376.6 L484.0,376.7 L488.0,376.7 L492.0,376.5 L496.0,376.4 L500.0,376.2 L504.0,376.1 L508.0,375.9 L512.0,375.7 L516.0,375.6 L520.0,375.4 L524.0,375.3 L528.0,375.1 L532.0,375.0 L536.0,374.9 L540.0,374.8 L544.0,374.7 L548.0,374.9 L552.0,375.1 L556.0,375.3 L560.0,375.9 L564.0,376.5 L568.0,377.0 L572.0,377.5 L576.0,377.6 L580.0,377.7 L584.0,377.8 L588.0,377.9 L592.0,378.0 L596.0,378.1 L600.0,378.1 L604.0,378.1 L608.0,378.1 L612.0,378.1 L616.0,378.1 L620.0,378.4 L624.0,378.6 L628.0,378.8 L632.0,379.1 L636.0,379.1 L640.0,379.0 L644.0,378.9 L648.0,378.8 L652.0,378.7 L656.0,378.7 L660.0,378.6 L664.0,378.3 L668.0,379.0 L672.0,378.4 L676.0,376.7 L680.0,376.2 L684.0,376.2 L688.0,376.1 L692.0,375.3 L696.0,375.0 L700.0,375.5 L704.0,376.2 L708.0,376.2 L712.0,376.0 L716.0,375.7 L720.0,375.8 L724.0,376.2 L728.0,376.6 L732.0,375.9 L736.0,375.6 L740.0,376.0 L744.0,376.4 L748.0,376.1 L752.0,376.5 L756.0,377.0 L760.0,376.8 L764.0,376.8 L768.0,376.8 L768.0,379.6 L764.0,379.6 L760.0,379.6 L756.0,379.8 L752.0,379.2 L748.0,378.8 L744.0,379.1 L740.0,378.7 L736.0,378.4 L732.0,378.7 L728.0,379.3 L724.0,378.9 L720.0,378.5 L716.0,378.5 L712.0,378.7 L708.0,379.0 L704.0,378.9 L700.0,378.2 L696.0,377.7 L692.0,378.0 L688.0,378.8 L684.0,378.9 L680.0,379.0 L676.0,379.3 L672.0,380.9 L668.0,381.7 L664.0,381.1 L660.0,381.5 L656.0,381.5 L652.0,381.6 L648.0,381.6 L644.0,381.8 L640.0,381.9 L636.0,382.0 L632.0,381.9 L628.0,381.7 L624.0,381.4 L620.0,381.2 L616.0,380.9 L612.0,380.9 L608.0,380.9 L604.0,380.9 L600.0,380.9 L596.0,380.9 L592.0,380.8 L588.0,380.7 L584.0,380.6 L580.0,380.5 L576.0,380.4 L572.0,380.3 L568.0,379.8 L564.0,379.2 L560.0,378.6 L556.0,378.1 L552.0,377.8 L548.0,377.6 L544.0,377.4 L540.0,377.5 L536.0,377.6 L532.0,377.7 L528.0,377.8 L524.0,378.0 L520.0,378.1 L516.0,378.3 L512.0,378.4 L508.0,378.6 L504.0,378.7 L500.0,378.9 L496.0,379.0 L492.0,379.2 L488.0,379.3 L484.0,379.4 L480.0,379.3 L476.0,379.3 L472.0,379.2 L468.0,379.2 L464.0,379.3 L460.0,379.7 L456.0,380.2 L452.0,380.5 L448.0,380.7 L444.0,381.0 L440.0,381.3 L436.0,381.4 L432.0,381.4 L428.0,381.4 L424.0,381.3 L420.0,381.3 L416.0,380.9 L412.0,380.5 L408.0,380.2 L404.0,379.8 L400.0,379.5 L396.0,379.4 L392.0,379.3 L388.0,379.1 L384.0,379.0 L380.0,379.1 L376.0,379.3 L372.0,379.4 L368.0,379.6 L364.0,379.8 L360.0,380.0 L356.0,380.3 L352.0,380.5 L348.0,380.7 L344.0,381.0 L340.0,381.2 L336.0,381.4 L332.0,381.6 L328.0,381.7 L324.0,381.8 L320.0,381.9 L316.0,382.0 L312.0,382.0 L308.0,381.8 L304.0,381.5 L300.0,381.3 L296.0,381.1 L292.0,380.8 L288.0,380.5 L284.0,380.1 L280.0,379.7 L276.0,379.2 L272.0,378.8 L268.0,378.4 L264.0,378.3 L260.0,378.3 L256.0,378.3 L252.0,378.3 L248.0,378.3 L244.0,378.3 L240.0,378.2 L236.0,378.2 L232.0,378.3 L228.0,378.7 L224.0,379.1 L220.0,379.4 L216.0,379.7 L212.0,379.8 L208.0,380.0 L204.0,380.1 L200.0,380.3 L196.0,380.4 L192.0,380.6 L188.0,380.8 L184.0,381.0 L180.0,381.2 L176.0,381.4 L172.0,381.6 L168.0,381.5 L164.0,381.3 L160.0,381.1 L156.0,380.9 L152.0,380.6 L148.0,380.3 L144.0,379.9 L140.0,379.6 L136.0,379.3Z" fill="#46ff00"/>
<path d="M136.0,379.3 L140.0,379.6 L144.0,379.9 L148.0,380.3 L152.0,380.6 L156.0,380.9 L160.0,381.1 L164.0,381.3 L168.0,381.5 L172.0,381.6 L176.0,381.4 L180.0,381.2 L184.0,381.0 L188.0,380.8 L192.0,380.6 L196.0,380.4 L200.0,380.3 L204.0,380.1 L208.0,380.0 L212.0,379.8 L216.0,379.7 L220.0,379.4 L224.0,379.1 L228.0,378.7 L232.0,378.3 L236.0,378.2 L240.0,378.2 L244.0,378.3 L248.0,378.3 L252.0,378.3 L256.0,378.3 L260.0,378.3 L264.0,378.3 L268.0,378.4 L272.0,378.8 L276.0,379.2 L280.0,379.7 L284.0,380.1 L288.0,380.5 L292.0,380.8 L296.0,381.1 L300.0,381.3 L304.0,381.5 L308.0,381.8 L312.0,382.0 L316.0,382.0 L320.0,381.9 L324.0,381.8 L328.0,381.7 L332.0,381.6 L336.0,381.4 L340.0,381.2 L344.0,381.0 L348.0,380.7 L352.0,380.5 L356.0,380.3 L360.0,380.0 L364.0,379.8 L368.0,379.6 L372.0,379.4 L376.0,379.3 L380.0,379.1 L384.0,379.0 L388.0,379.1 L392.0,379.3 L396.0,379.4 L400.0,379.5 L404.0,379.8 L408.0,380.2 L412.0,380.5 L416.0,380.9 L420.0,381.3 L424.0,381.3 L428.0,381.4 L432.0,381.4 L436.0,381.4 L440.0,381.3 L444.0,381.0 L448.0,380.7 L452.0,380.5 L456.0,380.2 L460.0,379.7 L464.0,379.3 L468.0,379.2 L472.0,379.2 L476.0,379.3 L480.0,379.3 L484.0,379.4 L488.0,379.3 L492.0,379.2 L496.0,379.0 L500.0,378.9 L504.0,378.7 L508.0,378.6 L512.0,378.4 L516.0,378.3 L520.0,378.1 L524.0,378.0 L528.0,377.8 L532.0,377.7 L536.0,377.6 L540.0,377.5 L544.0,377.4 L548.0,377.6 L552.0,377.8 L556.0,378.1 L560.0,378.6 L564.0,379.2 L568.0,379.8 L572.0,380.3 L576.0,380.4 L580.0,380.5 L584.0,380.6 L588.0,380.7 L592.0,380.8 L596.0,380.9 L600.0,380.9 L604.0,380.9 L608.0,380.9 L612.0,380.9 L616.0,380.9 L620.0,381.2 L624.0,381.4 L628.0,381.7 L632.0,381.9 L636.0,382.0 L640.0,381.9 L644.0,381.8 L648.0,381.6 L652.0,381.6 L656.0,381.5 L660.0,381.5 L664.0,381.1 L668.0,381.7 L672.0,380.9 L676.0,379.3 L680.0,379.0 L684.0,378.9 L688.0,378.8 L692.0,378.0 L696.0,377.7 L700.0,378.2 L704.0,378.9 L708.0,379.0 L712.0,378.7 L716.0,378.5 L720.0,378.5 L724.0,378.9 L728.0,379.3 L732.0,378.7 L736.0,378.4 L740.0,378.7 L744.0,379.1 L748.0,378.8 L752.0,379.2 L756.0,379.8 L760.0,379.6 L764.0,379.6 L768.0,379.6 L768.0,382.4 L764.0,382.4 L760.0,382.4 L756.0,382.5 L752.0,381.9 L748.0,381.5 L744.0,381.8 L740.0,381.5 L736.0,381.1 L732.0,381.4 L728.0,382.1 L724.0,381.7 L720.0,381.2 L716.0,381.2 L712.0,381.5 L708.0,381.8 L704.0,381.7 L700.0,380.9 L696.0,380.4 L692.0,380.7 L688.0,381.6 L684.0,381.7 L680.0,381.7 L676.0,381.9 L672.0,383.2 L668.0,384.0 L664.0,383.8 L660.0,384.3 L656.0,384.4 L652.0,384.5 L648.0,384.5 L644.0,384.6 L640.0,384.8 L636.0,384.9 L632.0,384.8 L628.0,384.5 L624.0,384.2 L620.0,383.9 L616.0,383.6 L612.0,383.6 L608.0,383.6 L604.0,383.6 L600.0,383.6 L596.0,383.6 L592.0,383.6 L588.0,383.5 L584.0,383.4 L580.0,383.3 L576.0,383.2 L572.0,383.1 L568.0,382.6 L564.0,382.0 L560.0,381.4 L556.0,380.8 L552.0,380.5 L548.0,380.3 L544.0,380.1 L540.0,380.2 L536.0,380.3 L532.0,380.4 L528.0,380.5 L524.0,380.7 L520.0,380.8 L516.0,381.0 L512.0,381.1 L508.0,381.3 L504.0,381.4 L500.0,381.6 L496.0,381.7 L492.0,381.9 L488.0,382.0 L484.0,382.1 L480.0,382.0 L476.0,382.0 L472.0,381.9 L468.0,381.8 L464.0,381.9 L460.0,382.4 L456.0,382.9 L452.0,383.2 L448.0,383.4 L444.0,383.7 L440.0,384.0 L436.0,384.1 L432.0,384.1 L428.0,384.1 L424.0,384.1 L420.0,384.1 L416.0,383.7 L412.0,383.3 L408.0,382.9 L404.0,382.5 L400.0,382.3 L396.0,382.1 L392.0,382.0 L388.0,381.9 L384.0,381.7 L380.0,381.8 L376.0,382.0 L372.0,382.1 L368.0,382.3 L364.0,382.5 L360.0,382.7 L356.0,383.0 L352.0,383.2 L348.0,383.4 L344.0,383.7 L340.0,383.9 L336.0,384.1 L332.0,384.3 L328.0,384.4 L324.0,384.5 L320.0,384.6 L316.0,384.7 L312.0,384.7 L308.0,384.5 L304.0,384.2 L300.0,384.0 L296.0,383.8 L292.0,383.5 L288.0,383.2 L284.0,382.8 L280.0,382.3 L276.0,381.9 L272.0,381.4 L268.0,381.1 L264.0,381.0 L260.0,380.9 L256.0,380.9 L252.0,380.9 L248.0,380.9 L244.0,380.9 L240.0,380.9 L236.0,380.9 L232.0,381.0 L228.0,381.4 L224.0,381.8 L220.0,382.2 L216.0,382.5 L212.0,382.6 L208.0,382.8 L204.0,382.9 L200.0,383.1 L196.0,383.2 L192.0,383.4 L188.0,383.6 L184.0,383.8 L180.0,384.0 L176.0,384.2 L172.0,384.4 L168.0,384.3 L164.0,384.0 L160.0,383.8 L156.0,383.6 L152.0,383.3 L148.0,383.0 L144.0,382.7 L140.0,382.3 L136.0,382.0Z" fill="#5aff00"/>
<path d="M136.0,382.0 L140.0,382.3 L144.0,382.7 L148.0,383.0 L152.0,383.3 L156.0,383.6 L160.0,383.8 L164.0,384.0 L168.0,384.3 L172.0,384.4 L176.0,384.2 L180.0,384.0 L184.0,383.8 L188.0,383.6 L192.0,383.4 L196.0,383.2 L200.0,383.1 L204.0,382.9 L208.0,382.8 L212.0,382.6 L216.0,382.5 L220.0,382.2 L224.0,381.8 L228.0,381.4 L232.0,381.0 L236.0,380.9 L240.0,380.9 L244.0,380.9 L248.0,380.9 L252.0,380.9 L256.0,380.9 L260.0,380.9 L264.0,381.0 L268.0,381.1 L272.0,381.4 L276.0,381.9 L280.0,382.3 L284.0,382.8 L288.0,383.2 L292.0,383.5 L296.0,383.8 L300.0,384.0 L304.0,384.2 L308.0,384.5 L312.0,384.7 L316.0,384.7 L320.0,384.6 L324.0,384.5 L328.0,384.4 L332.0,384.3 L336.0,384.1 L340.0,383.9 L344.0,383.7 L348.0,383.4 L352.0,383.2 L356.0,383.0 L360.0,382.7 L364.0,382.5 L368.0,382.3 L372.0,382.1 L376.0,382.0 L380.0,381.8 L384.0,381.7 L388.0,381.9 L392.0,382.0 L396.0,382.1 L400.0,382.3 L404.0,382.5 L408.0,382.9 L412.0,383.3 L416.0,383.7 L420.0,384.1 L424.0,384.1 L428.0,384.1 L432.0,384.1 L436.0,384.1 L440.0,384.0 L444.0,383.7 L448.0,383.4 L452.0,383.2 L456.0,382.9 L460.0,382.4 L464.0,381.9 L468.0,381.8 L472.0,381.9 L476.0,382.0 L480.0,382.0 L484.0,382.1 L488.0,382.0 L492.0,381.9 L496.0,381.7 L500.0,381.6 L504.0,381.4 L508.0,381.3 L512.0,381.1 L516.0,381.0 L520.0,380.8 L524.0,380.7 L528.0,380.5 L532.0,380.4 L536.0,380.3 L540.0,380.2 L544.0,380.1 L548.0,380.3 L552.0,380.5 L556.0,380.8 L560.0,381.4 L564.0,382.0 L568.0,382.6 L572.0,383.1 L576.0,383.2 L580.0,383.3 L584.0,383.4 L588.0,383.5 L592.0,383.6 L596.0,383.6 L600.0,383.6 L604.0,383.6 L608.0,383.6 L612.0,383.6 L616.0,383.6 L620.0,383.9 L624.0,384.2 L628.0,384.5 L632.0,384.8 L636.0,384.9 L640.0,384.8 L644.0,384.6 L648.0,384.5 L652.0,384.5 L656.0,384.4 L660.0,384.3 L664.0,383.8 L668.0,384.0 L672.0,383.2 L676.0,381.9 L680.0,381.7 L684.0,381.7 L688.0,381.6 L692.0,380.7 L696.0,380.4 L700.0,380.9 L704.0,381.7 L708.0,381.8 L712.0,381.5 L716.0,381.2 L720.0,381.2 L724.0,381.7 L728.0,382.1 L732.0,381.4 L736.0,381.1 L740.0,381.5 L744.0,381.8 L748.0,381.5 L752.0,381.9 L756.0,382.5 L760.0,382.4 L764.0,382.4 L768.0,382.4 L768.0,384.8 L764.0,384.8 L760.0,384.8 L756.0,384.9 L752.0,384.2 L748.0,383.8 L744.0,384.1 L740.0,383.8 L736.0,383.5 L732.0,383.8 L728.0,384.4 L724.0,384.0 L720.0,383.6 L716.0,383.6 L712.0,383.9 L708.0,384.2 L704.0,384.0 L700.0,383.3 L696.0,382.7 L692.0,383.0 L688.0,384.0 L684.0,384.1 L680.0,384.1 L676.0,384.3 L672.0,385.2 L668.0,385.9 L664.0,386.1 L660.0,386.8 L656.0,386.9 L652.0,387.0 L648.0,387.0 L644.0,387.1 L640.0,387.3 L636.0,387.4 L632.0,387.3 L628.0,387.0 L624.0,386.7 L620.0,386.3 L616.0,386.0 L612.0,386.0 L608.0,386.0 L604.0,386.0 L600.0,386.0 L596.0,386.0 L592.0,386.0 L588.0,385.9 L584.0,385.8 L580.0,385.7 L576.0,385.6 L572.0,385.5 L568.0,385.0 L564.0,384.4 L560.0,383.7 L556.0,383.1 L552.0,382.8 L548.0,382.6 L544.0,382.4 L540.0,382.5 L536.0,382.6 L532.0,382.7 L528.0,382.9 L524.0,383.0 L520.0,383.1 L516.0,383.3 L512.0,383.4 L508.0,383.6 L504.0,383.7 L500.0,383.9 L496.0,384.0 L492.0,384.2 L488.0,384.4 L484.0,384.4 L480.0,384.3 L476.0,384.3 L472.0,384.2 L468.0,384.1 L464.0,384.2 L460.0,384.7 L456.0,385.2 L452.0,385.5 L448.0,385.8 L444.0,386.1 L440.0,386.3 L436.0,386.5 L432.0,386.4 L428.0,386.4 L424.0,386.4 L420.0,386.4 L416.0,386.0 L412.0,385.7 L408.0,385.3 L404.0,384.9 L400.0,384.7 L396.0,384.5 L392.0,384.4 L388.0,384.2 L384.0,384.1 L380.0,384.1 L376.0,384.3 L372.0,384.5 L368.0,384.7 L364.0,384.9 L360.0,385.0 L356.0,385.3 L352.0,385.5 L348.0,385.7 L344.0,386.0 L340.0,386.2 L336.0,386.4 L332.0,386.6 L328.0,386.7 L324.0,386.8 L320.0,386.9 L316.0,387.1 L312.0,387.0 L308.0,386.8 L304.0,386.6 L300.0,386.4 L296.0,386.1 L292.0,385.8 L288.0,385.5 L284.0,385.1 L280.0,384.6 L276.0,384.2 L272.0,383.7 L268.0,383.3 L264.0,383.3 L260.0,383.3 L256.0,383.3 L252.0,383.3 L248.0,383.2 L244.0,383.2 L240.0,383.2 L236.0,383.2 L232.0,383.3 L228.0,383.8 L224.0,384.2 L220.0,384.6 L216.0,385.0 L212.0,385.1 L208.0,385.2 L204.0,385.4 L200.0,385.5 L196.0,385.7 L192.0,385.8 L188.0,386.0 L184.0,386.2 L180.0,386.4 L176.0,386.6 L172.0,386.8 L168.0,386.7 L164.0,386.4 L160.0,386.2 L156.0,385.9 L152.0,385.6 L148.0,385.3 L144.0,385.0 L140.0,384.7 L136.0,384.3Z" fill="#6eff00"/>
<path d="M136.0,384.3 L140.0,384.7 L144.0,385.0 L148.0,385.3 L152.0,385.6 L156.0,385.9 L160.0,386.2 L164.0,386.4 L168.0,386.7 L172.0,386.8 L176.0,386.6 L180.0,386.4 L184.0,386.2 L188.0,386.0 L192.0,385.8 L196.0,385.7 L200.0,385.5 L204.0,385.4 L208.0,385.2 L212.0,385.1 L216.0,385.0 L220.0,384.6 L224.0,384.2 L228.0,383.8 L232.0,383.3 L236.0,383.2 L240.0,383.2 L244.0,383.2 L248.0,383.2 L252.0,383.3 L256.0,383.3 L260.0,383.3 L264.0,383.3 L268.0,383.3 L272.0,383.7 L276.0,384.2 L280.0,384.6 L284.0,385.1 L288.0,385.5 L292.0,385.8 L296.0,386.1 L300.0,386.4 L304.0,386.6 L308.0,386.8 L312.0,387.0 L316.0,387.1 L320.0,386.9 L324.0,386.8 L328.0,386.7 L332.0,386.6 L336.0,386.4 L340.0,386.2 L344.0,386.0 L348.0,385.7 L352.0,385.5 L356.0,385.3 L360.0,385.0 L364.0,384.9 L368.0,384.7 L372.0,384.5 L376.0,384.3 L380.0,384.1 L384.0,384.1 L388.0,384.2 L392.0,384.4 L396.0,384.5 L400.0,384.7 L404.0,384.9 L408.0,385.3 L412.0,385.7 L416.0,386.0 L420.0,386.4 L424.0,386.4 L428.0,386.4 L432.0,386.4 L436.0,386.5 L440.0,386.3 L444.0,386.1 L448.0,385.8 L452.0,385.5 L456.0,385.2 L460.0,384.7 L464.0,384.2 L468.0,384.1 L472.0,384.2 L476.0,384.3 L480.0,384.3 L484.0,384.4 L488.0,384.4 L492.0,384.2 L496.0,384.0 L500.0,383.9 L504.0,383.7 L508.0,383.6 L512.0,383.4 L516.0,383.3 L520.0,383.1 L524.0,383.0 L528.0,382.9 L532.0,382.7 L536.0,382.6 L540.0,382.5 L544.0,382.4 L548.0,382.6 L552.0,382.8 L556.0,383.1 L560.0,383.7 L564.0,384.4 L568.0,385.0 L572.0,385.5 L576.0,385.6 L580.0,385.7 L584.0,385.8 L588.0,385.9 L592.0,386.0 L596.0,386.0 L600.0,386.0 L604.0,386.0 L608.0,386.0 L612.0,386.0 L616.0,386.0 L620.0,386.3 L624.0,386.7 L628.0,387.0 L632.0,387.3 L636.0,387.4 L640.0,387.3 L644.0,387.1 L648.0,387.0 L652.0,387.0 L656.0,386.9 L660.0,386.8 L664.0,386.1 L668.0,385.9 L672.0,385.2 L676.0,384.3 L680.0,384.1 L684.0,384.1 L688.0,384.0 L692.0,383.0 L696.0,382.7 L700.0,383.3 L704.0,384.0 L708.0,384.2 L712.0,383.9 L716.0,383.6 L720.0,383.6 L724.0,384.0 L728.0,384.4 L732.0,383.8 L736.0,383.5 L740.0,383.8 L744.0,384.1 L748.0,383.8 L752.0,384.2 L756.0,384.9 L760.0,384.8 L764.0,384.8 L768.0,384.8 L768.0,387.3 L764.0,387.3 L760.0,387.3 L756.0,387.3 L752.0,386.5 L748.0,386.1 L744.0,386.5 L740.0,386.2 L736.0,385.9 L732.0,386.1 L728.0,386.8 L724.0,386.4 L720.0,386.0 L716.0,386.0 L712.0,386.3 L708.0,386.6 L704.0,386.4 L700.0,385.6 L696.0,385.0 L692.0,385.4 L688.0,386.4 L684.0,386.4 L680.0,386.4 L676.0,386.7 L672.0,387.2 L668.0,387.8 L664.0,388.3 L660.0,389.3 L656.0,389.4 L652.0,389.4 L648.0,389.5 L644.0,389.6 L640.0,389.8 L636.0,389.9 L632.0,389.8 L628.0,389.4 L624.0,389.1 L620.0,388.8 L616.0,388.4 L612.0,388.4 L608.0,388.4 L604.0,388.4 L600.0,388.4 L596.0,388.4 L592.0,388.4 L588.0,388.3 L584.0,388.2 L580.0,388.1 L576.0,388.0 L572.0,388.0 L568.0,387.4 L564.0,386.8 L560.0,386.1 L556.0,385.5 L552.0,385.1 L548.0,384.9 L544.0,384.7 L540.0,384.8 L536.0,384.9 L532.0,385.0 L528.0,385.2 L524.0,385.3 L520.0,385.5 L516.0,385.6 L512.0,385.7 L508.0,385.9 L504.0,386.0 L500.0,386.2 L496.0,386.4 L492.0,386.5 L488.0,386.7 L484.0,386.7 L480.0,386.6 L476.0,386.6 L472.0,386.5 L468.0,386.4 L464.0,386.5 L460.0,387.1 L456.0,387.6 L452.0,387.9 L448.0,388.1 L444.0,388.4 L440.0,388.7 L436.0,388.8 L432.0,388.8 L428.0,388.8 L424.0,388.8 L420.0,388.8 L416.0,388.4 L412.0,388.0 L408.0,387.7 L404.0,387.3 L400.0,387.0 L396.0,386.9 L392.0,386.7 L388.0,386.6 L384.0,386.4 L380.0,386.4 L376.0,386.6 L372.0,386.8 L368.0,387.0 L364.0,387.2 L360.0,387.4 L356.0,387.6 L352.0,387.8 L348.0,388.0 L344.0,388.3 L340.0,388.5 L336.0,388.7 L332.0,388.9 L328.0,389.0 L324.0,389.2 L320.0,389.3 L316.0,389.4 L312.0,389.3 L308.0,389.1 L304.0,388.9 L300.0,388.7 L296.0,388.5 L292.0,388.2 L288.0,387.8 L284.0,387.4 L280.0,386.9 L276.0,386.5 L272.0,386.0 L268.0,385.6 L264.0,385.6 L260.0,385.6 L256.0,385.6 L252.0,385.6 L248.0,385.6 L244.0,385.6 L240.0,385.6 L236.0,385.6 L232.0,385.7 L228.0,386.1 L224.0,386.6 L220.0,387.0 L216.0,387.4 L212.0,387.5 L208.0,387.7 L204.0,387.8 L200.0,388.0 L196.0,388.1 L192.0,388.3 L188.0,388.4 L184.0,388.6 L180.0,388.8 L176.0,389.0 L172.0,389.2 L168.0,389.1 L164.0,388.8 L160.0,388.5 L156.0,388.3 L152.0,388.0 L148.0,387.6 L144.0,387.3 L140.0,387.0 L136.0,386.7Z" fill="#7dff00"/>
<path d="M136.0,386.7 L140.0,387.0 L144.0,387.3 L148.0,387.6 L152.0,388.0 L156.0,388.3 L160.0,388.5 L164.0,388.8 L168.0,389.1 L172.0,389.2 L176.0,389.0 L180.0,388.8 L184.0,388.6 L188.0,388.4 L192.0,388.3 L196.0,388.1 L200.0,388.0 L204.0,387.8 L208.0,387.7 L212.0,387.5 L216.0,387.4 L220.0,387.0 L224.0,386.6 L228.0,386.1 L232.0,385.7 L236.0,385.6 L240.0,385.6 L244.0,385.6 L248.0,385.6 L252.0,385.6 L256.0,385.6 L260.0,385.6 L264.0,385.6 L268.0,385.6 L272.0,386.0 L276.0,386.5 L280.0,386.9 L284.0,387.4 L288.0,387.8 L292.0,388.2 L296.0,388.5 L300.0,388.7 L304.0,388.9 L308.0,389.1 L312.0,389.3 L316.0,389.4 L320.0,389.3 L324.0,389.2 L328.0,389.0 L332.0,388.9 L336.0,388.7 L340.0,388.5 L344.0,388.3 L348.0,388.0 L352.0,387.8 L356.0,387.6 L360.0,387.4 L364.0,387.2 L368.0,387.0 L372.0,386.8 L376.0,386.6 L380.0,386.4 L384.0,386.4 L388.0,386.6 L392.0,386.7 L396.0,386.9 L400.0,387.0 L404.0,387.3 L408.0,387.7 L412.0,388.0 L416.0,388.4 L420.0,388.8 L424.0,388.8 L428.0,388.8 L432.0,388.8 L436.0,388.8 L440.0,388.7 L444.0,388.4 L448.0,388.1 L452.0,387.9 L456.0,387.6 L460.0,387.1 L464.0,386.5 L468.0,386.4 L472.0,386.5 L476.0,386.6 L480.0,386.6 L484.0,386.7 L488.0,386.7 L492.0,386.5 L496.0,386.4 L500.0,386.2 L504.0,386.0 L508.0,385.9 L512.0,385.7 L516.0,385.6 L520.0,385.5 L524.0,385.3 L528.0,385.2 L532.0,385.0 L536.0,384.9 L540.0,384.8 L544.0,384.7 L548.0,384.9 L552.0,385.1 L556.0,385.5 L560.0,386.1 L564.0,386.8 L568.0,387.4 L572.0,388.0 L576.0,388.0 L580.0,388.1 L584.0,388.2 L588.0,388.3 L592.0,388.4 L596.0,388.4 L600.0,388.4 L604.0,388.4 L608.0,388.4 L612.0,388.4 L616.0,388.4 L620.0,388.8 L624.0,389.1 L628.0,389.4 L632.0,389.8 L636.0,389.9 L640.0,389.8 L644.0,389.6 L648.0,389.5 L652.0,389.4 L656.0,389.4 L660.0,389.3 L664.0,388.3 L668.0,387.8 L672.0,387.2 L676.0,386.7 L680.0,386.4 L684.0,386.4 L688.0,386.4 L692.0,385.4 L696.0,385.0 L700.0,385.6 L704.0,386.4 L708.0,386.6 L712.0,386.3 L716.0,386.0 L720.0,386.0 L724.0,386.4 L728.0,386.8 L732.0,386.1 L736.0,385.9 L740.0,386.2 L744.0,386.5 L748.0,386.1 L752.0,386.5 L756.0,387.3 L760.0,387.3 L764.0,387.3 L768.0,387.3 L768.0,389.7 L764.0,389.7 L760.0,389.7 L756.0,389.7 L752.0,388.9 L748.0,388.4 L744.0,388.8 L740.0,388.6 L736.0,388.2 L732.0,388.5 L728.0,389.2 L724.0,388.8 L720.0,388.3 L716.0,388.3 L712.0,388.7 L708.0,389.0 L704.0,388.7 L700.0,388.0 L696.0,387.3 L692.0,387.7 L688.0,388.8 L684.0,388.8 L680.0,388.8 L676.0,389.1 L672.0,389.5 L668.0,389.8 L664.0,390.6 L660.0,391.8 L656.0,391.9 L652.0,391.9 L648.0,392.0 L644.0,392.1 L640.0,392.3 L636.0,392.4 L632.0,392.2 L628.0,391.9 L624.0,391.5 L620.0,391.2 L616.0,390.8 L612.0,390.8 L608.0,390.8 L604.0,390.8 L600.0,390.8 L596.0,390.8 L592.0,390.8 L588.0,390.7 L584.0,390.6 L580.0,390.5 L576.0,390.5 L572.0,390.4 L568.0,389.9 L564.0,389.2 L560.0,388.5 L556.0,387.8 L552.0,387.5 L548.0,387.2 L544.0,387.0 L540.0,387.1 L536.0,387.2 L532.0,387.4 L528.0,387.5 L524.0,387.6 L520.0,387.8 L516.0,387.9 L512.0,388.1 L508.0,388.2 L504.0,388.4 L500.0,388.5 L496.0,388.7 L492.0,388.8 L488.0,389.0 L484.0,389.0 L480.0,389.0 L476.0,388.9 L472.0,388.8 L468.0,388.7 L464.0,388.8 L460.0,389.4 L456.0,389.9 L452.0,390.2 L448.0,390.5 L444.0,390.7 L440.0,391.0 L436.0,391.1 L432.0,391.1 L428.0,391.1 L424.0,391.1 L420.0,391.1 L416.0,390.8 L412.0,390.4 L408.0,390.0 L404.0,389.7 L400.0,389.4 L396.0,389.3 L392.0,389.1 L388.0,388.9 L384.0,388.7 L380.0,388.7 L376.0,388.9 L372.0,389.1 L368.0,389.3 L364.0,389.5 L360.0,389.7 L356.0,389.9 L352.0,390.1 L348.0,390.4 L344.0,390.6 L340.0,390.8 L336.0,391.1 L332.0,391.2 L328.0,391.3 L324.0,391.5 L320.0,391.6 L316.0,391.7 L312.0,391.7 L308.0,391.5 L304.0,391.2 L300.0,391.0 L296.0,390.8 L292.0,390.5 L288.0,390.1 L284.0,389.7 L280.0,389.2 L276.0,388.7 L272.0,388.3 L268.0,387.9 L264.0,387.9 L260.0,387.9 L256.0,387.9 L252.0,387.9 L248.0,387.9 L244.0,387.9 L240.0,387.9 L236.0,387.9 L232.0,388.0 L228.0,388.5 L224.0,388.9 L220.0,389.4 L216.0,389.9 L212.0,390.0 L208.0,390.1 L204.0,390.3 L200.0,390.4 L196.0,390.5 L192.0,390.7 L188.0,390.8 L184.0,391.0 L180.0,391.2 L176.0,391.4 L172.0,391.6 L168.0,391.5 L164.0,391.2 L160.0,390.9 L156.0,390.6 L152.0,390.3 L148.0,390.0 L144.0,389.7 L140.0,389.4 L136.0,389.0Z" fill="#8cff00"/>
<path d="M136.0,389.0 L140.0,389.4 L144.0,389.7 L148.0,390.0 L152.0,390.3 L156.0,390.6 L160.0,390.9 L164.0,391.2 L168.0,391.5 L172.0,391.6 L176.0,391.4 L180.0,391.2 L184.0,391.0 L188.0,390.8 L192.0,390.7 L196.0,390.5 L200.0,390.4 L204.0,390.3 L208.0,390.1 L212.0,390.0 L216.0,389.9 L220.0,389.4 L224.0,388.9 L228.0,388.5 L232.0,388.0 L236.0,387.9 L240.0,387.9 L244.0,387.9 L248.0,387.9 L252.0,387.9 L256.0,387.9 L260.0,387.9 L264.0,387.9 L268.0,387.9 L272.0,388.3 L276.0,388.7 L280.0,389.2 L284.0,389.7 L288.0,390.1 L292.0,390.5 L296.0,390.8 L300.0,391.0 L304.0,391.2 L308.0,391.5 L312.0,391.7 L316.0,391.7 L320.0,391.6 L324.0,391.5 L328.0,391.3 L332.0,391.2 L336.0,391.1 L340.0,390.8 L344.0,390.6 L348.0,390.4 L352.0,390.1 L356.0,389.9 L360.0,389.7 L364.0,389.5 L368.0,389.3 L372.0,389.1 L376.0,388.9 L380.0,388.7 L384.0,388.7 L388.0,388.9 L392.0,389.1 L396.0,389.3 L400.0,389.4 L404.0,389.7 L408.0,390.0 L412.0,390.4 L416.0,390.8 L420.0,391.1 L424.0,391.1 L428.0,391.1 L432.0,391.1 L436.0,391.1 L440.0,391.0 L444.0,390.7 L448.0,390.5 L452.0,390.2 L456.0,389.9 L460.0,389.4 L464.0,388.8 L468.0,388.7 L472.0,388.8 L476.0,388.9 L480.0,389.0 L484.0,389.0 L488.0,389.0 L492.0,388.8 L496.0,388.7 L500.0,388.5 L504.0,388.4 L508.0,388.2 L512.0,388.1 L516.0,387.9 L520.0,387.8 L524.0,387.6 L528.0,387.5 L532.0,387.4 L536.0,387.2 L540.0,387.1 L544.0,387.0 L548.0,387.2 L552.0,387.5 L556.0,387.8 L560.0,388.5 L564.0,389.2 L568.0,389.9 L572.0,390.4 L576.0,390.5 L580.0,390.5 L584.0,390.6 L588.0,390.7 L592.0,390.8 L596.0,390.8 L600.0,390.8 L604.0,390.8 L608.0,390.8 L612.0,390.8 L616.0,390.8 L620.0,391.2 L624.0,391.5 L628.0,391.9 L632.0,392.2 L636.0,392.4 L640.0,392.3 L644.0,392.1 L648.0,392.0 L652.0,391.9 L656.0,391.9 L660.0,391.8 L664.0,390.6 L668.0,389.8 L672.0,389.5 L676.0,389.1 L680.0,388.8 L684.0,388.8 L688.0,388.8 L692.0,387.7 L696.0,387.3 L700.0,388.0 L704.0,388.7 L708.0,389.0 L712.0,388.7 L716.0,388.3 L720.0,388.3 L724.0,388.8 L728.0,389.2 L732.0,388.5 L736.0,388.2 L740.0,388.6 L744.0,388.8 L748.0,388.4 L752.0,388.9 L756.0,389.7 L760.0,389.7 L764.0,389.7 L768.0,389.7 L768.0,392.2 L764.0,392.2 L760.0,392.2 L756.0,392.1 L752.0,391.3 L748.0,390.9 L744.0,391.3 L740.0,391.1 L736.0,390.8 L732.0,391.0 L728.0,391.6 L724.0,391.2 L720.0,390.7 L716.0,390.8 L712.0,391.2 L708.0,391.5 L704.0,391.2 L700.0,390.4 L696.0,389.7 L692.0,390.2 L688.0,391.2 L684.0,391.3 L680.0,391.3 L676.0,391.5 L672.0,391.9 L668.0,392.3 L664.0,393.1 L660.0,394.2 L656.0,394.3 L652.0,394.4 L648.0,394.6 L644.0,394.7 L640.0,394.8 L636.0,394.9 L632.0,394.8 L628.0,394.4 L624.0,394.1 L620.0,393.7 L616.0,393.4 L612.0,393.4 L608.0,393.3 L604.0,393.3 L600.0,393.2 L596.0,393.2 L592.0,393.2 L588.0,393.1 L584.0,393.0 L580.0,393.0 L576.0,392.9 L572.0,392.8 L568.0,392.3 L564.0,391.6 L560.0,391.0 L556.0,390.3 L552.0,389.9 L548.0,389.7 L544.0,389.4 L540.0,389.6 L536.0,389.7 L532.0,389.8 L528.0,390.0 L524.0,390.1 L520.0,390.2 L516.0,390.4 L512.0,390.5 L508.0,390.6 L504.0,390.8 L500.0,390.9 L496.0,391.1 L492.0,391.2 L488.0,391.4 L484.0,391.4 L480.0,391.3 L476.0,391.3 L472.0,391.2 L468.0,391.2 L464.0,391.3 L460.0,391.9 L456.0,392.4 L452.0,392.7 L448.0,392.9 L444.0,393.1 L440.0,393.4 L436.0,393.5 L432.0,393.5 L428.0,393.5 L424.0,393.5 L420.0,393.5 L416.0,393.1 L412.0,392.8 L408.0,392.5 L404.0,392.1 L400.0,391.9 L396.0,391.7 L392.0,391.5 L388.0,391.3 L384.0,391.2 L380.0,391.2 L376.0,391.3 L372.0,391.5 L368.0,391.7 L364.0,391.9 L360.0,392.0 L356.0,392.3 L352.0,392.5 L348.0,392.7 L344.0,393.0 L340.0,393.3 L336.0,393.5 L332.0,393.7 L328.0,393.8 L324.0,393.9 L320.0,394.0 L316.0,394.1 L312.0,394.1 L308.0,393.9 L304.0,393.7 L300.0,393.5 L296.0,393.3 L292.0,392.9 L288.0,392.6 L284.0,392.2 L280.0,391.7 L276.0,391.2 L272.0,390.7 L268.0,390.4 L264.0,390.3 L260.0,390.3 L256.0,390.3 L252.0,390.3 L248.0,390.3 L244.0,390.3 L240.0,390.3 L236.0,390.3 L232.0,390.5 L228.0,391.0 L224.0,391.5 L220.0,392.0 L216.0,392.5 L212.0,392.7 L208.0,392.8 L204.0,392.9 L200.0,393.0 L196.0,393.1 L192.0,393.3 L188.0,393.4 L184.0,393.6 L180.0,393.8 L176.0,394.0 L172.0,394.2 L168.0,394.0 L164.0,393.7 L160.0,393.4 L156.0,393.0 L152.0,392.7 L148.0,392.4 L144.0,392.1 L140.0,391.8 L136.0,391.6Z" fill="#a0ff00"/>
<path d="M136.0,391.6 L140.0,391.8 L144.0,392.1 L148.0,392.4 L152.0,392.7 L156.0,393.0 L160.0,393.4 L164.0,393.7 L168.0,394.0 L172.0,394.2 L176.0,394.0 L180.0,393.8 L184.0,393.6 L188.0,393.4 L192.0,393.3 L196.0,393.1 L200.0,393.0 L204.0,392.9 L208.0,392.8 L212.0,392.7 L216.0,392.5 L220.0,392.0 L224.0,391.5 L228.0,391.0 L232.0,390.5 L236.0,390.3 L240.0,390.3 L244.0,390.3 L248.0,390.3 L252.0,390.3 L256.0,390.3 L260.0,390.3 L264.0,390.3 L268.0,390.4 L272.0,390.7 L276.0,391.2 L280.0,391.7 L284.0,392.2 L288.0,392.6 L292.0,392.9 L296.0,393.3 L300.0,393.5 L304.0,393.7 L308.0,393.9 L312.0,394.1 L316.0,394.1 L320.0,394.0 L324.0,393.9 L328.0,393.8 L332.0,393.7 L336.0,393.5 L340.0,393.3 L344.0,393.0 L348.0,392.7 L352.0,392.5 L356.0,392.3 L360.0,392.0 L364.0,391.9 L368.0,391.7 L372.0,391.5 L376.0,391.3 L380.0,391.2 L384.0,391.2 L388.0,391.3 L392.0,391.5 L396.0,391.7 L400.0,391.9 L404.0,392.1 L408.0,392.5 L412.0,392.8 L416.0,393.1 L420.0,393.5 L424.0,393.5 L428.0,393.5 L432.0,393.5 L436.0,393.5 L440.0,393.4 L444.0,393.1 L448.0,392.9 L452.0,392.7 L456.0,392.4 L460.0,391.9 L464.0,391.3 L468.0,391.2 L472.0,391.2 L476.0,391.3 L480.0,391.3 L484.0,391.4 L488.0,391.4 L492.0,391.2 L496.0,391.1 L500.0,390.9 L504.0,390.8 L508.0,390.6 L512.0,390.5 L516.0,390.4 L520.0,390.2 L524.0,390.1 L528.0,390.0 L532.0,389.8 L536.0,389.7 L540.0,389.6 L544.0,389.4 L548.0,389.7 L552.0,389.9 L556.0,390.3 L560.0,391.0 L564.0,391.6 L568.0,392.3 L572.0,392.8 L576.0,392.9 L580.0,393.0 L584.0,393.0 L588.0,393.1 L592.0,393.2 L596.0,393.2 L600.0,393.2 L604.0,393.3 L608.0,393.3 L612.0,393.4 L616.0,393.4 L620.0,393.7 L624.0,394.1 L628.0,394.4 L632.0,394.8 L636.0,394.9 L640.0,394.8 L644.0,394.7 L648.0,394.6 L652.0,394.4 L656.0,394.3 L660.0,394.2 L664.0,393.1 L668.0,392.3 L672.0,391.9 L676.0,391.5 L680.0,391.3 L684.0,391.3 L688.0,391.2 L692.0,390.2 L696.0,389.7 L700.0,390.4 L704.0,391.2 L708.0,391.5 L712.0,391.2 L716.0,390.8 L720.0,390.7 L724.0,391.2 L728.0,391.6 L732.0,391.0 L736.0,390.8 L740.0,391.1 L744.0,391.3 L748.0,390.9 L752.0,391.3 L756.0,392.1 L760.0,392.2 L764.0,392.2 L768.0,392.2 L768.0,395.0 L764.0,395.0 L760.0,394.9 L756.0,394.7 L752.0,394.0 L748.0,393.8 L744.0,394.1 L740.0,394.0 L736.0,393.8 L732.0,394.0 L728.0,394.3 L724.0,393.9 L720.0,393.4 L716.0,393.5 L712.0,393.9 L708.0,394.3 L704.0,394.0 L700.0,393.1 L696.0,392.5 L692.0,392.9 L688.0,393.8 L684.0,394.1 L680.0,394.1 L676.0,394.2 L672.0,394.5 L668.0,394.8 L664.0,395.5 L660.0,396.4 L656.0,396.5 L652.0,397.0 L648.0,397.4 L644.0,397.5 L640.0,397.5 L636.0,397.6 L632.0,397.5 L628.0,397.2 L624.0,397.0 L620.0,396.7 L616.0,396.5 L612.0,396.4 L608.0,396.2 L604.0,396.0 L600.0,395.8 L596.0,395.7 L592.0,395.5 L588.0,395.5 L584.0,395.4 L580.0,395.4 L576.0,395.3 L572.0,395.3 L568.0,394.9 L564.0,394.3 L560.0,393.7 L556.0,393.2 L552.0,392.9 L548.0,392.6 L544.0,392.3 L540.0,392.5 L536.0,392.6 L532.0,392.7 L528.0,392.8 L524.0,393.0 L520.0,393.1 L516.0,393.2 L512.0,393.3 L508.0,393.5 L504.0,393.6 L500.0,393.7 L496.0,393.8 L492.0,393.9 L488.0,394.0 L484.0,394.0 L480.0,394.0 L476.0,393.9 L472.0,394.0 L468.0,394.1 L464.0,394.3 L460.0,394.9 L456.0,395.3 L452.0,395.4 L448.0,395.6 L444.0,395.7 L440.0,395.9 L436.0,395.9 L432.0,395.9 L428.0,395.9 L424.0,395.8 L420.0,395.8 L416.0,395.6 L412.0,395.3 L408.0,395.1 L404.0,394.8 L400.0,394.6 L396.0,394.4 L392.0,394.2 L388.0,394.0 L384.0,393.9 L380.0,393.9 L376.0,394.0 L372.0,394.1 L368.0,394.2 L364.0,394.4 L360.0,394.6 L356.0,394.8 L352.0,395.1 L348.0,395.4 L344.0,395.7 L340.0,396.1 L336.0,396.4 L332.0,396.6 L328.0,396.7 L324.0,396.7 L320.0,396.8 L316.0,396.8 L312.0,396.8 L308.0,396.6 L304.0,396.5 L300.0,396.3 L296.0,396.1 L292.0,395.8 L288.0,395.4 L284.0,395.0 L280.0,394.5 L276.0,394.1 L272.0,393.7 L268.0,393.4 L264.0,393.3 L260.0,393.2 L256.0,393.2 L252.0,393.1 L248.0,393.1 L244.0,393.0 L240.0,392.9 L236.0,393.1 L232.0,393.4 L228.0,394.0 L224.0,394.6 L220.0,395.2 L216.0,395.8 L212.0,395.9 L208.0,396.0 L204.0,396.1 L200.0,396.2 L196.0,396.3 L192.0,396.4 L188.0,396.5 L184.0,396.6 L180.0,396.7 L176.0,396.9 L172.0,397.0 L168.0,396.9 L164.0,396.5 L160.0,396.2 L156.0,395.8 L152.0,395.4 L148.0,395.1 L144.0,394.8 L140.0,394.7 L136.0,394.6Z" fill="#b4ff00"/>
<path d="M136.0,394.6 L140.0,394.7 L144.0,394.8 L148.0,395.1 L152.0,395.4 L156.0,395.8 L160.0,396.2 L164.0,396.5 L168.0,396.9 L172.0,397.0 L176.0,396.9 L180.0,396.7 L184.0,396.6 L188.0,396.5 L192.0,396.4 L196.0,396.3 L200.0,396.2 L204.0,396.1 L208.0,396.0 L212.0,395.9 L216.0,395.8 L220.0,395.2 L224.0,394.6 L228.0,394.0 L232.0,393.4 L236.0,393.1 L240.0,392.9 L244.0,393.0 L248.0,393.1 L252.0,393.1 L256.0,393.2 L260.0,393.2 L264.0,393.3 L268.0,393.4 L272.0,393.7 L276.0,394.1 L280.0,394.5 L284.0,395.0 L288.0,395.4 L292.0,395.8 L296.0,396.1 L300.0,396.3 L304.0,396.5 L308.0,396.6 L312.0,396.8 L316.0,396.8 L320.0,396.8 L324.0,396.7 L328.0,396.7 L332.0,396.6 L336.0,396.4 L340.0,396.1 L344.0,395.7 L348.0,395.4 L352.0,395.1 L356.0,394.8 L360.0,394.6 L364.0,394.4 L368.0,394.2 L372.0,394.1 L376.0,394.0 L380.0,393.9 L384.0,393.9 L388.0,394.0 L392.0,394.2 L396.0,394.4 L400.0,394.6 L404.0,394.8 L408.0,395.1 L412.0,395.3 L416.0,395.6 L420.0,395.8 L424.0,395.8 L428.0,395.9 L432.0,395.9 L436.0,395.9 L440.0,395.9 L444.0,395.7 L448.0,395.6 L452.0,395.4 L456.0,395.3 L460.0,394.9 L464.0,394.3 L468.0,394.1 L472.0,394.0 L476.0,393.9 L480.0,394.0 L484.0,394.0 L488.0,394.0 L492.0,393.9 L496.0,393.8 L500.0,393.7 L504.0,393.6 L508.0,393.5 L512.0,393.3 L516.0,393.2 L520.0,393.1 L524.0,393.0 L528.0,392.8 L532.0,392.7 L536.0,392.6 L540.0,392.5 L544.0,392.3 L548.0,392.6 L552.0,392.9 L556.0,393.2 L560.0,393.7 L564.0,394.3 L568.0,394.9 L572.0,395.3 L576.0,395.3 L580.0,395.4 L584.0,395.4 L588.0,395.5 L592.0,395.5 L596.0,395.7 L600.0,395.8 L604.0,396.0 L608.0,396.2 L612.0,396.4 L616.0,396.5 L620.0,396.7 L624.0,397.0 L628.0,397.2 L632.0,397.5 L636.0,397.6 L640.0,397.5 L644.0,397.5 L648.0,397.4 L652.0,397.0 L656.0,396.5 L660.0,396.4 L664.0,395.5 L668.0,394.8 L672.0,394.5 L676.0,394.2 L680.0,394.1 L684.0,394.1 L688.0,393.8 L692.0,392.9 L696.0,392.5 L700.0,393.1 L704.0,394.0 L708.0,394.3 L712.0,393.9 L716.0,393.5 L720.0,393.4 L724.0,393.9 L728.0,394.3 L732.0,394.0 L736.0,393.8 L740.0,394.0 L744.0,394.1 L748.0,393.8 L752.0,394.0 L756.0,394.7 L760.0,394.9 L764.0,395.0 L768.0,395.0 L768.0,397.7 L764.0,397.7 L760.0,397.6 L756.0,397.3 L752.0,396.7 L748.0,396.7 L744.0,396.9 L740.0,396.9 L736.0,396.9 L732.0,397.0 L728.0,397.0 L724.0,396.5 L720.0,396.0 L716.0,396.2 L712.0,396.7 L708.0,397.1 L704.0,396.9 L700.0,395.8 L696.0,395.2 L692.0,395.6 L688.0,396.5 L684.0,396.9 L680.0,396.9 L676.0,396.9 L672.0,397.1 L668.0,397.4 L664.0,397.9 L660.0,398.5 L656.0,398.7 L652.0,399.5 L648.0,400.3 L644.0,400.3 L640.0,400.2 L636.0,400.2 L632.0,400.2 L628.0,400.0 L624.0,399.9 L620.0,399.8 L616.0,399.6 L612.0,399.5 L608.0,399.1 L604.0,398.8 L600.0,398.4 L596.0,398.1 L592.0,397.9 L588.0,397.9 L584.0,397.8 L580.0,397.8 L576.0,397.8 L572.0,397.7 L568.0,397.4 L564.0,396.9 L560.0,396.5 L556.0,396.1 L552.0,395.8 L548.0,395.5 L544.0,395.2 L540.0,395.4 L536.0,395.5 L532.0,395.6 L528.0,395.7 L524.0,395.8 L520.0,395.9 L516.0,396.1 L512.0,396.2 L508.0,396.3 L504.0,396.3 L500.0,396.4 L496.0,396.5 L492.0,396.5 L488.0,396.6 L484.0,396.6 L480.0,396.6 L476.0,396.5 L472.0,396.7 L468.0,397.0 L464.0,397.4 L460.0,397.9 L456.0,398.1 L452.0,398.2 L448.0,398.2 L444.0,398.3 L440.0,398.4 L436.0,398.4 L432.0,398.3 L428.0,398.3 L424.0,398.2 L420.0,398.1 L416.0,398.0 L412.0,397.8 L408.0,397.6 L404.0,397.5 L400.0,397.3 L396.0,397.1 L392.0,396.9 L388.0,396.7 L384.0,396.5 L380.0,396.5 L376.0,396.6 L372.0,396.7 L368.0,396.7 L364.0,396.9 L360.0,397.2 L356.0,397.4 L352.0,397.7 L348.0,398.0 L344.0,398.4 L340.0,398.9 L336.0,399.3 L332.0,399.6 L328.0,399.6 L324.0,399.6 L320.0,399.6 L316.0,399.5 L312.0,399.5 L308.0,399.4 L304.0,399.2 L300.0,399.1 L296.0,399.0 L292.0,398.6 L288.0,398.2 L284.0,397.8 L280.0,397.3 L276.0,397.0 L272.0,396.6 L268.0,396.4 L264.0,396.3 L260.0,396.1 L256.0,396.0 L252.0,395.9 L248.0,395.8 L244.0,395.7 L240.0,395.6 L236.0,395.9 L232.0,396.3 L228.0,397.0 L224.0,397.7 L220.0,398.4 L216.0,399.1 L212.0,399.2 L208.0,399.2 L204.0,399.3 L200.0,399.4 L196.0,399.4 L192.0,399.5 L188.0,399.5 L184.0,399.6 L180.0,399.7 L176.0,399.8 L172.0,399.8 L168.0,399.8 L164.0,399.4 L160.0,399.0 L156.0,398.6 L152.0,398.2 L148.0,397.7 L144.0,397.5 L140.0,397.6 L136.0,397.7Z" fill="#c8ff00"/>
<path d="M136.0,397.7 L140.0,397.6 L144.0,397.5 L148.0,397.7 L152.0,398.2 L156.0,398.6 L160.0,399.0 L164.0,399.4 L168.0,399.8 L172.0,399.8 L176.0,399.8 L180.0,399.7 L184.0,399.6 L188.0,399.5 L192.0,399.5 L196.0,399.4 L200.0,399.4 L204.0,399.3 L208.0,399.2 L212.0,399.2 L216.0,399.1 L220.0,398.4 L224.0,397.7 L228.0,397.0 L232.0,396.3 L236.0,395.9 L240.0,395.6 L244.0,395.7 L248.0,395.8 L252.0,395.9 L256.0,396.0 L260.0,396.1 L264.0,396.3 L268.0,396.4 L272.0,396.6 L276.0,397.0 L280.0,397.3 L284.0,397.8 L288.0,398.2 L292.0,398.6 L296.0,399.0 L300.0,399.1 L304.0,399.2 L308.0,399.4 L312.0,399.5 L316.0,399.5 L320.0,399.6 L324.0,399.6 L328.0,399.6 L332.0,399.6 L336.0,399.3 L340.0,398.9 L344.0,398.4 L348.0,398.0 L352.0,397.7 L356.0,397.4 L360.0,397.2 L364.0,396.9 L368.0,396.7 L372.0,396.7 L376.0,396.6 L380.0,396.5 L384.0,396.5 L388.0,396.7 L392.0,396.9 L396.0,397.1 L400.0,397.3 L404.0,397.5 L408.0,397.6 L412.0,397.8 L416.0,398.0 L420.0,398.1 L424.0,398.2 L428.0,398.3 L432.0,398.3 L436.0,398.4 L440.0,398.4 L444.0,398.3 L448.0,398.2 L452.0,398.2 L456.0,398.1 L460.0,397.9 L464.0,397.4 L468.0,397.0 L472.0,396.7 L476.0,396.5 L480.0,396.6 L484.0,396.6 L488.0,396.6 L492.0,396.5 L496.0,396.5 L500.0,396.4 L504.0,396.3 L508.0,396.3 L512.0,396.2 L516.0,396.1 L520.0,395.9 L524.0,395.8 L528.0,395.7 L532.0,395.6 L536.0,395.5 L540.0,395.4 L544.0,395.2 L548.0,395.5 L552.0,395.8 L556.0,396.1 L560.0,396.5 L564.0,396.9 L568.0,397.4 L572.0,397.7 L576.0,397.8 L580.0,397.8 L584.0,397.8 L588.0,397.9 L592.0,397.9 L596.0,398.1 L600.0,398.4 L604.0,398.8 L608.0,399.1 L612.0,399.5 L616.0,399.6 L620.0,399.8 L624.0,399.9 L628.0,400.0 L632.0,400.2 L636.0,400.2 L640.0,400.2 L644.0,400.3 L648.0,400.3 L652.0,399.5 L656.0,398.7 L660.0,398.5 L664.0,397.9 L668.0,397.4 L672.0,397.1 L676.0,396.9 L680.0,396.9 L684.0,396.9 L688.0,396.5 L692.0,395.6 L696.0,395.2 L700.0,395.8 L704.0,396.9 L708.0,397.1 L712.0,396.7 L716.0,396.2 L720.0,396.0 L724.0,396.5 L728.0,397.0 L732.0,397.0 L736.0,396.9 L740.0,396.9 L744.0,396.9 L748.0,396.7 L752.0,396.7 L756.0,397.3 L760.0,397.6 L764.0,397.7 L768.0,397.7 L768.0,400.5 L764.0,400.5 L760.0,400.3 L756.0,399.9 L752.0,399.5 L748.0,399.5 L744.0,399.7 L740.0,399.9 L736.0,400.0 L732.0,400.0 L728.0,399.6 L724.0,399.1 L720.0,398.6 L716.0,399.0 L712.0,399.4 L708.0,399.9 L704.0,399.7 L700.0,398.4 L696.0,398.0 L692.0,398.3 L688.0,399.1 L684.0,399.8 L680.0,399.6 L676.0,399.5 L672.0,399.7 L668.0,400.0 L664.0,400.3 L660.0,400.7 L656.0,401.0 L652.0,402.0 L648.0,403.1 L644.0,403.0 L640.0,403.0 L636.0,402.9 L632.0,402.9 L628.0,402.8 L624.0,402.8 L620.0,402.8 L616.0,402.7 L612.0,402.5 L608.0,402.0 L604.0,401.5 L600.0,401.0 L596.0,400.6 L592.0,400.3 L588.0,400.3 L584.0,400.3 L580.0,400.2 L576.0,400.2 L572.0,400.2 L568.0,399.9 L564.0,399.6 L560.0,399.3 L556.0,399.0 L552.0,398.7 L548.0,398.4 L544.0,398.1 L540.0,398.3 L536.0,398.4 L532.0,398.5 L528.0,398.6 L524.0,398.7 L520.0,398.8 L516.0,398.9 L512.0,399.0 L508.0,399.1 L504.0,399.1 L500.0,399.1 L496.0,399.2 L492.0,399.2 L488.0,399.2 L484.0,399.2 L480.0,399.2 L476.0,399.2 L472.0,399.4 L468.0,399.9 L464.0,400.4 L460.0,401.0 L456.0,401.0 L452.0,400.9 L448.0,400.9 L444.0,400.9 L440.0,400.8 L436.0,400.8 L432.0,400.7 L428.0,400.6 L424.0,400.6 L420.0,400.5 L416.0,400.4 L412.0,400.3 L408.0,400.2 L404.0,400.2 L400.0,400.0 L396.0,399.8 L392.0,399.6 L388.0,399.4 L384.0,399.2 L380.0,399.2 L376.0,399.2 L372.0,399.2 L368.0,399.2 L364.0,399.5 L360.0,399.7 L356.0,400.0 L352.0,400.3 L348.0,400.6 L344.0,401.2 L340.0,401.7 L336.0,402.3 L332.0,402.5 L328.0,402.4 L324.0,402.4 L320.0,402.3 L316.0,402.3 L312.0,402.2 L308.0,402.1 L304.0,402.0 L300.0,401.9 L296.0,401.8 L292.0,401.4 L288.0,401.0 L284.0,400.6 L280.0,400.2 L276.0,399.9 L272.0,399.6 L268.0,399.4 L264.0,399.2 L260.0,399.0 L256.0,398.9 L252.0,398.7 L248.0,398.6 L244.0,398.4 L240.0,398.3 L236.0,398.7 L232.0,399.2 L228.0,400.0 L224.0,400.8 L220.0,401.6 L216.0,402.4 L212.0,402.5 L208.0,402.5 L204.0,402.5 L200.0,402.5 L196.0,402.5 L192.0,402.6 L188.0,402.6 L184.0,402.6 L180.0,402.6 L176.0,402.7 L172.0,402.7 L168.0,402.7 L164.0,402.2 L160.0,401.8 L156.0,401.3 L152.0,400.9 L148.0,400.4 L144.0,400.2 L140.0,400.5 L136.0,400.8Z" fill="#dcff00"/>
<path d="M136.0,400.8 L140.0,400.5 L144.0,400.2 L148.0,400.4 L152.0,400.9 L156.0,401.3 L160.0,401.8 L164.0,402.2 L168.0,402.7 L172.0,402.7 L176.0,402.7 L180.0,402.6 L184.0,402.6 L188.0,402.6 L192.0,402.6 L196.0,402.5 L200.0,402.5 L204.0,402.5 L208.0,402.5 L212.0,402.5 L216.0,402.4 L220.0,401.6 L224.0,400.8 L228.0,400.0 L232.0,399.2 L236.0,398.7 L240.0,398.3 L244.0,398.4 L248.0,398.6 L252.0,398.7 L256.0,398.9 L260.0,399.0 L264.0,399.2 L268.0,399.4 L272.0,399.6 L276.0,399.9 L280.0,400.2 L284.0,400.6 L288.0,401.0 L292.0,401.4 L296.0,401.8 L300.0,401.9 L304.0,402.0 L308.0,402.1 L312.0,402.2 L316.0,402.3 L320.0,402.3 L324.0,402.4 L328.0,402.4 L332.0,402.5 L336.0,402.3 L340.0,401.7 L344.0,401.2 L348.0,400.6 L352.0,400.3 L356.0,400.0 L360.0,399.7 L364.0,399.5 L368.0,399.2 L372.0,399.2 L376.0,399.2 L380.0,399.2 L384.0,399.2 L388.0,399.4 L392.0,399.6 L396.0,399.8 L400.0,400.0 L404.0,400.2 L408.0,400.2 L412.0,400.3 L416.0,400.4 L420.0,400.5 L424.0,400.6 L428.0,400.6 L432.0,400.7 L436.0,400.8 L440.0,400.8 L444.0,400.9 L448.0,400.9 L452.0,400.9 L456.0,401.0 L460.0,401.0 L464.0,400.4 L468.0,399.9 L472.0,399.4 L476.0,399.2 L480.0,399.2 L484.0,399.2 L488.0,399.2 L492.0,399.2 L496.0,399.2 L500.0,399.1 L504.0,399.1 L508.0,399.1 L512.0,399.0 L516.0,398.9 L520.0,398.8 L524.0,398.7 L528.0,398.6 L532.0,398.5 L536.0,398.4 L540.0,398.3 L544.0,398.1 L548.0,398.4 L552.0,398.7 L556.0,399.0 L560.0,399.3 L564.0,399.6 L568.0,399.9 L572.0,400.2 L576.0,400.2 L580.0,400.2 L584.0,400.3 L588.0,400.3 L592.0,400.3 L596.0,400.6 L600.0,401.0 L604.0,401.5 L608.0,402.0 L612.0,402.5 L616.0,402.7 L620.0,402.8 L624.0,402.8 L628.0,402.8 L632.0,402.9 L636.0,402.9 L640.0,403.0 L644.0,403.0 L648.0,403.1 L652.0,402.0 L656.0,401.0 L660.0,400.7 L664.0,400.3 L668.0,400.0 L672.0,399.7 L676.0,399.5 L680.0,399.6 L684.0,399.8 L688.0,399.1 L692.0,398.3 L696.0,398.0 L700.0,398.4 L704.0,399.7 L708.0,399.9 L712.0,399.4 L716.0,399.0 L720.0,398.6 L724.0,399.1 L728.0,399.6 L732.0,400.0 L736.0,400.0 L740.0,399.9 L744.0,399.7 L748.0,399.5 L752.0,399.5 L756.0,399.9 L760.0,400.3 L764.0,400.5 L768.0,400.5 L768.0,401.9 L764.0,401.9 L760.0,401.6 L756.0,401.2 L752.0,400.8 L748.0,401.0 L744.0,401.2 L740.0,401.3 L736.0,401.5 L732.0,401.5 L728.0,401.0 L724.0,400.4 L720.0,399.9 L716.0,400.3 L712.0,400.8 L708.0,401.3 L704.0,401.1 L700.0,399.8 L696.0,399.4 L692.0,399.7 L688.0,400.4 L684.0,401.2 L680.0,401.0 L676.0,400.9 L672.0,401.0 L668.0,401.3 L664.0,401.5 L660.0,401.8 L656.0,402.1 L652.0,403.3 L648.0,404.5 L644.0,404.4 L640.0,404.3 L636.0,404.2 L632.0,404.2 L628.0,404.2 L624.0,404.3 L620.0,404.3 L616.0,404.3 L612.0,404.0 L608.0,403.5 L604.0,402.9 L600.0,402.3 L596.0,401.8 L592.0,401.5 L588.0,401.5 L584.0,401.5 L580.0,401.4 L576.0,401.4 L572.0,401.4 L568.0,401.2 L564.0,400.9 L560.0,400.7 L556.0,400.4 L552.0,400.1 L548.0,399.9 L544.0,399.6 L540.0,399.7 L536.0,399.8 L532.0,399.9 L528.0,400.0 L524.0,400.1 L520.0,400.2 L516.0,400.3 L512.0,400.4 L508.0,400.5 L504.0,400.5 L500.0,400.5 L496.0,400.5 L492.0,400.5 L488.0,400.5 L484.0,400.5 L480.0,400.5 L476.0,400.5 L472.0,400.8 L468.0,401.4 L464.0,401.9 L460.0,402.5 L456.0,402.4 L452.0,402.3 L448.0,402.2 L444.0,402.2 L440.0,402.1 L436.0,402.0 L432.0,401.9 L428.0,401.8 L424.0,401.7 L420.0,401.6 L416.0,401.6 L412.0,401.5 L408.0,401.5 L404.0,401.5 L400.0,401.4 L396.0,401.2 L392.0,400.9 L388.0,400.7 L384.0,400.6 L380.0,400.6 L376.0,400.5 L372.0,400.5 L368.0,400.5 L364.0,400.7 L360.0,401.0 L356.0,401.3 L352.0,401.6 L348.0,401.9 L344.0,402.5 L340.0,403.1 L336.0,403.7 L332.0,404.0 L328.0,403.9 L324.0,403.8 L320.0,403.7 L316.0,403.6 L312.0,403.5 L308.0,403.5 L304.0,403.4 L300.0,403.3 L296.0,403.2 L292.0,402.8 L288.0,402.4 L284.0,402.0 L280.0,401.6 L276.0,401.3 L272.0,401.1 L268.0,400.9 L264.0,400.7 L260.0,400.5 L256.0,400.3 L252.0,400.1 L248.0,400.0 L244.0,399.8 L240.0,399.6 L236.0,400.1 L232.0,400.7 L228.0,401.6 L224.0,402.4 L220.0,403.3 L216.0,404.1 L212.0,404.1 L208.0,404.1 L204.0,404.1 L200.0,404.1 L196.0,404.1 L192.0,404.1 L188.0,404.1 L184.0,404.1 L180.0,404.1 L176.0,404.1 L172.0,404.1 L168.0,404.1 L164.0,403.6 L160.0,403.2 L156.0,402.7 L152.0,402.2 L148.0,401.8 L144.0,401.5 L140.0,401.9 L136.0,402.3Z" fill="#eeff00"/>
<path d="M136.0,402.3 L140.0,401.9 L144.0,401.5 L148.0,401.8 L152.0,402.2 L156.0,402.7 L160.0,403.2 L164.0,403.6 L168.0,404.1 L172.0,404.1 L176.0,404.1 L180.0,404.1 L184.0,404.1 L188.0,404.1 L192.0,404.1 L196.0,404.1 L200.0,404.1 L204.0,404.1 L208.0,404.1 L212.0,404.1 L216.0,404.1 L220.0,403.3 L224.0,402.4 L228.0,401.6 L232.0,400.7 L236.0,400.1 L240.0,399.6 L244.0,399.8 L248.0,400.0 L252.0,400.1 L256.0,400.3 L260.0,400.5 L264.0,400.7 L268.0,400.9 L272.0,401.1 L276.0,401.3 L280.0,401.6 L284.0,402.0 L288.0,402.4 L292.0,402.8 L296.0,403.2 L300.0,403.3 L304.0,403.4 L308.0,403.5 L312.0,403.5 L316.0,403.6 L320.0,403.7 L324.0,403.8 L328.0,403.9 L332.0,404.0 L336.0,403.7 L340.0,403.1 L344.0,402.5 L348.0,401.9 L352.0,401.6 L356.0,401.3 L360.0,401.0 L364.0,400.7 L368.0,400.5 L372.0,400.5 L376.0,400.5 L380.0,400.6 L384.0,400.6 L388.0,400.7 L392.0,400.9 L396.0,401.2 L400.0,401.4 L404.0,401.5 L408.0,401.5 L412.0,401.5 L416.0,401.6 L420.0,401.6 L424.0,401.7 L428.0,401.8 L432.0,401.9 L436.0,402.0 L440.0,402.1 L444.0,402.2 L448.0,402.2 L452.0,402.3 L456.0,402.4 L460.0,402.5 L464.0,401.9 L468.0,401.4 L472.0,400.8 L476.0,400.5 L480.0,400.5 L484.0,400.5 L488.0,400.5 L492.0,400.5 L496.0,400.5 L500.0,400.5 L504.0,400.5 L508.0,400.5 L512.0,400.4 L516.0,400.3 L520.0,400.2 L524.0,400.1 L528.0,400.0 L532.0,399.9 L536.0,399.8 L540.0,399.7 L544.0,399.6 L548.0,399.9 L552.0,400.1 L556.0,400.4 L560.0,400.7 L564.0,400.9 L568.0,401.2 L572.0,401.4 L576.0,401.4 L580.0,401.4 L584.0,401.5 L588.0,401.5 L592.0,401.5 L596.0,401.8 L600.0,402.3 L604.0,402.9 L608.0,403.5 L612.0,404.0 L616.0,404.3 L620.0,404.3 L624.0,404.3 L628.0,404.2 L632.0,404.2 L636.0,404.2 L640.0,404.3 L644.0,404.4 L648.0,404.5 L652.0,403.3 L656.0,402.1 L660.0,401.8 L664.0,401.5 L668.0,401.3 L672.0,401.0 L676.0,400.9 L680.0,401.0 L684.0,401.2 L688.0,400.4 L692.0,399.7 L696.0,399.4 L700.0,399.8 L704.0,401.1 L708.0,401.3 L712.0,400.8 L716.0,400.3 L720.0,399.9 L724.0,400.4 L728.0,401.0 L732.0,401.5 L736.0,401.5 L740.0,401.3 L744.0,401.2 L748.0,401.0 L752.0,400.8 L756.0,401.2 L760.0,401.6 L764.0,401.9 L768.0,401.9 L768.0,464.0 L764.0,464.0 L760.0,464.0 L756.0,464.0 L752.0,464.0 L748.0,464.0 L744.0,464.0 L740.0,464.0 L736.0,464.0 L732.0,464.0 L728.0,464.0 L724.0,464.0 L720.0,464.0 L716.0,464.0 L712.0,464.0 L708.0,464.0 L704.0,464.0 L700.0,464.0 L696.0,464.0 L692.0,464.0 L688.0,464.0 L684.0,464.0 L680.0,464.0 L676.0,464.0 L672.0,464.0 L668.0,464.0 L664.0,464.0 L660.0,464.0 L656.0,464.0 L652.0,464.0 L648.0,464.0 L644.0,464.0 L640.0,464.0 L636.0,464.0 L632.0,464.0 L628.0,464.0 L624.0,464.0 L620.0,464.0 L616.0,464.0 L612.0,464.0 L608.0,464.0 L604.0,464.0 L600.0,464.0 L596.0,464.0 L592.0,464.0 L588.0,464.0 L584.0,464.0 L580.0,464.0 L576.0,464.0 L572.0,464.0 L568.0,464.0 L564.0,464.0 L560.0,464.0 L556.0,464.0 L552.0,464.0 L548.0,464.0 L544.0,464.0 L540.0,464.0 L536.0,464.0 L532.0,464.0 L528.0,464.0 L524.0,464.0 L520.0,464.0 L516.0,464.0 L512.0,464.0 L508.0,464.0 L504.0,464.0 L500.0,464.0 L496.0,464.0 L492.0,464.0 L488.0,464.0 L484.0,464.0 L480.0,464.0 L476.0,464.0 L472.0,464.0 L468.0,464.0 L464.0,464.0 L460.0,464.0 L456.0,464.0 L452.0,464.0 L448.0,464.0 L444.0,464.0 L440.0,464.0 L436.0,464.0 L432.0,464.0 L428.0,464.0 L424.0,464.0 L420.0,464.0 L416.0,464.0 L412.0,464.0 L408.0,464.0 L404.0,464.0 L400.0,464.0 L396.0,464.0 L392.0,464.0 L388.0,464.0 L384.0,464.0 L380.0,464.0 L376.0,464.0 L372.0,464.0 L368.0,464.0 L364.0,464.0 L360.0,464.0 L356.0,464.0 L352.0,464.0 L348.0,464.0 L344.0,464.0 L340.0,464.0 L336.0,464.0 L332.0,464.0 L328.0,464.0 L324.0,464.0 L320.0,464.0 L316.0,464.0 L312.0,464.0 L308.0,464.0 L304.0,464.0 L300.0,464.0 L296.0,464.0 L292.0,464.0 L288.0,464.0 L284.0,464.0 L280.0,464.0 L276.0,464.0 L272.0,464.0 L268.0,464.0 L264.0,464.0 L260.0,464.0 L256.0,464.0 L252.0,464.0 L248.0,464.0 L244.0,464.0 L240.0,464.0 L236.0,464.0 L232.0,464.0 L228.0,464.0 L224.0,464.0 L220.0,464.0 L216.0,464.0 L212.0,464.0 L208.0,464.0 L204.0,464.0 L200.0,464.0 L196.0,464.0 L192.0,464.0 L188.0,464.0 L184.0,464.0 L180.0,464.0 L176.0,464.0 L172.0,464.0 L168.0,464.0 L164.0,464.0 L160.0,464.0 L156.0,464.0 L152.0,464.0 L148.0,464.0 L144.0,464.0 L140.0,464.0 L136.0,464.0Z" fill="#eeff00"/>
<g clip-path="url(#b21)"><path d="M136.0,455.7 L143.0,451.0 L160.0,446.2 L174.0,443.8 L188.6,445.0 L203.0,440.2 L215.0,437.8 L224.4,443.8 L231.6,442.6 L234.0,419.9 L234.4,402.5 L269.8,400.5 L272.2,410.3 L275.8,431.8 L279.4,424.7 L284.0,431.8 L293.7,437.8 L308.0,440.2 L327.0,440.2 L339.0,437.8 L346.0,431.8 L349.0,420.0 L349.6,401.0 L385.4,400.5 L385.8,420.0 L386.0,443.0 L395.0,448.0 L418.0,452.0 L420.0,464.0 L136.0,464.0 Z" fill="#ffec00"/><path d="M444.0,464.0 L450.0,451.0 L476.5,440.5 L485.4,436.0 L481.9,421.0 L476.5,410.4 L473.0,403.3 L474.0,400.0 L509.0,400.0 L544.5,399.5 L559.7,400.5 L563.3,408.6 L564.2,424.5 L570.4,433.4 L579.2,442.2 L591.6,446.7 L610.0,449.3 L657.0,447.5 L750.0,448.5 L768.0,448.0 L768.0,464.0 Z" fill="#ffec00"/><path d="M640.7,429.0 L648.7,421.0 L661.1,412.2 L669.1,402.2 L676.1,401.3 L677.0,408.6 L670.0,419.2 L661.1,428.1 L650.5,432.5 L642.5,431.6 Z" fill="#ffec00"/><path d="M682.3,400.3 L703.6,399.4 L708.9,408.6 L709.8,413.9 L714.2,400.3 L731.9,400.3 L742.5,412.2 L754.9,428.1 L762.0,444.0 L758.4,451.1 L749.6,445.8 L739.0,440.5 L723.0,436.1 L707.1,440.5 L693.0,437.8 L678.8,434.3 L685.9,429.9 L693.0,424.5 L684.1,415.7 L681.5,408.6 Z" fill="#ffec00"/><path d="M754.9,401.2 L763.8,402.1 L766.4,412.2 L762.0,410.4 Z" fill="#ffec00"/><path d="M492.5,400.3 L503.0,400.0 L520.8,415.7 L519.0,420.0 L508.4,414.0 Z" fill="#eeff00"/><path d="M365.0,401.0 L367.5,401.0 L367.0,440.0 L365.5,440.0 Z" fill="#eeff00"/></g>
<path d="M291.0,402.2 L298.8,405.0 L304.3,412.1 L313.2,417.7 L322.0,419.2 L329.8,417.7 L333.5,414.3 L332.0,408.8 L333.0,404.4 L344.2,402.2 Z" fill="#e2ff00"/><path d="M412.7,401.5 L416.0,405.5 L418.3,418.8 L422.7,428.7 L432.7,435.4 L443.7,438.0 L452.6,436.9 L459.2,432.0 L462.5,422.1 L459.2,412.1 L456.5,405.9 L458.0,403.5 L463.6,402.2 Z" fill="#e2ff00"/>
<path d="M212,324 L216,320 L240,320 L243,322 L240,324 Z M249,324 L252,320.5 L255,320.5 L258,324 Z M513,322 L515,319.5 L551,319.5 L552,322 Z" fill="#00a4ff"/>
</g>
<g clip-path="url(#pc)" shape-rendering="crispEdges">
<path d="M136.0,335.0 L138.0,335.2 L140.0,335.4 L142.0,335.6 L144.0,335.8 L146.0,336.0 L148.0,336.2 L150.0,336.4 L152.0,336.6 L154.0,336.8 L156.0,336.7 L158.0,336.7 L160.0,336.6 L162.0,336.5 L164.0,336.5 L166.0,336.4 L168.0,336.3 L170.0,336.2 L172.0,336.2 L174.0,336.1 L176.0,336.0 L178.0,336.0 L180.0,335.9 L182.0,335.7 L184.0,335.6 L186.0,335.4 L188.0,335.3 L190.0,335.1 L192.0,335.0 L194.0,334.8 L196.0,334.7 L198.0,334.5 L200.0,334.4 L202.0,334.2 L204.0,334.1 L206.0,334.0 L208.0,333.9 L210.0,333.8 L212.0,333.6 L214.0,333.5 L216.0,333.7 L218.0,333.9 L220.0,334.1 L222.0,334.3 L224.0,334.5 L226.0,334.5 L228.0,334.5 L230.0,334.5 L232.0,334.5 L234.0,334.6 L236.0,334.6 L238.0,334.6 L240.0,334.6 L242.0,334.6 L244.0,334.6 L246.0,334.6 L248.0,334.6 L250.0,334.6 L252.0,334.7 L254.0,334.7 L256.0,334.7 L258.0,334.7 L260.0,334.7 L262.0,334.9 L264.0,335.0 L266.0,335.2 L268.0,335.3 L270.0,335.5 L272.0,335.6 L274.0,335.8 L276.0,336.0 L278.0,336.1 L280.0,336.3 L282.0,336.4 L284.0,336.5 L286.0,336.6 L288.0,336.6 L290.0,336.7 L292.0,336.7 L294.0,336.8 L296.0,336.8 L298.0,337.0 L300.0,337.1 L302.0,337.3 L304.0,337.4 L306.0,337.6 L308.0,337.7 L310.0,337.9 L312.0,338.0 L314.0,338.2 L316.0,338.2 L318.0,338.2 L320.0,338.2 L322.0,338.2 L324.0,338.1 L326.0,338.1 L328.0,338.1 L330.0,338.1 L332.0,338.0 L334.0,337.9 L336.0,337.8 M380.0,335.1 L382.0,335.0 L384.0,334.9 L386.0,334.9 L388.0,334.8 L390.0,334.8 L392.0,334.7 L394.0,334.7 L396.0,334.6 L398.0,334.6 L400.0,334.5 L402.0,334.5 L404.0,334.8 L406.0,335.0 L408.0,335.3 L410.0,335.5 L412.0,335.8 L414.0,336.0 L416.0,336.3 L418.0,336.5 L420.0,336.8 L422.0,336.8 L424.0,336.9 L426.0,336.9 L428.0,337.0 L430.0,337.0 L432.0,337.1 L434.0,337.1 L436.0,337.2 L438.0,337.2 L440.0,337.1 L442.0,336.9 L444.0,336.8 L446.0,336.6 L448.0,336.5 L450.0,336.3 L452.0,336.2 L454.0,336.0 L456.0,335.9 L458.0,335.9 L460.0,335.9 L462.0,335.8 L464.0,335.8 L466.0,335.8 L468.0,335.8 L470.0,335.8 L472.0,335.8 L474.0,335.7 L476.0,335.7 L478.0,335.7 L480.0,335.7 L482.0,335.7 L484.0,335.6 L486.0,335.6 L488.0,335.6 L490.0,335.5 L492.0,335.5 L494.0,335.4 L496.0,335.3 L498.0,335.3 L500.0,335.2 L502.0,335.1 L504.0,335.1 L506.0,335.0 L508.0,334.9 L510.0,334.8 L512.0,334.7 L514.0,334.6 L516.0,334.5 L518.0,334.4 L520.0,334.4 L522.0,334.3 L524.0,334.2 L526.0,334.1 L528.0,334.0 L530.0,333.9 L532.0,333.8 L534.0,333.8 L536.0,333.8 L538.0,333.8 L540.0,333.8 L542.0,333.8 L544.0,333.8 L546.0,333.8 L548.0,333.8 L550.0,333.8 L552.0,333.8 L554.0,333.8 L556.0,333.8 L558.0,333.8 L560.0,333.9 L562.0,334.0 L564.0,334.1 L566.0,334.2 L568.0,334.3 L570.0,334.4 L572.0,334.5 L574.0,334.7 L576.0,334.8 L578.0,334.9 L580.0,335.0 L582.0,335.1 L584.0,335.2 L586.0,335.3 L588.0,335.4 L590.0,335.5 L592.0,335.6 L594.0,335.7 L596.0,335.8 L598.0,335.9 L600.0,335.9 L602.0,335.9 L604.0,335.9 L606.0,335.9 L608.0,335.9 L610.0,335.9 L612.0,335.9 L614.0,335.9 L616.0,335.9 L618.0,335.8 L620.0,335.7 L622.0,335.7 L624.0,335.6 L626.0,335.5 L628.0,335.4 L630.0,335.3 L632.0,335.2 L634.0,335.2 L636.0,335.1 L638.0,335.0 L640.0,334.9 L642.0,334.8 L644.0,334.8 L646.0,334.7 L648.0,334.6 L650.0,334.7 L652.0,334.7 L654.0,334.8 L656.0,334.8 L658.0,334.9 L660.0,334.9 L662.0,335.0 L664.0,335.0 L666.0,334.9 L668.0,334.8 L670.0,335.4 L672.0,336.0 L674.0,336.6 L676.0,336.5 L678.0,335.7 L680.0,334.9 L682.0,334.1 L684.0,334.0 L686.0,333.9 L688.0,333.9 L690.0,333.9 L692.0,333.9 L694.0,333.9 L696.0,333.9 L698.0,333.9 L700.0,334.1 L702.0,334.4 L704.0,334.5 L706.0,334.0 L708.0,333.5 L710.0,333.6 L712.0,333.6 L714.0,333.7 L716.0,333.8 L718.0,333.8 L720.0,333.9 L722.0,334.1 L724.0,334.3 L726.0,334.5 L728.0,334.6 L730.0,334.3 L732.0,334.0 L734.0,333.7 L736.0,333.6 L738.0,333.9 L740.0,334.2 L742.0,334.6 L744.0,334.9 L746.0,335.2 L748.0,335.3 L750.0,335.3 L752.0,335.3 L754.0,335.3 L756.0,334.7 L758.0,334.0 L760.0,333.9 L762.0,333.9 L764.0,333.9 L766.0,333.9 L768.0,333.9" fill="none" stroke="#000" stroke-width="2" stroke-linejoin="round"/>
<path d="M136.0,344.4 L138.0,344.6 L140.0,344.8 L142.0,345.0 L144.0,345.2 L146.0,345.4 L148.0,345.6 L150.0,345.7 L152.0,345.9 L154.0,346.1 L156.0,346.1 L158.0,346.1 L160.0,346.0 L162.0,346.0 L164.0,346.0 L166.0,345.9 L168.0,345.9 L170.0,345.9 L172.0,345.8 L174.0,345.7 L176.0,345.7 L178.0,345.6 L180.0,345.5 L182.0,345.4 L184.0,345.2 L186.0,345.1 L188.0,344.9 L190.0,344.8 L192.0,344.7 L194.0,344.5 L196.0,344.4 L198.0,344.2 L200.0,344.1 L202.0,344.0 L204.0,343.9 L206.0,343.8 L208.0,343.7 L210.0,343.5 L212.0,343.4 L214.0,343.3 L216.0,343.5 L218.0,343.6 L220.0,343.7 L222.0,343.8 L224.0,344.0 L226.0,343.9 L228.0,343.9 L230.0,343.9 L232.0,343.8 L234.0,343.8 L236.0,343.8 L238.0,343.8 L240.0,343.9 L242.0,343.9 L244.0,343.9 L246.0,343.9 L248.0,343.9 L250.0,343.9 L252.0,343.9 L254.0,343.9 L256.0,343.9 L258.0,343.9 L260.0,343.9 L262.0,344.1 L264.0,344.2 L266.0,344.3 L268.0,344.5 L270.0,344.6 L272.0,344.8 L274.0,345.0 L276.0,345.1 L278.0,345.3 L280.0,345.5 L282.0,345.7 L284.0,345.8 L286.0,345.9 L288.0,345.9 L290.0,346.0 L292.0,346.1 L294.0,346.1 L296.0,346.2 L298.0,346.3 L300.0,346.5 L302.0,346.6 L304.0,346.8 L306.0,346.9 L308.0,347.1 L310.0,347.2 L312.0,347.4 L314.0,347.5 L316.0,347.5 L318.0,347.5 L320.0,347.5 L322.0,347.4 L324.0,347.4 L326.0,347.4 L328.0,347.4 L330.0,347.4 L332.0,347.3 L334.0,347.2 L336.0,347.1 L338.0,346.9 L340.0,346.8 L342.0,346.7 L344.0,346.6 L346.0,346.5 L348.0,346.4 L350.0,346.2 L352.0,346.1 L354.0,346.0 L356.0,345.9 L358.0,345.8 L360.0,345.6 L362.0,345.5 L364.0,345.4 L366.0,345.3 L368.0,345.1 L370.0,345.0 L372.0,344.9 L374.0,344.8 L376.0,344.7 L378.0,344.5 L380.0,344.4 L382.0,344.3 L384.0,344.3 L386.0,344.3 L388.0,344.2 L390.0,344.2 L392.0,344.2 L394.0,344.2 L396.0,344.1 L398.0,344.1 L400.0,344.1 L402.0,344.1 L404.0,344.3 L406.0,344.6 L408.0,344.8 L410.0,345.0 L412.0,345.3 L414.0,345.5 L416.0,345.8 L418.0,346.0 L420.0,346.2 L422.0,346.3 L424.0,346.3 L426.0,346.4 L428.0,346.4 L430.0,346.4 L432.0,346.5 L434.0,346.5 L436.0,346.5 L438.0,346.6 L440.0,346.4 L442.0,346.3 L444.0,346.2 L446.0,346.0 L448.0,345.9 L450.0,345.7 L452.0,345.6 L454.0,345.4 L456.0,345.3 L458.0,345.2 L460.0,345.2 L462.0,345.1 L464.0,345.0 L466.0,345.0 L468.0,345.0 L470.0,345.0 L472.0,345.0 L474.0,345.0 L476.0,345.0 L478.0,345.0 L480.0,344.9 L482.0,344.9 L484.0,344.9 L486.0,344.9 L488.0,344.9 L490.0,344.8 L492.0,344.7 L494.0,344.7 L496.0,344.6 L498.0,344.5 L500.0,344.5 L502.0,344.4 L504.0,344.3 L506.0,344.3 L508.0,344.2 L510.0,344.1 L512.0,344.0 L514.0,343.9 L516.0,343.8 L518.0,343.7 L520.0,343.6 L522.0,343.6 L524.0,343.5 L526.0,343.4 L528.0,343.3 L530.0,343.2 L532.0,343.1 L534.0,343.1 L536.0,343.1 L538.0,343.1 L540.0,343.1 L542.0,343.1 L544.0,343.0 L546.0,343.1 L548.0,343.1 L550.0,343.1 L552.0,343.1 L554.0,343.2 L556.0,343.2 L558.0,343.3 L560.0,343.4 L562.0,343.5 L564.0,343.7 L566.0,343.8 L568.0,344.0 L570.0,344.1 L572.0,344.3 L574.0,344.4 L576.0,344.5 L578.0,344.6 L580.0,344.7 L582.0,344.7 L584.0,344.8 L586.0,344.9 L588.0,345.0 L590.0,345.1 L592.0,345.2 L594.0,345.3 L596.0,345.4 L598.0,345.4 L600.0,345.4 L602.0,345.4 L604.0,345.4 L606.0,345.4 L608.0,345.4 L610.0,345.4 L612.0,345.4 L614.0,345.4 L616.0,345.4 L618.0,345.4 L620.0,345.4 L622.0,345.3 L624.0,345.3 L626.0,345.3 L628.0,345.2 L630.0,345.2 L632.0,345.2 L634.0,345.1 L636.0,345.0 L638.0,345.0 L640.0,344.9 L642.0,344.8 L644.0,344.7 L646.0,344.7 L648.0,344.6 L650.0,344.6 L652.0,344.7 L654.0,344.7 L656.0,344.7 L658.0,344.8 L660.0,344.8 L662.0,344.8 L664.0,344.7 L666.0,344.5 L668.0,344.8 L670.0,345.4 L672.0,345.9 L674.0,346.4 L676.0,345.6 L678.0,344.8 L680.0,344.0 L682.0,343.6 L684.0,343.6 L686.0,343.5 L688.0,343.4 L690.0,343.4 L692.0,343.3 L694.0,343.2 L696.0,343.2 L698.0,343.2 L700.0,343.5 L702.0,343.7 L704.0,344.0 L706.0,343.6 L708.0,343.2 L710.0,343.2 L712.0,343.2 L714.0,343.2 L716.0,343.3 L718.0,343.3 L720.0,343.4 L722.0,343.6 L724.0,343.8 L726.0,343.9 L728.0,344.1 L730.0,343.8 L732.0,343.5 L734.0,343.2 L736.0,343.1 L738.0,343.4 L740.0,343.7 L742.0,344.0 L744.0,344.3 L746.0,344.5 L748.0,344.5 L750.0,344.5 L752.0,344.6 L754.0,344.8 L756.0,344.2 L758.0,343.7 L760.0,343.6 L762.0,343.6 L764.0,343.6 L766.0,343.6 L768.0,343.6" fill="none" stroke="#000" stroke-width="1" stroke-linejoin="round"/>
<path d="M136.0,352.8 L138.0,353.0 L140.0,353.2 L142.0,353.4 L144.0,353.5 L146.0,353.7 L148.0,353.9 L150.0,354.1 L152.0,354.3 L154.0,354.5 L156.0,354.5 L158.0,354.5 L160.0,354.5 L162.0,354.5 L164.0,354.5 L166.0,354.5 L168.0,354.5 L170.0,354.5 L172.0,354.5 L174.0,354.4 L176.0,354.3 L178.0,354.2 L180.0,354.1 L182.0,354.0 L184.0,353.9 L186.0,353.7 L188.0,353.6 L190.0,353.5 L192.0,353.3 L194.0,353.2 L196.0,353.1 L198.0,353.0 L200.0,352.9 L202.0,352.8 L204.0,352.7 L206.0,352.5 L208.0,352.4 L210.0,352.3 L212.0,352.2 L214.0,352.1 L216.0,352.2 L218.0,352.3 L220.0,352.3 L222.0,352.4 L224.0,352.4 L226.0,352.4 L228.0,352.3 L230.0,352.2 L232.0,352.1 L234.0,352.1 L236.0,352.1 L238.0,352.1 L240.0,352.1 L242.0,352.1 L244.0,352.1 L246.0,352.1 L248.0,352.2 L250.0,352.2 L252.0,352.2 L254.0,352.2 L256.0,352.2 L258.0,352.2 L260.0,352.2 L262.0,352.3 L264.0,352.4 L266.0,352.5 L268.0,352.6 L270.0,352.8 L272.0,352.9 L274.0,353.1 L276.0,353.3 L278.0,353.5 L280.0,353.7 L282.0,353.9 L284.0,354.0 L286.0,354.1 L288.0,354.2 L290.0,354.3 L292.0,354.4 L294.0,354.5 L296.0,354.6 L298.0,354.7 L300.0,354.9 L302.0,355.0 L304.0,355.1 L306.0,355.3 L308.0,355.4 L310.0,355.6 L312.0,355.7 L314.0,355.8 L316.0,355.8 L318.0,355.8 L320.0,355.7 L322.0,355.7 L324.0,355.7 L326.0,355.7 L328.0,355.6 L330.0,355.6 L332.0,355.5 L334.0,355.4 L336.0,355.3 M380.0,352.7 L382.0,352.7 L384.0,352.6 L386.0,352.6 L388.0,352.6 L390.0,352.6 L392.0,352.6 L394.0,352.6 L396.0,352.6 L398.0,352.6 L400.0,352.6 L402.0,352.6 L404.0,352.9 L406.0,353.1 L408.0,353.3 L410.0,353.6 L412.0,353.8 L414.0,354.0 L416.0,354.2 L418.0,354.5 L420.0,354.7 L422.0,354.7 L424.0,354.8 L426.0,354.8 L428.0,354.8 L430.0,354.8 L432.0,354.9 L434.0,354.9 L436.0,354.9 L438.0,355.0 L440.0,354.8 L442.0,354.7 L444.0,354.5 L446.0,354.4 L448.0,354.3 L450.0,354.1 L452.0,354.0 L454.0,353.8 L456.0,353.7 L458.0,353.6 L460.0,353.5 L462.0,353.4 L464.0,353.3 L466.0,353.2 L468.0,353.2 L470.0,353.2 L472.0,353.2 L474.0,353.2 L476.0,353.2 L478.0,353.2 L480.0,353.2 L482.0,353.2 L484.0,353.2 L486.0,353.2 L488.0,353.2 L490.0,353.1 L492.0,353.0 L494.0,353.0 L496.0,352.9 L498.0,352.8 L500.0,352.8 L502.0,352.7 L504.0,352.6 L506.0,352.5 L508.0,352.5 L510.0,352.4 L512.0,352.3 L514.0,352.2 L516.0,352.1 L518.0,352.0 L520.0,351.9 L522.0,351.9 L524.0,351.8 L526.0,351.7 L528.0,351.6 L530.0,351.5 L532.0,351.4 L534.0,351.4 L536.0,351.4 L538.0,351.4 L540.0,351.3 L542.0,351.3 L544.0,351.3 L546.0,351.3 L548.0,351.4 L550.0,351.4 L552.0,351.5 L554.0,351.5 L556.0,351.6 L558.0,351.7 L560.0,351.9 L562.0,352.1 L564.0,352.2 L566.0,352.4 L568.0,352.6 L570.0,352.8 L572.0,353.0 L574.0,353.1 L576.0,353.1 L578.0,353.2 L580.0,353.3 L582.0,353.4 L584.0,353.5 L586.0,353.6 L588.0,353.6 L590.0,353.7 L592.0,353.8 L594.0,353.9 L596.0,353.9 L598.0,354.0 L600.0,354.0 L602.0,354.0 L604.0,354.0 L606.0,354.0 L608.0,354.0 L610.0,354.0 L612.0,354.0 L614.0,354.0 L616.0,354.0 L618.0,354.0 L620.0,354.0 L622.0,354.0 L624.0,354.0 L626.0,354.0 L628.0,354.1 L630.0,354.1 L632.0,354.1 L634.0,354.1 L636.0,354.0 L638.0,353.9 L640.0,353.9 L642.0,353.8 L644.0,353.7 L646.0,353.6 L648.0,353.6 L650.0,353.6 L652.0,353.6 L654.0,353.6 L656.0,353.6 L658.0,353.7 L660.0,353.7 L662.0,353.6 L664.0,353.3 L666.0,353.2 L668.0,353.8 L670.0,354.3 L672.0,354.9 L674.0,354.5 L676.0,353.7 L678.0,352.8 L680.0,352.2 L682.0,352.1 L684.0,352.1 L686.0,352.0 L688.0,352.0 L690.0,351.8 L692.0,351.6 L694.0,351.4 L696.0,351.5 L698.0,351.6 L700.0,351.8 L702.0,352.1 L704.0,352.4 L706.0,352.2 L708.0,351.8 L710.0,351.8 L712.0,351.8 L714.0,351.8 L716.0,351.8 L718.0,351.7 L720.0,351.8 L722.0,352.0 L724.0,352.2 L726.0,352.4 L728.0,352.6 L730.0,352.3 L732.0,352.0 L734.0,351.7 L736.0,351.6 L738.0,351.9 L740.0,352.1 L742.0,352.4 L744.0,352.7 L746.0,352.8 L748.0,352.8 L750.0,352.7 L752.0,352.9 L754.0,353.2 L756.0,352.8 L758.0,352.3 L760.0,352.3 L762.0,352.3 L764.0,352.3 L766.0,352.3 L768.0,352.3" fill="none" stroke="#000" stroke-width="2" stroke-linejoin="round"/>
<path d="M136.0,362.7 L138.0,362.9 L140.0,363.1 L142.0,363.2 L144.0,363.4 L146.0,363.6 L148.0,363.8 L150.0,363.9 L152.0,364.1 L154.0,364.3 L156.0,364.3 L158.0,364.4 L160.0,364.4 L162.0,364.5 L164.0,364.5 L166.0,364.6 L168.0,364.6 L170.0,364.6 L172.0,364.6 L174.0,364.5 L176.0,364.4 L178.0,364.4 L180.0,364.3 L182.0,364.1 L184.0,364.0 L186.0,363.9 L188.0,363.8 L190.0,363.6 L192.0,363.5 L194.0,363.4 L196.0,363.3 L198.0,363.2 L200.0,363.1 L202.0,363.0 L204.0,362.9 L206.0,362.8 L208.0,362.7 L210.0,362.6 L212.0,362.5 L214.0,362.4 L216.0,362.5 L218.0,362.5 L220.0,362.5 L222.0,362.4 L224.0,362.4 L226.0,362.3 L228.0,362.2 L230.0,362.1 L232.0,361.9 L234.0,361.9 L236.0,361.9 L238.0,361.9 L240.0,361.9 L242.0,361.9 L244.0,361.9 L246.0,361.9 L248.0,361.9 L250.0,361.9 L252.0,361.9 L254.0,361.9 L256.0,361.9 L258.0,361.9 L260.0,361.9 L262.0,362.0 L264.0,362.1 L266.0,362.2 L268.0,362.3 L270.0,362.4 L272.0,362.6 L274.0,362.8 L276.0,363.0 L278.0,363.2 L280.0,363.4 L282.0,363.6 L284.0,363.8 L286.0,363.9 L288.0,364.0 L290.0,364.2 L292.0,364.3 L294.0,364.4 L296.0,364.5 L298.0,364.6 L300.0,364.8 L302.0,364.9 L304.0,365.0 L306.0,365.1 L308.0,365.3 L310.0,365.4 L312.0,365.5 L314.0,365.6 L316.0,365.6 L318.0,365.6 L320.0,365.5 L322.0,365.5 L324.0,365.5 L326.0,365.4 L328.0,365.4 L330.0,365.4 L332.0,365.3 L334.0,365.2 L336.0,365.1 L338.0,365.0 L340.0,364.9 L342.0,364.7 L344.0,364.6 L346.0,364.5 L348.0,364.4 L350.0,364.3 L352.0,364.2 L354.0,364.0 L356.0,363.9 L358.0,363.8 L360.0,363.7 L362.0,363.6 L364.0,363.5 L366.0,363.4 L368.0,363.2 L370.0,363.1 L372.0,363.0 L374.0,362.9 L376.0,362.8 L378.0,362.7 L380.0,362.6 L382.0,362.5 L384.0,362.5 L386.0,362.5 L388.0,362.6 L390.0,362.6 L392.0,362.6 L394.0,362.6 L396.0,362.6 L398.0,362.7 L400.0,362.7 L402.0,362.7 L404.0,362.9 L406.0,363.1 L408.0,363.3 L410.0,363.6 L412.0,363.8 L414.0,364.0 L416.0,364.2 L418.0,364.4 L420.0,364.6 L422.0,364.7 L424.0,364.7 L426.0,364.7 L428.0,364.7 L430.0,364.8 L432.0,364.8 L434.0,364.8 L436.0,364.8 L438.0,364.8 L440.0,364.7 L442.0,364.6 L444.0,364.4 L446.0,364.3 L448.0,364.2 L450.0,364.0 L452.0,363.9 L454.0,363.7 L456.0,363.6 L458.0,363.4 L460.0,363.3 L462.0,363.1 L464.0,363.0 L466.0,362.9 L468.0,362.9 L470.0,362.9 L472.0,362.9 L474.0,363.0 L476.0,363.0 L478.0,363.0 L480.0,363.0 L482.0,363.0 L484.0,363.0 L486.0,363.0 L488.0,363.0 L490.0,362.9 L492.0,362.8 L494.0,362.7 L496.0,362.7 L498.0,362.6 L500.0,362.5 L502.0,362.5 L504.0,362.4 L506.0,362.3 L508.0,362.2 L510.0,362.1 L512.0,362.1 L514.0,362.0 L516.0,361.9 L518.0,361.8 L520.0,361.7 L522.0,361.7 L524.0,361.6 L526.0,361.5 L528.0,361.4 L530.0,361.3 L532.0,361.3 L534.0,361.2 L536.0,361.2 L538.0,361.2 L540.0,361.1 L542.0,361.1 L544.0,361.1 L546.0,361.1 L548.0,361.2 L550.0,361.2 L552.0,361.3 L554.0,361.4 L556.0,361.5 L558.0,361.7 L560.0,361.9 L562.0,362.1 L564.0,362.3 L566.0,362.6 L568.0,362.8 L570.0,363.0 L572.0,363.2 L574.0,363.3 L576.0,363.3 L578.0,363.4 L580.0,363.5 L582.0,363.5 L584.0,363.6 L586.0,363.7 L588.0,363.7 L590.0,363.8 L592.0,363.9 L594.0,363.9 L596.0,364.0 L598.0,364.0 L600.0,364.0 L602.0,364.0 L604.0,364.0 L606.0,364.0 L608.0,364.0 L610.0,364.0 L612.0,364.0 L614.0,364.0 L616.0,364.0 L618.0,364.1 L620.0,364.2 L622.0,364.2 L624.0,364.3 L626.0,364.3 L628.0,364.4 L630.0,364.4 L632.0,364.5 L634.0,364.5 L636.0,364.5 L638.0,364.4 L640.0,364.3 L642.0,364.3 L644.0,364.2 L646.0,364.1 L648.0,364.0 L650.0,364.1 L652.0,364.1 L654.0,364.1 L656.0,364.1 L658.0,364.1 L660.0,364.1 L662.0,363.9 L664.0,363.5 L666.0,363.7 L668.0,364.3 L670.0,364.8 L672.0,364.9 L674.0,364.1 L676.0,363.3 L678.0,362.4 L680.0,362.2 L682.0,362.2 L684.0,362.1 L686.0,362.1 L688.0,362.0 L690.0,361.8 L692.0,361.5 L694.0,361.2 L696.0,361.3 L698.0,361.4 L700.0,361.7 L702.0,362.0 L704.0,362.3 L706.0,362.3 L708.0,362.0 L710.0,361.9 L712.0,361.9 L714.0,361.8 L716.0,361.7 L718.0,361.7 L720.0,361.8 L722.0,362.0 L724.0,362.2 L726.0,362.4 L728.0,362.6 L730.0,362.2 L732.0,361.9 L734.0,361.6 L736.0,361.6 L738.0,361.8 L740.0,362.1 L742.0,362.3 L744.0,362.5 L746.0,362.6 L748.0,362.5 L750.0,362.4 L752.0,362.7 L754.0,363.2 L756.0,362.9 L758.0,362.5 L760.0,362.5 L762.0,362.5 L764.0,362.5 L766.0,362.5 L768.0,362.5" fill="none" stroke="#000" stroke-width="1" stroke-linejoin="round"/>
<path d="M136.0,371.8 L138.0,372.0 L140.0,372.1 L142.0,372.3 L144.0,372.5 L146.0,372.7 L148.0,372.8 L150.0,373.0 L152.0,373.2 L154.0,373.3 L156.0,373.4 L158.0,373.5 L160.0,373.6 L162.0,373.6 L164.0,373.7 L166.0,373.8 L168.0,373.9 L170.0,374.0 L172.0,374.0 L174.0,373.9 L176.0,373.8 L178.0,373.7 L180.0,373.6 L182.0,373.5 L184.0,373.4 L186.0,373.2 L188.0,373.1 L190.0,373.0 L192.0,372.9 L194.0,372.8 L196.0,372.7 L198.0,372.6 L200.0,372.5 L202.0,372.5 L204.0,372.4 L206.0,372.3 L208.0,372.2 L210.0,372.1 L212.0,372.0 L214.0,371.9 L216.0,372.0 L218.0,371.9 L220.0,371.8 L222.0,371.7 L224.0,371.6 L226.0,371.4 L228.0,371.3 L230.0,371.1 L232.0,370.9 L234.0,370.9 L236.0,370.9 L238.0,370.9 L240.0,370.9 L242.0,370.9 L244.0,370.9 L246.0,370.9 L248.0,370.9 L250.0,370.9 L252.0,370.9 L254.0,370.9 L256.0,370.9 L258.0,370.9 L260.0,370.9 L262.0,371.0 L264.0,371.0 L266.0,371.1 L268.0,371.1 L270.0,371.2 L272.0,371.5 L274.0,371.7 L276.0,371.9 L278.0,372.1 L280.0,372.3 L282.0,372.5 L284.0,372.7 L286.0,372.9 L288.0,373.1 L290.0,373.2 L292.0,373.3 L294.0,373.5 L296.0,373.6 L298.0,373.7 L300.0,373.8 L302.0,374.0 L304.0,374.1 L306.0,374.2 L308.0,374.3 L310.0,374.4 L312.0,374.5 L314.0,374.7 L316.0,374.6 L318.0,374.6 L320.0,374.5 L322.0,374.5 L324.0,374.4 L326.0,374.4 L328.0,374.4 L330.0,374.3 L332.0,374.3 L334.0,374.2 L336.0,374.1 M380.0,371.6 L382.0,371.5 L384.0,371.6 L386.0,371.6 L388.0,371.7 L390.0,371.7 L392.0,371.7 L394.0,371.8 L396.0,371.8 L398.0,371.9 L400.0,371.9 L402.0,372.0 L404.0,372.2 L406.0,372.4 L408.0,372.6 L410.0,372.8 L412.0,373.0 L414.0,373.2 L416.0,373.4 L418.0,373.6 L420.0,373.8 L422.0,373.8 L424.0,373.8 L426.0,373.8 L428.0,373.9 L430.0,373.9 L432.0,373.9 L434.0,373.9 L436.0,373.9 L438.0,373.9 L440.0,373.8 L442.0,373.7 L444.0,373.5 L446.0,373.4 L448.0,373.2 L450.0,373.1 L452.0,373.0 L454.0,372.8 L456.0,372.7 L458.0,372.5 L460.0,372.3 L462.0,372.1 L464.0,371.9 L466.0,371.8 L468.0,371.8 L470.0,371.9 L472.0,371.9 L474.0,371.9 L476.0,371.9 L478.0,371.9 L480.0,371.9 L482.0,372.0 L484.0,372.0 L486.0,372.0 L488.0,371.9 L490.0,371.9 L492.0,371.8 L494.0,371.7 L496.0,371.7 L498.0,371.6 L500.0,371.5 L502.0,371.4 L504.0,371.4 L506.0,371.3 L508.0,371.2 L510.0,371.1 L512.0,371.0 L514.0,371.0 L516.0,370.9 L518.0,370.8 L520.0,370.7 L522.0,370.7 L524.0,370.6 L526.0,370.5 L528.0,370.4 L530.0,370.4 L532.0,370.3 L534.0,370.2 L536.0,370.2 L538.0,370.1 L540.0,370.1 L542.0,370.0 L544.0,370.0 L546.0,370.1 L548.0,370.2 L550.0,370.3 L552.0,370.3 L554.0,370.4 L556.0,370.6 L558.0,370.8 L560.0,371.1 L562.0,371.3 L564.0,371.6 L566.0,371.9 L568.0,372.2 L570.0,372.4 L572.0,372.6 L574.0,372.7 L576.0,372.7 L578.0,372.8 L580.0,372.8 L582.0,372.9 L584.0,373.0 L586.0,373.0 L588.0,373.1 L590.0,373.1 L592.0,373.2 L594.0,373.2 L596.0,373.3 L598.0,373.3 L600.0,373.3 L602.0,373.3 L604.0,373.3 L606.0,373.3 L608.0,373.3 L610.0,373.3 L612.0,373.3 L614.0,373.3 L616.0,373.3 L618.0,373.4 L620.0,373.5 L622.0,373.6 L624.0,373.7 L626.0,373.8 L628.0,373.9 L630.0,374.0 L632.0,374.1 L634.0,374.2 L636.0,374.1 L638.0,374.1 L640.0,374.0 L642.0,373.9 L644.0,373.9 L646.0,373.8 L648.0,373.7 L650.0,373.7 L652.0,373.7 L654.0,373.7 L656.0,373.7 L658.0,373.7 L660.0,373.7 L662.0,373.5 L664.0,373.2 L666.0,373.4 L668.0,373.9 L670.0,374.5 L672.0,373.7 L674.0,372.9 L676.0,372.0 L678.0,371.5 L680.0,371.4 L682.0,371.4 L684.0,371.3 L686.0,371.3 L688.0,371.3 L690.0,370.9 L692.0,370.5 L694.0,370.2 L696.0,370.3 L698.0,370.5 L700.0,370.8 L702.0,371.1 L704.0,371.4 L706.0,371.5 L708.0,371.3 L710.0,371.2 L712.0,371.1 L714.0,371.0 L716.0,370.9 L718.0,370.8 L720.0,371.0 L722.0,371.2 L724.0,371.4 L726.0,371.6 L728.0,371.8 L730.0,371.4 L732.0,371.1 L734.0,370.8 L736.0,370.8 L738.0,371.0 L740.0,371.2 L742.0,371.4 L744.0,371.6 L746.0,371.6 L748.0,371.5 L750.0,371.3 L752.0,371.8 L754.0,372.3 L756.0,372.2 L758.0,371.9 L760.0,371.9 L762.0,371.9 L764.0,371.9 L766.0,371.9 L768.0,371.9" fill="none" stroke="#000" stroke-width="2" stroke-linejoin="round"/>
<path d="M136.0,382.0 L138.0,382.2 L140.0,382.3 L142.0,382.5 L144.0,382.7 L146.0,382.8 L148.0,383.0 L150.0,383.1 L152.0,383.3 L154.0,383.5 L156.0,383.6 L158.0,383.7 L160.0,383.8 L162.0,383.9 L164.0,384.0 L166.0,384.2 L168.0,384.3 L170.0,384.4 L172.0,384.4 L174.0,384.3 L176.0,384.2 L178.0,384.1 L180.0,384.0 L182.0,383.9 L184.0,383.8 L186.0,383.7 L188.0,383.6 L190.0,383.5 L192.0,383.4 L194.0,383.3 L196.0,383.2 L198.0,383.2 L200.0,383.1 L202.0,383.0 L204.0,382.9 L206.0,382.9 L208.0,382.8 L210.0,382.7 L212.0,382.6 L214.0,382.6 L216.0,382.5 L218.0,382.4 L220.0,382.2 L222.0,382.0 L224.0,381.8 L226.0,381.6 L228.0,381.4 L230.0,381.2 L232.0,381.0 L234.0,380.9 L236.0,380.9 L238.0,380.9 L240.0,380.9 L242.0,380.9 L244.0,380.9 L246.0,380.9 L248.0,380.9 L250.0,380.9 L252.0,380.9 L254.0,380.9 L256.0,380.9 L258.0,380.9 L260.0,380.9 L262.0,381.0 L264.0,381.0 L266.0,381.0 L268.0,381.1 L270.0,381.2 L272.0,381.4 L274.0,381.6 L276.0,381.9 L278.0,382.1 L280.0,382.3 L282.0,382.6 L284.0,382.8 L286.0,383.0 L288.0,383.2 L290.0,383.3 L292.0,383.5 L294.0,383.6 L296.0,383.8 L298.0,383.9 L300.0,384.0 L302.0,384.1 L304.0,384.2 L306.0,384.3 L308.0,384.5 L310.0,384.6 L312.0,384.7 L314.0,384.8 L316.0,384.7 L318.0,384.7 L320.0,384.6 L322.0,384.6 L324.0,384.5 L326.0,384.5 L328.0,384.4 L330.0,384.4 L332.0,384.3 L334.0,384.2 L336.0,384.1 L338.0,384.0 L340.0,383.9 L342.0,383.8 L344.0,383.7 L346.0,383.5 L348.0,383.4 L350.0,383.3 L352.0,383.2 L354.0,383.1 L356.0,383.0 L358.0,382.8 L360.0,382.7 L362.0,382.6 L364.0,382.5 L366.0,382.4 L368.0,382.3 L370.0,382.2 L372.0,382.1 L374.0,382.0 L376.0,382.0 L378.0,381.9 L380.0,381.8 L382.0,381.7 L384.0,381.7 L386.0,381.8 L388.0,381.9 L390.0,381.9 L392.0,382.0 L394.0,382.1 L396.0,382.1 L398.0,382.2 L400.0,382.3 L402.0,382.3 L404.0,382.5 L406.0,382.7 L408.0,382.9 L410.0,383.1 L412.0,383.3 L414.0,383.5 L416.0,383.7 L418.0,383.9 L420.0,384.0 L422.0,384.1 L424.0,384.1 L426.0,384.1 L428.0,384.1 L430.0,384.1 L432.0,384.1 L434.0,384.1 L436.0,384.1 L438.0,384.1 L440.0,384.0 L442.0,383.8 L444.0,383.7 L446.0,383.6 L448.0,383.4 L450.0,383.3 L452.0,383.2 L454.0,383.0 L456.0,382.9 L458.0,382.7 L460.0,382.4 L462.0,382.2 L464.0,381.9 L466.0,381.8 L468.0,381.8 L470.0,381.9 L472.0,381.9 L474.0,381.9 L476.0,382.0 L478.0,382.0 L480.0,382.0 L482.0,382.0 L484.0,382.1 L486.0,382.1 L488.0,382.0 L490.0,382.0 L492.0,381.9 L494.0,381.8 L496.0,381.7 L498.0,381.7 L500.0,381.6 L502.0,381.5 L504.0,381.4 L506.0,381.3 L508.0,381.3 L510.0,381.2 L512.0,381.1 L514.0,381.0 L516.0,381.0 L518.0,380.9 L520.0,380.8 L522.0,380.8 L524.0,380.7 L526.0,380.6 L528.0,380.5 L530.0,380.5 L532.0,380.4 L534.0,380.3 L536.0,380.3 L538.0,380.2 L540.0,380.2 L542.0,380.1 L544.0,380.1 L546.0,380.2 L548.0,380.3 L550.0,380.4 L552.0,380.5 L554.0,380.6 L556.0,380.8 L558.0,381.1 L560.0,381.4 L562.0,381.7 L564.0,382.0 L566.0,382.3 L568.0,382.6 L570.0,382.9 L572.0,383.1 L574.0,383.2 L576.0,383.2 L578.0,383.2 L580.0,383.3 L582.0,383.3 L584.0,383.4 L586.0,383.4 L588.0,383.5 L590.0,383.5 L592.0,383.6 L594.0,383.6 L596.0,383.6 L598.0,383.6 L600.0,383.6 L602.0,383.6 L604.0,383.6 L606.0,383.6 L608.0,383.6 L610.0,383.6 L612.0,383.6 L614.0,383.6 L616.0,383.6 L618.0,383.8 L620.0,383.9 L622.0,384.1 L624.0,384.2 L626.0,384.4 L628.0,384.5 L630.0,384.7 L632.0,384.8 L634.0,384.9 L636.0,384.9 L638.0,384.8 L640.0,384.8 L642.0,384.7 L644.0,384.6 L646.0,384.6 L648.0,384.5 L650.0,384.5 L652.0,384.5 L654.0,384.4 L656.0,384.4 L658.0,384.4 L660.0,384.3 L662.0,384.1 L664.0,383.8 L666.0,383.8 L668.0,384.0 L670.0,383.9 L672.0,383.2 L674.0,382.6 L676.0,381.9 L678.0,381.8 L680.0,381.7 L682.0,381.7 L684.0,381.7 L686.0,381.7 L688.0,381.6 L690.0,381.2 L692.0,380.7 L694.0,380.3 L696.0,380.4 L698.0,380.6 L700.0,380.9 L702.0,381.3 L704.0,381.7 L706.0,381.9 L708.0,381.8 L710.0,381.7 L712.0,381.5 L714.0,381.4 L716.0,381.2 L718.0,381.1 L720.0,381.2 L722.0,381.5 L724.0,381.7 L726.0,381.9 L728.0,382.1 L730.0,381.7 L732.0,381.4 L734.0,381.1 L736.0,381.1 L738.0,381.3 L740.0,381.5 L742.0,381.7 L744.0,381.8 L746.0,381.7 L748.0,381.5 L750.0,381.3 L752.0,381.9 L754.0,382.6 L756.0,382.5 L758.0,382.4 L760.0,382.4 L762.0,382.4 L764.0,382.4 L766.0,382.4 L768.0,382.4" fill="none" stroke="#000" stroke-width="1" stroke-linejoin="round"/>
<path d="M136.0,390.8 L138.0,391.0 L140.0,391.1 L142.0,391.3 L144.0,391.4 L146.0,391.6 L148.0,391.7 L150.0,391.9 L152.0,392.0 L154.0,392.2 L156.0,392.4 L158.0,392.5 L160.0,392.7 L162.0,392.8 L164.0,393.0 L166.0,393.1 L168.0,393.3 L170.0,393.4 L172.0,393.4 L174.0,393.4 L176.0,393.2 L178.0,393.2 L180.0,393.1 L182.0,392.9 L184.0,392.9 L186.0,392.8 L188.0,392.7 L190.0,392.6 L192.0,392.5 L194.0,392.4 L196.0,392.4 L198.0,392.3 L200.0,392.2 L202.0,392.2 L204.0,392.1 L206.0,392.0 L208.0,392.0 L210.0,391.9 L212.0,391.8 L214.0,391.8 L216.0,391.7 L218.0,391.5 L220.0,391.2 L222.0,391.0 L224.0,390.7 L226.0,390.5 L228.0,390.2 L230.0,390.0 L232.0,389.7 L234.0,389.6 L236.0,389.6 L238.0,389.6 L240.0,389.6 L242.0,389.6 L244.0,389.6 L246.0,389.6 L248.0,389.6 L250.0,389.6 L252.0,389.6 L254.0,389.6 L256.0,389.6 L258.0,389.6 L260.0,389.6 L262.0,389.6 L264.0,389.6 L266.0,389.6 L268.0,389.6 L270.0,389.7 L272.0,390.0 L274.0,390.2 L276.0,390.5 L278.0,390.7 L280.0,391.0 L282.0,391.2 L284.0,391.5 L286.0,391.7 L288.0,391.9 L290.0,392.1 L292.0,392.2 L294.0,392.4 L296.0,392.6 L298.0,392.7 L300.0,392.8 L302.0,392.9 L304.0,393.0 L306.0,393.1 L308.0,393.2 L310.0,393.3 L312.0,393.4 L314.0,393.5 L316.0,393.4 L318.0,393.4 L320.0,393.3 L322.0,393.3 L324.0,393.2 L326.0,393.1 L328.0,393.1 L330.0,393.0 L332.0,393.0 L334.0,392.9 L336.0,392.8 M380.0,390.5 L382.0,390.4 L384.0,390.5 L386.0,390.6 L388.0,390.7 L390.0,390.8 L392.0,390.9 L394.0,390.9 L396.0,391.0 L398.0,391.1 L400.0,391.2 L402.0,391.3 L404.0,391.5 L406.0,391.7 L408.0,391.8 L410.0,392.0 L412.0,392.2 L414.0,392.4 L416.0,392.5 L418.0,392.7 L420.0,392.9 L422.0,392.9 L424.0,392.9 L426.0,392.9 L428.0,392.9 L430.0,392.9 L432.0,392.9 L434.0,392.9 L436.0,392.9 L438.0,392.9 L440.0,392.8 L442.0,392.6 L444.0,392.5 L446.0,392.4 L448.0,392.2 L450.0,392.1 L452.0,392.0 L454.0,391.8 L456.0,391.7 L458.0,391.4 L460.0,391.1 L462.0,390.8 L464.0,390.5 L466.0,390.4 L468.0,390.5 L470.0,390.5 L472.0,390.5 L474.0,390.6 L476.0,390.6 L478.0,390.6 L480.0,390.7 L482.0,390.7 L484.0,390.8 L486.0,390.8 L488.0,390.7 L490.0,390.6 L492.0,390.6 L494.0,390.5 L496.0,390.4 L498.0,390.3 L500.0,390.3 L502.0,390.2 L504.0,390.1 L506.0,390.0 L508.0,389.9 L510.0,389.9 L512.0,389.8 L514.0,389.7 L516.0,389.7 L518.0,389.6 L520.0,389.5 L522.0,389.5 L524.0,389.4 L526.0,389.3 L528.0,389.2 L530.0,389.2 L532.0,389.1 L534.0,389.0 L536.0,389.0 L538.0,388.9 L540.0,388.8 L542.0,388.8 L544.0,388.7 L546.0,388.8 L548.0,389.0 L550.0,389.1 L552.0,389.2 L554.0,389.3 L556.0,389.6 L558.0,389.9 L560.0,390.3 L562.0,390.6 L564.0,391.0 L566.0,391.3 L568.0,391.7 L570.0,392.0 L572.0,392.2 L574.0,392.3 L576.0,392.3 L578.0,392.3 L580.0,392.4 L582.0,392.4 L584.0,392.4 L586.0,392.5 L588.0,392.5 L590.0,392.5 L592.0,392.6 L594.0,392.6 L596.0,392.6 L598.0,392.6 L600.0,392.6 L602.0,392.6 L604.0,392.6 L606.0,392.6 L608.0,392.6 L610.0,392.6 L612.0,392.6 L614.0,392.6 L616.0,392.6 L618.0,392.8 L620.0,393.0 L622.0,393.2 L624.0,393.4 L626.0,393.5 L628.0,393.7 L630.0,393.9 L632.0,394.1 L634.0,394.3 L636.0,394.2 L638.0,394.2 L640.0,394.1 L642.0,394.1 L644.0,394.0 L646.0,394.0 L648.0,393.9 L650.0,393.9 L652.0,393.8 L654.0,393.8 L656.0,393.7 L658.0,393.7 L660.0,393.6 L662.0,393.3 L664.0,392.5 L666.0,391.8 L668.0,391.6 L670.0,391.4 L672.0,391.2 L674.0,391.0 L676.0,390.8 L678.0,390.6 L680.0,390.6 L682.0,390.6 L684.0,390.6 L686.0,390.6 L688.0,390.5 L690.0,390.0 L692.0,389.5 L694.0,388.9 L696.0,389.1 L698.0,389.4 L700.0,389.7 L702.0,390.1 L704.0,390.5 L706.0,390.9 L708.0,390.9 L710.0,390.7 L712.0,390.5 L714.0,390.3 L716.0,390.1 L718.0,389.9 L720.0,390.1 L722.0,390.3 L724.0,390.6 L726.0,390.8 L728.0,390.9 L730.0,390.6 L732.0,390.3 L734.0,389.9 L736.0,390.0 L738.0,390.2 L740.0,390.3 L742.0,390.5 L744.0,390.6 L746.0,390.3 L748.0,390.1 L750.0,389.9 L752.0,390.6 L754.0,391.4 L756.0,391.5 L758.0,391.5 L760.0,391.5 L762.0,391.5 L764.0,391.5 L766.0,391.5 L768.0,391.5" fill="none" stroke="#000" stroke-width="2" stroke-linejoin="round"/>
<path d="M136.0,402.3 L145.0,401.4 L168.0,404.1 L216.0,404.1 L233.0,400.5 L240.0,399.6 L260.0,400.5 L263.0,399.6 L278.0,401.4 L291.0,402.2 L298.8,405.0 L304.3,412.1 L313.2,417.7 L322.0,419.2 L329.8,417.7 L333.5,414.3 L332.0,408.8 L333.0,404.4 L344.2,402.2 L364.0,400.0 L386.2,400.6 L401.7,401.5 L412.7,401.5 L416.0,405.5 L418.3,418.8 L422.7,428.7 L432.7,435.4 L443.7,438.0 L452.6,436.9 L459.2,432.0 L462.5,422.1 L459.2,412.1 L456.5,405.9 L458.0,403.5 L463.6,402.2 L474.0,400.5 L509.0,400.5 L544.5,399.6 L560.0,400.6 L571.5,401.5 L574.2,403.3 L579.5,411.7 L585.2,414.1 L588.3,412.6 L588.3,408.1 L584.8,405.9 L585.2,402.8 L592.7,401.5 L598.0,401.5 L602.5,403.3 L607.8,407.3 L613.5,412.1 L618.4,412.1 L617.5,408.6 L615.3,407.3 L614.9,404.6 L622.0,404.2 L635.0,404.2 L637.0,405.2 L640.0,404.2 L648.0,404.5 L656.0,402.1 L674.6,400.8 L683.9,401.2 L694.5,399.2 L701.1,399.9 L705.1,401.6 L719.7,399.9 L733.0,401.6 L752.9,400.8 L762.2,401.9 L768.0,401.9" fill="none" stroke="#000" stroke-width="1" stroke-linejoin="round"/>
<path d="M136.0,152.0 L138.0,152.0 L140.0,152.0 L142.0,152.0 L144.0,152.0 L146.0,152.0 L148.0,152.0 L150.0,152.0 L152.0,152.0 L154.0,152.0 L156.0,152.0 L158.0,152.0 L160.0,152.0 L162.0,152.0 L164.0,152.0 L166.0,152.0 L168.0,152.0 L170.0,152.0 L172.0,152.0 L174.0,152.0 L176.0,152.0 L178.0,152.0 L180.0,152.0 L182.0,152.0 L184.0,152.0 L186.0,152.0 L188.0,152.0 L190.0,152.0 L192.0,152.0 L194.0,152.0 L196.0,152.0 L198.0,152.0 L200.0,152.0 L202.0,152.0 L204.0,152.0 L206.0,152.0 L208.0,152.0 L210.0,152.0 L212.0,152.0 L214.0,152.0 L216.0,152.0 L218.0,152.0 L220.0,152.0 L222.0,152.0 L224.0,152.0 L226.0,152.0 L228.0,152.0 L230.0,152.0 L232.0,152.0 L234.0,152.0 L236.0,152.0 L238.0,152.0 L240.0,152.0 L242.0,152.0 L244.0,152.0 L246.0,152.0 L248.0,152.0 L250.0,152.0 L252.0,152.0 L254.0,152.0 L256.0,152.0 L258.0,152.0 L260.0,152.0 L262.0,152.0 L264.0,152.0 L266.0,152.0 L268.0,152.0 L270.0,151.0 L272.0,151.0 L274.0,151.0 L276.0,151.0 L278.0,151.0 L280.0,151.0 L282.0,151.0 L284.0,151.0 L286.0,151.0 L288.0,151.0 L290.0,151.0 L292.0,151.0 L294.0,151.0 L296.0,151.0 L298.0,151.0 L300.0,151.0 L302.0,151.0 L304.0,151.0 L306.0,151.0 L308.0,151.0 L310.0,151.0 L312.0,151.0 L314.0,151.0 L316.0,151.0 L318.0,151.0 L320.0,151.0 L322.0,151.0 L324.0,151.0 L326.0,151.0 L328.0,151.0 L330.0,151.0 L332.0,151.0 L334.0,151.0 L336.0,151.0 M400.0,151.0 L402.0,151.0 L404.0,151.0 L406.0,151.0 L408.0,151.0 L410.0,151.0 L412.0,151.0 L414.0,151.0 L416.0,151.0 L418.0,151.0 L420.0,151.0 L422.0,151.0 L424.0,151.0 L426.0,151.0 L428.0,151.0 L430.0,151.0 L432.0,151.0 L434.0,151.0 L436.0,151.0 L438.0,151.0 L440.0,151.0 L442.0,151.0 L444.0,151.0 L446.0,151.0 L448.0,151.0 L450.0,151.0 L452.0,151.0 L454.0,151.0 L456.0,151.0 L458.0,151.0 L460.0,151.0 L462.0,151.0 L464.0,151.0 L466.0,151.0 L468.0,151.0 L470.0,151.0 L472.0,151.0 L474.0,151.0 L476.0,151.0 L478.0,151.0 L480.0,151.0 L482.0,151.0 L484.0,151.0 L486.0,151.0 L488.0,151.0 L490.0,151.0 L492.0,151.0 L494.0,151.0 L496.0,151.0 L498.0,151.0 L500.0,151.0 L502.0,151.0 L504.0,151.0 L506.0,151.0 L508.0,151.0 L510.0,151.0 L512.0,151.0 L514.0,151.0 L516.0,151.0 L518.0,151.0 L520.0,151.0 L522.0,151.0 L524.0,151.0 L526.0,151.0 L528.0,151.0 L530.0,151.0 L532.0,151.0 L534.0,151.0 L536.0,151.0 L538.0,151.0 L540.0,151.0 L542.0,151.0 L544.0,151.0 L546.0,151.0 L548.0,151.0 L550.0,151.0 L552.0,151.0 L554.0,151.0 L556.0,151.0 L558.0,151.0 L560.0,151.0 L562.0,151.0 L564.0,151.0 L566.0,151.0 L568.0,151.0 L570.0,151.0 L572.0,151.0 L574.0,151.0 L576.0,151.0 L578.0,151.0 L580.0,151.0 L582.0,151.0 L584.0,151.0 L586.0,151.0 L588.0,151.0 L590.0,151.0 L592.0,151.0 L594.0,151.0 L596.0,151.0 L598.0,151.0 L600.0,151.0 L602.0,151.0 L604.0,151.0 L606.0,151.0 L608.0,151.0 L610.0,151.0 L612.0,151.0 L614.0,151.0 L616.0,151.0 L618.0,151.0 L620.0,151.0 L622.0,151.0 L624.0,151.0 L626.0,151.0 L628.0,151.0 L630.0,151.0 L632.0,151.0 L634.0,151.0 L636.0,151.0 L638.0,151.0 L640.0,151.0 L642.0,151.0 L644.0,151.0 L646.0,151.0 L648.0,151.0 L650.0,151.0 L652.0,151.0 L654.0,151.0 L656.0,151.0 L658.0,151.0 L660.0,151.0 L662.0,151.0 L664.0,151.0 L666.0,151.0 L668.0,151.0 L670.0,151.0 L672.0,151.0 L674.0,151.0 L676.0,151.0 L678.0,151.0 L680.0,151.0 L682.0,151.0 L684.0,151.0 L686.0,151.0 L688.0,151.0 L690.0,151.0 L692.0,151.0 L694.0,151.0 L696.0,151.0 L698.0,151.0 L700.0,151.0 L702.0,151.0 L704.0,151.0 L706.0,151.0 L708.0,151.0 L710.0,151.0 L712.0,151.0 L714.0,151.0 L716.0,151.0 L718.0,151.0 L720.0,151.0 L722.0,151.0 L724.0,151.0 L726.0,151.0 L728.0,151.0 L730.0,151.0 L732.0,151.0 L734.0,151.0 L736.0,151.0 L738.0,151.0 L740.0,151.0 L742.0,151.0 L744.0,151.0 L746.0,151.0 L748.0,151.0 L750.0,151.0 L752.0,151.0 L754.0,151.0 L756.0,151.0 L758.0,151.0 L760.0,151.0 L762.0,151.0 L764.0,151.0 L766.0,151.0 L768.0,151.0" fill="none" stroke="#000" stroke-width="2" stroke-dasharray="6.6 4.4"/>
<path d="M136.0,177.4 L138.0,177.4 L140.0,177.4 L142.0,177.4 L144.0,177.4 L146.0,177.4 L148.0,177.4 L150.0,177.4 L152.0,177.4 L154.0,177.4 L156.0,177.4 L158.0,177.4 L160.0,177.4 L162.0,177.4 L164.0,177.4 L166.0,177.4 L168.0,177.4 L170.0,177.4 L172.0,177.4 L174.0,177.4 L176.0,178.5 L178.0,178.5 L180.0,178.5 L182.0,178.5 L184.0,178.5 L186.0,178.5 L188.0,178.5 L190.0,178.5 L192.0,178.5 L194.0,178.5 L196.0,178.5 L198.0,178.5 L200.0,178.5 L202.0,178.5 L204.0,178.5 L206.0,178.5 L208.0,178.5 L210.0,178.5 L212.0,178.5 L214.0,178.5 L216.0,178.5 L218.0,178.5 L220.0,178.5 L222.0,178.5 L224.0,178.5 L226.0,178.5 L228.0,178.5 L230.0,178.5 L232.0,178.5 L234.0,178.5 L236.0,178.5 L238.0,178.5 L240.0,178.5 L242.0,178.5 L244.0,178.5 L246.0,178.5 L248.0,178.5 L250.0,178.5 L252.0,178.5 L254.0,178.5 L256.0,178.5 L258.0,178.5 L260.0,178.5 L262.0,178.5 L264.0,178.5 L266.0,178.5 L268.0,178.5 L270.0,177.4 L272.0,177.4 L274.0,177.4 L276.0,177.4 L278.0,177.4 L280.0,177.4 L282.0,177.4 L284.0,177.4 L286.0,177.4 L288.0,177.4 L290.0,177.4 L292.0,177.4 L294.0,177.4 L296.0,177.4 L298.0,177.4 L300.0,177.4 L302.0,177.4 L304.0,177.4 L306.0,177.4 L308.0,177.4 L310.0,177.4 L312.0,177.4 L314.0,177.4 L316.0,177.4 L318.0,177.4 L320.0,177.4 L322.0,177.4 L324.0,177.4 L326.0,177.4 L328.0,177.4 L330.0,177.4 L332.0,177.4 L334.0,177.4 L336.0,177.4 L338.0,177.4 L340.0,177.4 L342.0,177.4 L344.0,177.4 L346.0,177.4 L348.0,177.4 L350.0,177.4 L352.0,177.4 L354.0,177.4 L356.0,177.4 L358.0,177.4 L360.0,177.4 L362.0,177.4 L364.0,177.4 L366.0,177.4 L368.0,177.4 L370.0,177.4 L372.0,177.4 L374.0,177.4 L376.0,177.4 L378.0,177.4 L380.0,177.4 L382.0,177.4 L384.0,177.4 L386.0,177.4 L388.0,177.4 L390.0,177.4 L392.0,177.4 L394.0,177.4 L396.0,177.4 L398.0,177.4 L400.0,177.4 L402.0,177.4 L404.0,177.4 L406.0,177.4 L408.0,177.4 L410.0,177.4 L412.0,177.4 L414.0,177.4 L416.0,177.4 L418.0,177.4 L420.0,177.4 L422.0,177.4 L424.0,177.4 L426.0,177.4 L428.0,177.4 L430.0,177.4 L432.0,177.4 L434.0,177.4 L436.0,177.4 L438.0,177.4 L440.0,177.4 L442.0,177.4 L444.0,177.4 L446.0,177.4 L448.0,177.4 L450.0,177.4 L452.0,177.4 L454.0,177.4 L456.0,177.4 L458.0,177.4 L460.0,177.4 L462.0,177.4 L464.0,177.4 L466.0,177.4 L468.0,177.4 L470.0,177.4 L472.0,177.4 L474.0,177.4 L476.0,177.4 L478.0,177.4 L480.0,177.4 L482.0,177.4 L484.0,177.4 L486.0,177.4 L488.0,177.4 L490.0,177.4 L492.0,177.4 L494.0,177.4 L496.0,177.4 L498.0,177.4 L500.0,177.4 L502.0,177.4 L504.0,177.4 L506.0,177.4 L508.0,177.4 L510.0,177.4 L512.0,177.4 L514.0,177.4 L516.0,177.4 L518.0,177.4 L520.0,177.4 L522.0,177.4 L524.0,177.4 L526.0,177.4 L528.0,177.4 L530.0,177.4 L532.0,177.4 L534.0,177.4 L536.0,177.4 L538.0,177.4 L540.0,177.4 L542.0,177.4 L544.0,177.4 L546.0,177.4 L548.0,177.4 L550.0,177.4 L552.0,177.4 L554.0,177.4 L556.0,177.4 L558.0,177.4 L560.0,177.4 L562.0,177.4 L564.0,177.4 L566.0,177.4 L568.0,177.4 L570.0,177.4 L572.0,177.4 L574.0,177.4 L576.0,177.4 L578.0,177.4 L580.0,177.4 L582.0,177.4 L584.0,177.4 L586.0,177.4 L588.0,177.4 L590.0,177.4 L592.0,177.4 L594.0,177.4 L596.0,177.4 L598.0,177.4 L600.0,177.4 L602.0,177.4 L604.0,177.4 L606.0,177.4 L608.0,177.4 L610.0,177.4 L612.0,177.4 L614.0,177.4 L616.0,177.4 L618.0,177.4 L620.0,177.4 L622.0,177.4 L624.0,177.4 L626.0,177.4 L628.0,177.4 L630.0,177.4 L632.0,177.4 L634.0,177.4 L636.0,177.4 L638.0,177.4 L640.0,177.4 L642.0,177.4 L644.0,177.4 L646.0,177.4 L648.0,177.4 L650.0,177.4 L652.0,177.4 L654.0,177.4 L656.0,177.4 L658.0,177.4 L660.0,177.4 L662.0,177.4 L664.0,177.4 L666.0,177.4 L668.0,177.4 L670.0,177.4 L672.0,177.4 L674.0,177.4 L676.0,177.4 L678.0,177.4 L680.0,177.4 L682.0,177.4 L684.0,177.4 L686.0,177.4 L688.0,177.4 L690.0,177.4 L692.0,177.4 L694.0,177.4 L696.0,177.4 L698.0,177.4 L700.0,177.4 L702.0,177.4 L704.0,177.4 L706.0,177.4 L708.0,177.4 L710.0,177.4 L712.0,177.4 L714.0,177.4 L716.0,177.4 L718.0,177.4 L720.0,177.4 L722.0,177.4 L724.0,177.4 L726.0,177.4 L728.0,177.4 L730.0,177.4 L732.0,177.4 L734.0,177.4 L736.0,177.4 L738.0,177.4 L740.0,177.4 L742.0,177.4 L744.0,177.4 L746.0,177.4 L748.0,177.4 L750.0,177.4 L752.0,177.4 L754.0,177.4 L756.0,177.4 L758.0,177.4 L760.0,177.4 L762.0,177.4 L764.0,177.4 L766.0,177.4 L768.0,177.4" fill="none" stroke="#000" stroke-width="1" stroke-dasharray="6.6 4.4"/>
<path d="M136.0,204.0 L138.0,204.0 L140.0,204.0 L142.0,204.0 L144.0,204.0 L146.0,204.0 L148.0,204.0 L150.0,204.0 L152.0,204.0 L154.0,204.0 L156.0,204.0 L158.0,204.0 L160.0,204.0 L162.0,204.0 L164.0,204.0 L166.0,204.0 L168.0,204.0 L170.0,204.0 L172.0,204.0 L174.0,204.0 L176.0,205.0 L178.0,205.0 L180.0,205.0 L182.0,205.0 L184.0,205.0 L186.0,205.0 L188.0,205.0 L190.0,205.0 L192.0,205.0 L194.0,205.0 L196.0,205.0 L198.0,205.0 L200.0,205.0 L202.0,205.0 L204.0,205.0 L206.0,205.0 L208.0,205.0 L210.0,205.0 L212.0,205.0 L214.0,205.0 L216.0,205.0 L218.0,205.0 L220.0,205.0 L222.0,205.0 L224.0,205.0 L226.0,205.0 L228.0,205.0 L230.0,205.0 L232.0,205.0 L234.0,205.0 L236.0,205.0 L238.0,205.0 L240.0,205.0 L242.0,205.0 L244.0,205.0 L246.0,205.0 L248.0,205.0 L250.0,205.0 L252.0,205.0 L254.0,205.0 L256.0,205.0 L258.0,205.0 L260.0,205.0 L262.0,205.0 L264.0,205.0 L266.0,205.0 L268.0,205.0 L270.0,204.0 L272.0,204.0 L274.0,204.0 L276.0,204.0 L278.0,204.0 L280.0,204.0 L282.0,204.0 L284.0,204.0 L286.0,204.0 L288.0,204.0 L290.0,204.0 L292.0,204.0 L294.0,204.0 L296.0,204.0 L298.0,204.0 L300.0,204.0 L302.0,204.0 L304.0,204.0 L306.0,204.0 L308.0,204.0 L310.0,204.0 L312.0,204.0 L314.0,204.0 L316.0,204.0 L318.0,204.0 L320.0,204.0 L322.0,204.0 L324.0,204.0 L326.0,204.0 L328.0,204.0 L330.0,204.0 L332.0,204.0 L334.0,204.0 L336.0,204.0 M400.0,204.0 L402.0,204.0 L404.0,204.0 L406.0,204.0 L408.0,204.0 L410.0,204.0 L412.0,204.0 L414.0,204.0 L416.0,204.0 L418.0,204.0 L420.0,204.0 L422.0,204.0 L424.0,204.0 L426.0,204.0 L428.0,204.0 L430.0,204.0 L432.0,204.0 L434.0,204.0 L436.0,204.0 L438.0,204.0 L440.0,204.0 L442.0,204.0 L444.0,204.0 L446.0,204.0 L448.0,204.0 L450.0,204.0 L452.0,204.0 L454.0,204.0 L456.0,204.0 L458.0,204.0 L460.0,204.0 L462.0,204.0 L464.0,204.0 L466.0,204.0 L468.0,204.0 L470.0,204.0 L472.0,204.0 L474.0,204.0 L476.0,204.0 L478.0,204.0 L480.0,204.0 L482.0,204.0 L484.0,204.0 L486.0,204.0 L488.0,204.0 L490.0,204.0 L492.0,204.0 L494.0,204.0 L496.0,204.0 L498.0,204.0 L500.0,204.0 L502.0,204.0 L504.0,204.0 L506.0,204.0 L508.0,204.0 L510.0,204.0 L512.0,204.0 L514.0,204.0 L516.0,204.0 L518.0,204.0 L520.0,204.0 L522.0,204.0 L524.0,204.0 L526.0,204.0 L528.0,204.0 L530.0,204.0 L532.0,204.0 L534.0,204.0 L536.0,204.0 L538.0,204.0 L540.0,204.0 L542.0,204.0 L544.0,204.0 L546.0,204.0 L548.0,204.0 L550.0,204.0 L552.0,204.0 L554.0,204.0 L556.0,204.0 L558.0,204.0 L560.0,204.0 L562.0,204.0 L564.0,204.0 L566.0,204.0 L568.0,204.0 L570.0,204.0 L572.0,204.0 L574.0,204.0 L576.0,204.0 L578.0,204.0 L580.0,204.0 L582.0,204.0 L584.0,204.0 L586.0,204.0 L588.0,204.0 L590.0,204.0 L592.0,204.0 L594.0,204.0 L596.0,204.0 L598.0,204.0 L600.0,204.0 L602.0,204.0 L604.0,204.0 L606.0,204.0 L608.0,204.0 L610.0,204.0 L612.0,204.0 L614.0,204.0 L616.0,204.0 L618.0,204.0 L620.0,203.0 L622.0,203.0 L624.0,203.0 L626.0,203.0 L628.0,203.0 L630.0,203.0 L632.0,203.0 L634.0,203.0 L636.0,204.0 L638.0,204.0 L640.0,204.0 L642.0,204.0 L644.0,204.0 L646.0,204.0 L648.0,204.0 L650.0,204.0 L652.0,204.0 L654.0,204.0 L656.0,204.0 L658.0,204.0 L660.0,204.0 L662.0,204.0 L664.0,204.0 L666.0,204.0 L668.0,204.0 L670.0,204.0 L672.0,204.0 L674.0,204.0 L676.0,204.0 L678.0,204.0 L680.0,204.0 L682.0,204.0 L684.0,204.0 L686.0,204.0 L688.0,204.0 L690.0,204.0 L692.0,204.0 L694.0,204.0 L696.0,204.0 L698.0,204.0 L700.0,204.0 L702.0,204.0 L704.0,204.0 L706.0,204.0 L708.0,204.0 L710.0,204.0 L712.0,204.0 L714.0,204.0 L716.0,204.0 L718.0,204.0 L720.0,204.0 L722.0,204.0 L724.0,204.0 L726.0,204.0 L728.0,204.0 L730.0,204.0 L732.0,204.0 L734.0,204.0 L736.0,204.0 L738.0,204.0 L740.0,204.0 L742.0,204.0 L744.0,204.0 L746.0,204.0 L748.0,204.0 L750.0,204.0 L752.0,204.0 L754.0,204.0 L756.0,204.0 L758.0,204.0 L760.0,204.0 L762.0,204.0 L764.0,204.0 L766.0,204.0 L768.0,204.0" fill="none" stroke="#000" stroke-width="2" stroke-dasharray="6.6 4.4"/>
<path d="M136.0,326.2 L138.0,326.3 L140.0,326.5 L142.0,326.6 L144.0,326.7 L146.0,326.9 L148.0,327.0 L150.0,327.1 L152.0,327.3 L154.0,327.4 L156.0,327.5 L158.0,327.5 L160.0,327.6 L162.0,327.7 L164.0,327.8 L166.0,327.8 L168.0,327.9 L170.0,328.0 L172.0,328.0 L174.0,327.9 L176.0,327.8 L178.0,327.8 L180.0,327.7 L182.0,327.6 L184.0,327.6 L186.0,327.5 L188.0,327.4 L190.0,327.3 L192.0,327.2 L194.0,327.0 L196.0,326.8 L198.0,326.7 L200.0,326.5 L202.0,326.3 L204.0,326.2 L206.0,326.0 L208.0,325.9 L210.0,325.7 L212.0,325.6 L214.0,325.5 L216.0,325.4 L218.0,325.3 L220.0,325.6 L222.0,326.2 L224.0,326.8 L226.0,327.4 L228.0,327.4 L230.0,327.3 L232.0,327.3 L234.0,327.2 L236.0,327.2 L238.0,327.2 L240.0,327.1 L242.0,327.1 L244.0,327.1 L246.0,327.0 L248.0,327.0 L250.0,326.9 L252.0,326.9 L254.0,326.8 L256.0,326.8 L258.0,326.7 L260.0,326.7 L262.0,326.8 L264.0,327.0 L266.0,327.1 L268.0,327.3 L270.0,327.4 L272.0,327.6 L274.0,327.7 L276.0,327.9 L278.0,328.0 L280.0,328.1 L282.0,328.2 L284.0,328.3 L286.0,328.4 L288.0,328.4 L290.0,328.5 L292.0,328.6 L294.0,328.7 L296.0,328.8 L298.0,328.8 L300.0,328.8 L302.0,328.8 L304.0,328.8 L306.0,328.8 L308.0,328.8 L310.0,328.8 L312.0,328.8 L314.0,328.8 L316.0,328.8 L318.0,328.8 L320.0,328.8 L322.0,328.8 L324.0,328.8 L326.0,328.8 L328.0,328.8 L330.0,328.8 L332.0,328.6 L334.0,328.1 L336.0,327.6 L338.0,327.2 L340.0,326.7 L342.0,326.6 L344.0,326.4 L346.0,326.3 L348.0,326.1 L350.0,326.0 L352.0,325.8 L354.0,325.7 L356.0,325.5 L358.0,325.4 L360.0,325.2 L362.0,325.1 L364.0,325.0 L366.0,325.0 L368.0,325.0 L370.0,325.0 L372.0,325.0 L374.0,325.0 L376.0,325.0 L378.0,325.3 L380.0,325.6 L382.0,325.9 L384.0,326.2 L386.0,326.2 L388.0,326.2 L390.0,326.2 L392.0,326.2 L394.0,326.2 L396.0,326.2 L398.0,326.2 L400.0,326.2 L402.0,326.2 L404.0,326.2 L406.0,326.2 L408.0,326.3 L410.0,326.5 L412.0,326.6 L414.0,326.7 L416.0,326.8 L418.0,327.0 L420.0,327.1 L422.0,327.1 L424.0,327.1 L426.0,327.2 L428.0,327.2 L430.0,327.2 L432.0,327.2 L434.0,327.2 L436.0,327.2 L438.0,327.2 L440.0,327.3 L442.0,327.3 L444.0,327.3 L446.0,327.3 L448.0,327.3 L450.0,327.3 L452.0,327.4 L454.0,327.4 L456.0,327.4 L458.0,327.4 L460.0,327.4 L462.0,327.4 L464.0,327.4 L466.0,327.4 L468.0,327.4 L470.0,327.4 L472.0,327.4 L474.0,327.4 L476.0,327.4 L478.0,327.4 L480.0,327.4 L482.0,327.4 L484.0,327.4 L486.0,327.4 L488.0,327.4 L490.0,327.4 L492.0,327.4 L494.0,327.4 L496.0,327.4 L498.0,327.4 L500.0,327.4 L502.0,327.0 L504.0,326.6 L506.0,326.2 L508.0,326.3 L510.0,326.4 L512.0,326.6 L514.0,326.7 L516.0,326.6 L518.0,326.5 L520.0,326.5 L522.0,326.4 L524.0,326.3 L526.0,326.2 L528.0,326.1 L530.0,326.0 L532.0,326.0 L534.0,325.9 L536.0,325.8 L538.0,325.7 L540.0,325.6 L542.0,325.5 L544.0,325.5 L546.0,325.4 L548.0,325.3 L550.0,325.4 L552.0,325.5 L554.0,325.6 L556.0,325.9 L558.0,326.3 L560.0,326.7 L562.0,327.1 L564.0,327.1 L566.0,327.1 L568.0,327.1 L570.0,327.1 L572.0,327.2 L574.0,327.2 L576.0,327.2 L578.0,327.2 L580.0,327.2 L582.0,327.2 L584.0,327.2 L586.0,327.2 L588.0,327.2 L590.0,327.3 L592.0,327.3 L594.0,327.3 L596.0,327.3 L598.0,327.3 L600.0,327.3 L602.0,327.3 L604.0,327.3 L606.0,327.3 L608.0,327.4 L610.0,327.4 L612.0,327.4 L614.0,327.4 L616.0,327.4 L618.0,327.4 L620.0,327.3 L622.0,327.3 L624.0,327.3 L626.0,327.3 L628.0,327.2 L630.0,327.2 L632.0,327.2 L634.0,327.2 L636.0,327.1 L638.0,327.1 L640.0,327.1 L642.0,327.1 L644.0,327.0 L646.0,327.0 L648.0,327.0 L650.0,327.0 L652.0,326.9 L654.0,326.9 L656.0,326.9 L658.0,326.8 L660.0,326.8 L662.0,326.8 L664.0,326.8 L666.0,326.7 L668.0,326.7 L670.0,327.1 L672.0,327.8 L674.0,328.5 L676.0,328.1 L678.0,327.6 L680.0,327.2 L682.0,326.8 L684.0,326.3 L686.0,325.9 L688.0,325.6 L690.0,325.3 L692.0,325.0 L694.0,324.8 L696.0,324.5 L698.0,324.6 L700.0,324.9 L702.0,325.2 L704.0,325.5 L706.0,325.9 L708.0,326.2 L710.0,326.0 L712.0,325.9 L714.0,325.7 L716.0,325.5 L718.0,325.3 L720.0,325.2 L722.0,325.0 L724.0,324.8 L726.0,324.7 L728.0,324.5 L730.0,324.6 L732.0,324.9 L734.0,325.2 L736.0,325.5 L738.0,325.9 L740.0,326.2 L742.0,326.2 L744.0,326.2 L746.0,326.2 L748.0,326.2 L750.0,326.2 L752.0,326.2 L754.0,326.2 L756.0,326.2 L758.0,326.2 L760.0,326.2 L762.0,326.2 L764.0,326.2 L766.0,326.2 L768.0,326.2" fill="none" stroke="#000" stroke-width="1" stroke-dasharray="6.6 4.4"/>
</g>
<g shape-rendering="crispEdges" fill="#000">
<rect x="160" y="458" width="1" height="5"/>
<rect x="160" y="146" width="1" height="6"/>
<rect x="184" y="453" width="2" height="10"/>
<rect x="184" y="146" width="2" height="10"/>
<rect x="210" y="458" width="1" height="5"/>
<rect x="210" y="146" width="1" height="6"/>
<rect x="235" y="453" width="2" height="10"/>
<rect x="235" y="146" width="2" height="10"/>
<rect x="261" y="458" width="1" height="5"/>
<rect x="261" y="146" width="1" height="6"/>
<rect x="286" y="453" width="2" height="10"/>
<rect x="286" y="146" width="2" height="10"/>
<rect x="312" y="458" width="1" height="5"/>
<rect x="312" y="146" width="1" height="6"/>
<rect x="336" y="453" width="2" height="10"/>
<rect x="336" y="146" width="2" height="10"/>
<rect x="363" y="458" width="1" height="5"/>
<rect x="363" y="146" width="1" height="6"/>
<rect x="387" y="453" width="2" height="10"/>
<rect x="387" y="146" width="2" height="10"/>
<rect x="414" y="458" width="1" height="5"/>
<rect x="414" y="146" width="1" height="6"/>
<rect x="438" y="453" width="2" height="10"/>
<rect x="438" y="146" width="2" height="10"/>
<rect x="465" y="458" width="1" height="5"/>
<rect x="465" y="146" width="1" height="6"/>
<rect x="489" y="453" width="2" height="10"/>
<rect x="489" y="146" width="2" height="10"/>
<rect x="515" y="458" width="1" height="5"/>
<rect x="515" y="146" width="1" height="6"/>
<rect x="540" y="453" width="2" height="10"/>
<rect x="540" y="146" width="2" height="10"/>
<rect x="566" y="458" width="1" height="5"/>
<rect x="566" y="146" width="1" height="6"/>
<rect x="591" y="453" width="2" height="10"/>
<rect x="591" y="146" width="2" height="10"/>
<rect x="617" y="458" width="1" height="5"/>
<rect x="617" y="146" width="1" height="6"/>
<rect x="641" y="453" width="2" height="10"/>
<rect x="641" y="146" width="2" height="10"/>
<rect x="668" y="458" width="1" height="5"/>
<rect x="668" y="146" width="1" height="6"/>
<rect x="692" y="453" width="2" height="10"/>
<rect x="692" y="146" width="2" height="10"/>
<rect x="719" y="458" width="1" height="5"/>
<rect x="719" y="146" width="1" height="6"/>
<rect x="743" y="453" width="2" height="10"/>
<rect x="743" y="146" width="2" height="10"/>
<rect x="136" y="448" width="5" height="1"/>
<rect x="764" y="448" width="4" height="1"/>
<rect x="136" y="432" width="5" height="1"/>
<rect x="764" y="432" width="4" height="1"/>
<rect x="136" y="416" width="5" height="1"/>
<rect x="764" y="416" width="4" height="1"/>
<rect x="136" y="400" width="5" height="1"/>
<rect x="764" y="400" width="4" height="1"/>
<rect x="136" y="383" width="10" height="2"/>
<rect x="759" y="383" width="9" height="2"/>
<rect x="136" y="368" width="5" height="1"/>
<rect x="764" y="368" width="4" height="1"/>
<rect x="136" y="352" width="5" height="1"/>
<rect x="764" y="352" width="4" height="1"/>
<rect x="136" y="336" width="5" height="1"/>
<rect x="764" y="336" width="4" height="1"/>
<rect x="136" y="320" width="5" height="1"/>
<rect x="764" y="320" width="4" height="1"/>
<rect x="136" y="304" width="10" height="2"/>
<rect x="759" y="304" width="9" height="2"/>
<rect x="136" y="289" width="5" height="1"/>
<rect x="764" y="289" width="4" height="1"/>
<rect x="136" y="273" width="5" height="1"/>
<rect x="764" y="273" width="4" height="1"/>
<rect x="136" y="257" width="5" height="1"/>
<rect x="764" y="257" width="4" height="1"/>
<rect x="136" y="241" width="5" height="1"/>
<rect x="764" y="241" width="4" height="1"/>
<rect x="136" y="224" width="10" height="2"/>
<rect x="759" y="224" width="9" height="2"/>
<rect x="136" y="209" width="5" height="1"/>
<rect x="764" y="209" width="4" height="1"/>
<rect x="136" y="193" width="5" height="1"/>
<rect x="764" y="193" width="4" height="1"/>
<rect x="136" y="177" width="5" height="1"/>
<rect x="764" y="177" width="4" height="1"/>
<rect x="136" y="161" width="5" height="1"/>
<rect x="764" y="161" width="4" height="1"/>
<rect x="136" y="146" width="632" height="317" fill="none" stroke="#000" stroke-width="2"/>
</g>
<g shape-rendering="crispEdges">
<rect x="315" y="598" width="274" height="20" fill="#000"/>
<rect x="317.15" y="600" width="1.7" height="16" fill="#a000c8"/>
<rect x="320.77" y="600" width="1.7" height="16" fill="#8200c8"/>
<rect x="324.39" y="600" width="1.7" height="16" fill="#6900be"/>
<rect x="328.02" y="600" width="1.7" height="16" fill="#4b00c8"/>
<rect x="331.64" y="600" width="1.7" height="16" fill="#2d00be"/>
<rect x="335.26" y="600" width="1.7" height="16" fill="#0000b9"/>
<rect x="338.88" y="600" width="1.7" height="16" fill="#0000cd"/>
<rect x="342.50" y="600" width="1.7" height="16" fill="#0000e1"/>
<rect x="346.13" y="600" width="1.7" height="16" fill="#0000f0"/>
<rect x="349.75" y="600" width="1.7" height="16" fill="#0000ff"/>
<rect x="353.37" y="600" width="1.7" height="16" fill="#000aff"/>
<rect x="356.99" y="600" width="1.7" height="16" fill="#001eff"/>
<rect x="360.61" y="600" width="1.7" height="16" fill="#0032ff"/>
<rect x="364.24" y="600" width="1.7" height="16" fill="#004bff"/>
<rect x="367.86" y="600" width="1.7" height="16" fill="#0064ff"/>
<rect x="371.48" y="600" width="1.7" height="16" fill="#0078ff"/>
<rect x="375.10" y="600" width="1.7" height="16" fill="#008cff"/>
<rect x="378.72" y="600" width="1.7" height="16" fill="#009bff"/>
<rect x="382.35" y="600" width="1.7" height="16" fill="#00aaff"/>
<rect x="385.97" y="600" width="1.7" height="16" fill="#00b9ff"/>
<rect x="389.59" y="600" width="1.7" height="16" fill="#00c8ff"/>
<rect x="393.21" y="600" width="1.7" height="16" fill="#00dcff"/>
<rect x="396.83" y="600" width="1.7" height="16" fill="#00f0ff"/>
<rect x="400.46" y="600" width="1.7" height="16" fill="#00ffff"/>
<rect x="404.08" y="600" width="1.7" height="16" fill="#00ffeb"/>
<rect x="407.70" y="600" width="1.7" height="16" fill="#00ffd7"/>
<rect x="411.32" y="600" width="1.7" height="16" fill="#00fac3"/>
<rect x="414.94" y="600" width="1.7" height="16" fill="#00f5b2"/>
<rect x="418.57" y="600" width="1.7" height="16" fill="#00f5a0"/>
<rect x="422.19" y="600" width="1.7" height="16" fill="#00f08c"/>
<rect x="425.81" y="600" width="1.7" height="16" fill="#00f078"/>
<rect x="429.43" y="600" width="1.7" height="16" fill="#00f064"/>
<rect x="433.05" y="600" width="1.7" height="16" fill="#00f055"/>
<rect x="436.68" y="600" width="1.7" height="16" fill="#00f046"/>
<rect x="440.30" y="600" width="1.7" height="16" fill="#00f532"/>
<rect x="443.92" y="600" width="1.7" height="16" fill="#00f523"/>
<rect x="447.54" y="600" width="1.7" height="16" fill="#00fa14"/>
<rect x="451.16" y="600" width="1.7" height="16" fill="#00ff00"/>
<rect x="454.79" y="600" width="1.7" height="16" fill="#14ff00"/>
<rect x="458.41" y="600" width="1.7" height="16" fill="#28ff00"/>
<rect x="462.03" y="600" width="1.7" height="16" fill="#37ff00"/>
<rect x="465.65" y="600" width="1.7" height="16" fill="#46ff00"/>
<rect x="469.27" y="600" width="1.7" height="16" fill="#5aff00"/>
<rect x="472.90" y="600" width="1.7" height="16" fill="#6eff00"/>
<rect x="476.52" y="600" width="1.7" height="16" fill="#7dff00"/>
<rect x="480.14" y="600" width="1.7" height="16" fill="#8cff00"/>
<rect x="483.76" y="600" width="1.7" height="16" fill="#a0ff00"/>
<rect x="487.38" y="600" width="1.7" height="16" fill="#b4ff00"/>
<rect x="491.01" y="600" width="1.7" height="16" fill="#c8ff00"/>
<rect x="494.63" y="600" width="1.7" height="16" fill="#dcff00"/>
<rect x="498.25" y="600" width="1.7" height="16" fill="#eeff00"/>
<rect x="501.87" y="600" width="1.7" height="16" fill="#ffff00"/>
<rect x="505.49" y="600" width="1.7" height="16" fill="#ffee00"/>
<rect x="509.12" y="600" width="1.7" height="16" fill="#ffdc00"/>
<rect x="512.74" y="600" width="1.7" height="16" fill="#ffc800"/>
<rect x="516.36" y="600" width="1.7" height="16" fill="#ffb400"/>
<rect x="519.98" y="600" width="1.7" height="16" fill="#ffa500"/>
<rect x="523.60" y="600" width="1.7" height="16" fill="#ff9600"/>
<rect x="527.23" y="600" width="1.7" height="16" fill="#ff8c00"/>
<rect x="530.85" y="600" width="1.7" height="16" fill="#ff7d00"/>
<rect x="534.47" y="600" width="1.7" height="16" fill="#ff6e00"/>
<rect x="538.09" y="600" width="1.7" height="16" fill="#ff5a00"/>
<rect x="541.71" y="600" width="1.7" height="16" fill="#ff4600"/>
<rect x="545.34" y="600" width="1.7" height="16" fill="#ff3200"/>
<rect x="548.96" y="600" width="1.7" height="16" fill="#ff2300"/>
<rect x="552.58" y="600" width="1.7" height="16" fill="#ff0f00"/>
<rect x="556.20" y="600" width="1.7" height="16" fill="#ff0000"/>
<rect x="559.82" y="600" width="1.7" height="16" fill="#ff1e1e"/>
<rect x="563.45" y="600" width="1.7" height="16" fill="#ff3232"/>
<rect x="567.07" y="600" width="1.7" height="16" fill="#ff4646"/>
<rect x="570.69" y="600" width="1.7" height="16" fill="#ff5a5a"/>
<rect x="574.31" y="600" width="1.7" height="16" fill="#ff6e6e"/>
<rect x="577.93" y="600" width="1.7" height="16" fill="#ff7d7d"/>
<rect x="581.56" y="600" width="1.7" height="16" fill="#ff8c8c"/>
<rect x="585.18" y="600" width="1.7" height="16" fill="#ffa0a0"/>
</g>
<g style="opacity:0.999">
<text x="182.8" y="101.8" font-size="29" text-anchor="start" textLength="165.0" lengthAdjust="spacingAndGlyphs" stroke="#fff" stroke-width="0.5">disturbunce</text>
<text x="363.9" y="101.8" font-size="29" text-anchor="start" textLength="28.8" lengthAdjust="spacingAndGlyphs" stroke="#fff" stroke-width="0.5">of</text>
<text x="408.8" y="101.8" font-size="29" text-anchor="start" textLength="120.2" lengthAdjust="spacingAndGlyphs" stroke="#fff" stroke-width="0.5">potential</text>
<text x="545.7" y="101.8" font-size="29" text-anchor="start" textLength="175.3" lengthAdjust="spacingAndGlyphs" stroke="#fff" stroke-width="0.5">temperature</text>
<text x="185.3" y="484.8" font-size="19.3" text-anchor="middle" stroke="#000" stroke-width="0.45">4</text>
<text x="236.1" y="484.8" font-size="19.3" text-anchor="middle" stroke="#000" stroke-width="0.45">8</text>
<text x="286.9" y="484.8" font-size="19.3" text-anchor="middle" stroke="#000" stroke-width="0.45">12</text>
<text x="337.8" y="484.8" font-size="19.3" text-anchor="middle" stroke="#000" stroke-width="0.45">16</text>
<text x="388.6" y="484.8" font-size="19.3" text-anchor="middle" stroke="#000" stroke-width="0.45">20</text>
<text x="439.4" y="484.8" font-size="19.3" text-anchor="middle" stroke="#000" stroke-width="0.45">24</text>
<text x="490.2" y="484.8" font-size="19.3" text-anchor="middle" stroke="#000" stroke-width="0.45">28</text>
<text x="541.0" y="484.8" font-size="19.3" text-anchor="middle" stroke="#000" stroke-width="0.45">32</text>
<text x="591.9" y="484.8" font-size="19.3" text-anchor="middle" stroke="#000" stroke-width="0.45">36</text>
<text x="642.7" y="484.8" font-size="19.3" text-anchor="middle" stroke="#000" stroke-width="0.45">40</text>
<text x="693.5" y="484.8" font-size="19.3" text-anchor="middle" stroke="#000" stroke-width="0.45">44</text>
<text x="744.3" y="484.8" font-size="19.3" text-anchor="middle" stroke="#000" stroke-width="0.45">48</text>
<text x="126.8" y="390.0" font-size="20" text-anchor="end" stroke="#000" stroke-width="0.45">5</text>
<text x="126.8" y="310.5" font-size="20" text-anchor="end" stroke="#000" stroke-width="0.45">10</text>
<text x="126.8" y="231.0" font-size="20" text-anchor="end" stroke="#000" stroke-width="0.45">15</text>
<text x="45.5" y="495.2" font-size="19" text-anchor="start" textLength="98.5" lengthAdjust="spacingAndGlyphs">(×1000 m)</text>
<text x="683.3" y="507.2" font-size="19" text-anchor="start" textLength="98.5" lengthAdjust="spacingAndGlyphs">(×1000 m)</text>
<text y="537" font-size="25" stroke="#fff" stroke-width="0.15"><tspan x="375.6" textLength="13" lengthAdjust="spacingAndGlyphs">X</tspan><tspan x="389.8" textLength="17.5" lengthAdjust="spacingAndGlyphs">-</tspan><tspan x="408.6" textLength="120.3" lengthAdjust="spacingAndGlyphs">coordinate</tspan></text>
<text transform="translate(91.2,381) rotate(-90)" y="0" font-size="25" stroke="#fff" stroke-width="0.15"><tspan x="-0.3" textLength="12.6" lengthAdjust="spacingAndGlyphs">Z</tspan><tspan x="14.8" textLength="17.3" lengthAdjust="spacingAndGlyphs">-</tspan><tspan x="32.8" textLength="120.3" lengthAdjust="spacingAndGlyphs">coordinate</tspan></text>
<text x="303.7" y="583.0" font-size="18.3" text-anchor="start" textLength="81.3" lengthAdjust="spacingAndGlyphs" stroke="#000" stroke-width="0.45">CONTOUR</text>
<text x="394.7" y="583.0" font-size="18.3" text-anchor="start" textLength="75.9" lengthAdjust="spacingAndGlyphs" stroke="#000" stroke-width="0.45">INTERVAL</text>
<text x="479.6" y="583.0" font-size="18.3" text-anchor="start" textLength="13.3" lengthAdjust="spacingAndGlyphs" stroke="#000" stroke-width="0.45">=</text>
<text x="502.6" y="583.0" font-size="18.3" text-anchor="start" textLength="97.2" lengthAdjust="spacingAndGlyphs" stroke="#000" stroke-width="0.45">3.000E+00</text>
<text x="336.3" y="637.0" font-size="17.5" text-anchor="start" textLength="33.2" lengthAdjust="spacingAndGlyphs" stroke="#000" stroke-width="0.45">−12</text>
<text x="406.7" y="637.0" font-size="17.5" text-anchor="middle" stroke="#000" stroke-width="0.45">0</text>
<text x="462.3" y="637.0" font-size="17.5" text-anchor="middle" stroke="#000" stroke-width="0.45">12</text>
<text x="516.0" y="637.0" font-size="17.5" text-anchor="middle" stroke="#000" stroke-width="0.45">24</text>
<text x="570.0" y="637.0" font-size="17.5" text-anchor="middle" stroke="#000" stroke-width="0.45">36</text>
<text x="633.5" y="609.3" font-size="18.5" text-anchor="start" textLength="98.5" lengthAdjust="spacingAndGlyphs" stroke="#fff" stroke-width="0.25">t=318000 s</text>
<text x="25.5" y="652.0" font-size="9.5" text-anchor="start" textLength="78.5" lengthAdjust="spacingAndGlyphs">/usr/bin/gpview</text>
<text x="114.5" y="652.0" font-size="9.5" text-anchor="start" textLength="64.0" lengthAdjust="spacingAndGlyphs">2008-12-20</text>
<text x="516.5" y="652.0" font-size="9.5" text-anchor="start" textLength="336.0" lengthAdjust="spacingAndGlyphs">MarsCond_PotTemp.nc@PotTempDist,x=0:50000,z=0:20000,t=318000</text>
<text x="342.5" y="156.8" font-size="18.5" text-anchor="start" textLength="52.0" lengthAdjust="spacingAndGlyphs" stroke="#000" stroke-width="0.5">−12.0</text>
<text x="342.5" y="209.6" font-size="18.5" text-anchor="start" textLength="52.0" lengthAdjust="spacingAndGlyphs" stroke="#000" stroke-width="0.5">−6.00</text>
<text transform="translate(338.8,343.3) rotate(-3)" font-size="18.5" textLength="39.5" lengthAdjust="spacingAndGlyphs" stroke="#000" stroke-width="0.5">0.00</text>
<text transform="translate(338.8,360.9) rotate(-3)" font-size="18.5" textLength="39.5" lengthAdjust="spacingAndGlyphs" stroke="#000" stroke-width="0.5">6.00</text>
<text transform="translate(338.8,379.3) rotate(-3)" font-size="18.5" textLength="39.5" lengthAdjust="spacingAndGlyphs" stroke="#000" stroke-width="0.5">12.0</text>
<text transform="translate(338.8,398.4) rotate(-3)" font-size="18.5" textLength="39.5" lengthAdjust="spacingAndGlyphs" stroke="#000" stroke-width="0.5">18.0</text>
</g>
</svg>
</body></html>
